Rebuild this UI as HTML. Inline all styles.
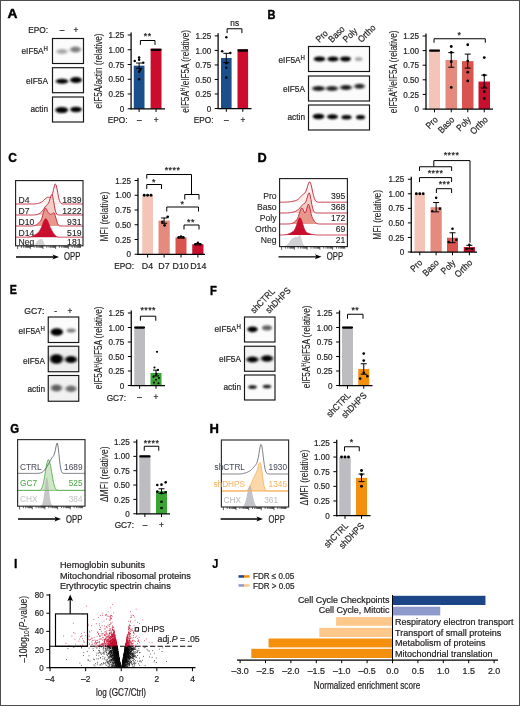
<!DOCTYPE html>
<html><head><meta charset="utf-8"><title>Figure</title>
<style>html,body{margin:0;padding:0;background:#fff;}body{width:520px;height:706px;overflow:hidden;}svg text{white-space:pre;}</style>
</head><body>
<svg width="520" height="706" viewBox="0 0 520 706" font-family='"Liberation Sans", sans-serif' style="display:block">
<defs><filter id="b1" x="-50%" y="-50%" width="200%" height="200%"><feGaussianBlur stdDeviation="1.1 0.8"/></filter><filter id="b2" x="-50%" y="-50%" width="200%" height="200%"><feGaussianBlur stdDeviation="1.6 1.3"/></filter><filter id="b0" x="-50%" y="-50%" width="200%" height="200%"><feGaussianBlur stdDeviation="0.35"/></filter><clipPath id="c3"><rect x="52.5" y="38.5" width="31.0" height="25.0"/></clipPath><clipPath id="c4"><rect x="52.5" y="67.7" width="31.0" height="25.0"/></clipPath><clipPath id="c5"><rect x="52.5" y="97" width="31.0" height="25"/></clipPath><clipPath id="c6"><rect x="308.5" y="46.5" width="61.0" height="25.0"/></clipPath><clipPath id="c7"><rect x="308.5" y="76" width="61.0" height="25"/></clipPath><clipPath id="c8"><rect x="308.5" y="105" width="61.0" height="25"/></clipPath><clipPath id="c9"><rect x="48.25" y="317" width="30.5" height="25.5"/></clipPath><clipPath id="c10"><rect x="48.25" y="346.25" width="30.5" height="25.5"/></clipPath><clipPath id="c11"><rect x="48.25" y="375.5" width="30.5" height="25.75"/></clipPath><clipPath id="c12"><rect x="244.5" y="317" width="30.5" height="25"/></clipPath><clipPath id="c13"><rect x="244.5" y="346.25" width="30.5" height="25.0"/></clipPath><clipPath id="c14"><rect x="244.5" y="375" width="30.5" height="25"/></clipPath></defs>
<rect x="0.00" y="0.00" width="520.00" height="706.00" fill="#fff"/>
<rect x="0.50" y="0.50" width="519.00" height="705.00" fill="none" stroke="#4d4d4d" stroke-width="1"/>
<text transform="translate(7.50 18.00) scale(1.06 1)" font-size="13" text-anchor="start" fill="#000" font-weight="bold" stroke="#000" stroke-width="0.5" stroke-linejoin="round">A</text>
<text transform="translate(48.00 33.00) scale(0.9 1)" font-size="9.2" text-anchor="end" fill="#231f20" stroke="#231f20" stroke-width="0.22">EPO:</text>
<text transform="translate(62.00 33.00) scale(0.9 1)" font-size="9.2" text-anchor="middle" fill="#231f20" stroke="#231f20" stroke-width="0.22">–</text>
<text transform="translate(76.00 33.00) scale(0.9 1)" font-size="9.2" text-anchor="middle" fill="#231f20" stroke="#231f20" stroke-width="0.22">+</text>
<rect x="52.50" y="38.50" width="31.00" height="25.00" fill="#fbfbfb"/>
<g clip-path="url(#c3)">
<ellipse cx="62" cy="51.5" rx="5.6" ry="2.5" fill="#000" opacity="0.33" filter="url(#b2)"/>
<ellipse cx="75.5" cy="49.5" rx="5.4" ry="3.0" fill="#000" opacity="0.5" filter="url(#b2)"/>
</g>
<rect x="52.50" y="38.50" width="31.00" height="25.00" fill="none" stroke="#151515" stroke-width="1.15"/>
<rect x="52.50" y="67.70" width="31.00" height="25.00" fill="#fbfbfb"/>
<g clip-path="url(#c4)">
<ellipse cx="62" cy="81.3" rx="6.2" ry="2.5" fill="#000" opacity="1" filter="url(#b1)"/>
<ellipse cx="76" cy="80" rx="6" ry="3.0" fill="#000" opacity="1" filter="url(#b1)"/>
</g>
<rect x="52.50" y="67.70" width="31.00" height="25.00" fill="none" stroke="#151515" stroke-width="1.15"/>
<rect x="52.50" y="97.00" width="31.00" height="25.00" fill="#fbfbfb"/>
<g clip-path="url(#c5)">
<ellipse cx="61.7" cy="110" rx="6.4" ry="3.1" fill="#000" opacity="1" filter="url(#b1)"/>
<ellipse cx="76" cy="109.5" rx="5.8" ry="2.7" fill="#000" opacity="1" filter="url(#b1)"/>
</g>
<rect x="52.50" y="97.00" width="31.00" height="25.00" fill="none" stroke="#151515" stroke-width="1.15"/>
<text transform="translate(48.00 54.00) scale(0.9 1)" font-size="9.2" text-anchor="end" fill="#231f20" stroke="#231f20" stroke-width="0.22">eIF5A<tspan font-size="6.8" dy="-3.4">H</tspan></text>
<text transform="translate(48.00 83.80) scale(0.9 1)" font-size="9.2" text-anchor="end" fill="#231f20" stroke="#231f20" stroke-width="0.22">eIF5A</text>
<text transform="translate(48.00 112.00) scale(0.9 1)" font-size="9.2" text-anchor="end" fill="#231f20" stroke="#231f20" stroke-width="0.22">actin</text>
<text transform="translate(101.50 71.00) rotate(-90) scale(0.79 1)" font-size="10.3" text-anchor="middle" fill="#231f20" stroke="#231f20" stroke-width="0.1">eIF5A/actin (relative)</text>
<rect x="133.75" y="65.68" width="10.75" height="43.07" fill="#1b4f8c"/>
<rect x="150.60" y="48.65" width="10.90" height="60.10" fill="#cb0c2c"/>
<line x1="131.10" y1="32.40" x2="131.10" y2="109.35" stroke="#000" stroke-width="1.25"/>
<line x1="130.40" y1="108.75" x2="165.00" y2="108.75" stroke="#000" stroke-width="1.25"/>
<line x1="127.70" y1="35.00" x2="131.10" y2="35.00" stroke="#000" stroke-width="1.0"/>
<text transform="translate(124.20 38.10) scale(0.89 1)" font-size="9.1" text-anchor="end" fill="#231f20" stroke="#231f20" stroke-width="0.22">1.25</text>
<line x1="127.70" y1="49.75" x2="131.10" y2="49.75" stroke="#000" stroke-width="1.0"/>
<text transform="translate(124.20 52.85) scale(0.89 1)" font-size="9.1" text-anchor="end" fill="#231f20" stroke="#231f20" stroke-width="0.22">1.00</text>
<line x1="127.70" y1="64.50" x2="131.10" y2="64.50" stroke="#000" stroke-width="1.0"/>
<text transform="translate(124.20 67.60) scale(0.89 1)" font-size="9.1" text-anchor="end" fill="#231f20" stroke="#231f20" stroke-width="0.22">0.75</text>
<line x1="127.70" y1="79.25" x2="131.10" y2="79.25" stroke="#000" stroke-width="1.0"/>
<text transform="translate(124.20 82.35) scale(0.89 1)" font-size="9.1" text-anchor="end" fill="#231f20" stroke="#231f20" stroke-width="0.22">0.50</text>
<line x1="127.70" y1="94.00" x2="131.10" y2="94.00" stroke="#000" stroke-width="1.0"/>
<text transform="translate(124.20 97.10) scale(0.89 1)" font-size="9.1" text-anchor="end" fill="#231f20" stroke="#231f20" stroke-width="0.22">0.25</text>
<line x1="127.70" y1="108.75" x2="131.10" y2="108.75" stroke="#000" stroke-width="1.0"/>
<text transform="translate(124.20 111.85) scale(0.89 1)" font-size="9.1" text-anchor="end" fill="#231f20" stroke="#231f20" stroke-width="0.22">0</text>
<line x1="139.12" y1="108.75" x2="139.12" y2="112.05" stroke="#000" stroke-width="1.0"/>
<line x1="139.12" y1="63.03" x2="139.12" y2="68.34" stroke="#000" stroke-width="1.0"/>
<line x1="136.12" y1="63.03" x2="142.12" y2="63.03" stroke="#000" stroke-width="1.0"/>
<line x1="136.12" y1="68.34" x2="142.12" y2="68.34" stroke="#000" stroke-width="1.0"/>
<circle cx="139.12" cy="57.60" r="1.25" fill="#000"/>
<circle cx="134.72" cy="60.96" r="1.25" fill="#000"/>
<circle cx="139.12" cy="59.78" r="1.25" fill="#000"/>
<circle cx="143.22" cy="62.73" r="1.25" fill="#000"/>
<circle cx="140.32" cy="69.81" r="1.25" fill="#000"/>
<circle cx="139.12" cy="71.76" r="1.25" fill="#000"/>
<circle cx="139.12" cy="79.25" r="1.25" fill="#000"/>
<line x1="156.05" y1="108.75" x2="156.05" y2="112.05" stroke="#000" stroke-width="1.0"/>
<line x1="151.70" y1="49.85" x2="160.40" y2="49.85" stroke="#000" stroke-width="2.3" stroke-linecap="round"/>
<path d="M140.40 44.90V40.50H155.00V44.90" fill="none" stroke="#000" stroke-width="1.0"/>
<text transform="translate(147.75 38.60)" font-size="8.9" text-anchor="middle" fill="#231f20" stroke="#231f20" stroke-width="0.22" letter-spacing="0.45">**</text>
<text transform="translate(127.50 123.20) scale(0.9 1)" font-size="9.2" text-anchor="end" fill="#231f20" stroke="#231f20" stroke-width="0.22">EPO:</text>
<text transform="translate(139.20 123.20) scale(0.9 1)" font-size="9.2" text-anchor="middle" fill="#231f20" stroke="#231f20" stroke-width="0.22">–</text>
<text transform="translate(156.20 123.20) scale(0.9 1)" font-size="9.2" text-anchor="middle" fill="#231f20" stroke="#231f20" stroke-width="0.22">+</text>
<text transform="translate(188.50 71.50) rotate(-90) scale(0.79 1)" font-size="10.3" text-anchor="middle" fill="#231f20" stroke="#231f20" stroke-width="0.1">eIF5A<tspan font-size="6.5" dy="-3.2">H</tspan><tspan dy="3.2">/eIF5A (relative)</tspan></text>
<rect x="221.00" y="57.97" width="10.60" height="50.53" fill="#1b4f8c"/>
<rect x="237.50" y="49.32" width="10.60" height="59.18" fill="#cb0c2c"/>
<line x1="218.10" y1="33.30" x2="218.10" y2="109.10" stroke="#000" stroke-width="1.25"/>
<line x1="217.40" y1="108.50" x2="251.50" y2="108.50" stroke="#000" stroke-width="1.25"/>
<line x1="214.70" y1="35.90" x2="218.10" y2="35.90" stroke="#000" stroke-width="1.0"/>
<text transform="translate(211.20 39.00) scale(0.89 1)" font-size="9.1" text-anchor="end" fill="#231f20" stroke="#231f20" stroke-width="0.22">1.25</text>
<line x1="214.70" y1="50.42" x2="218.10" y2="50.42" stroke="#000" stroke-width="1.0"/>
<text transform="translate(211.20 53.52) scale(0.89 1)" font-size="9.1" text-anchor="end" fill="#231f20" stroke="#231f20" stroke-width="0.22">1.00</text>
<line x1="214.70" y1="64.94" x2="218.10" y2="64.94" stroke="#000" stroke-width="1.0"/>
<text transform="translate(211.20 68.04) scale(0.89 1)" font-size="9.1" text-anchor="end" fill="#231f20" stroke="#231f20" stroke-width="0.22">0.75</text>
<line x1="214.70" y1="79.46" x2="218.10" y2="79.46" stroke="#000" stroke-width="1.0"/>
<text transform="translate(211.20 82.56) scale(0.89 1)" font-size="9.1" text-anchor="end" fill="#231f20" stroke="#231f20" stroke-width="0.22">0.50</text>
<line x1="214.70" y1="93.98" x2="218.10" y2="93.98" stroke="#000" stroke-width="1.0"/>
<text transform="translate(211.20 97.08) scale(0.89 1)" font-size="9.1" text-anchor="end" fill="#231f20" stroke="#231f20" stroke-width="0.22">0.25</text>
<line x1="214.70" y1="108.50" x2="218.10" y2="108.50" stroke="#000" stroke-width="1.0"/>
<text transform="translate(211.20 111.60) scale(0.89 1)" font-size="9.1" text-anchor="end" fill="#231f20" stroke="#231f20" stroke-width="0.22">0</text>
<line x1="226.30" y1="108.50" x2="226.30" y2="111.80" stroke="#000" stroke-width="1.0"/>
<line x1="226.30" y1="53.32" x2="226.30" y2="62.62" stroke="#000" stroke-width="1.0"/>
<line x1="223.30" y1="53.32" x2="229.30" y2="53.32" stroke="#000" stroke-width="1.0"/>
<line x1="223.30" y1="62.62" x2="229.30" y2="62.62" stroke="#000" stroke-width="1.0"/>
<circle cx="226.30" cy="37.35" r="1.25" fill="#000"/>
<circle cx="222.20" cy="51.29" r="1.25" fill="#000"/>
<circle cx="230.30" cy="53.03" r="1.25" fill="#000"/>
<circle cx="226.30" cy="63.20" r="1.25" fill="#000"/>
<circle cx="226.30" cy="67.84" r="1.25" fill="#000"/>
<circle cx="226.30" cy="77.43" r="1.25" fill="#000"/>
<line x1="242.80" y1="108.50" x2="242.80" y2="111.80" stroke="#000" stroke-width="1.0"/>
<line x1="238.60" y1="50.52" x2="247.00" y2="50.52" stroke="#000" stroke-width="2.3" stroke-linecap="round"/>
<path d="M227.10 33.15V28.75H241.90V33.15" fill="none" stroke="#000" stroke-width="1.0"/>
<text transform="translate(234.75 26.20) scale(0.9 1)" font-size="9.2" text-anchor="middle" fill="#231f20" stroke="#231f20" stroke-width="0.22">ns</text>
<text transform="translate(213.50 123.20) scale(0.9 1)" font-size="9.2" text-anchor="end" fill="#231f20" stroke="#231f20" stroke-width="0.22">EPO:</text>
<text transform="translate(226.30 123.20) scale(0.9 1)" font-size="9.2" text-anchor="middle" fill="#231f20" stroke="#231f20" stroke-width="0.22">–</text>
<text transform="translate(243.00 123.20) scale(0.9 1)" font-size="9.2" text-anchor="middle" fill="#231f20" stroke="#231f20" stroke-width="0.22">+</text>
<text transform="translate(267.60 18.50) scale(0.85 1)" font-size="13" text-anchor="start" fill="#000" font-weight="bold" stroke="#000" stroke-width="0.45" stroke-linejoin="round">B</text>
<text transform="translate(319.50 43.00) rotate(-45) scale(0.9 1)" font-size="9.2" text-anchor="start" fill="#231f20" stroke="#231f20" stroke-width="0.22">Pro</text>
<text transform="translate(332.00 43.00) rotate(-45) scale(0.9 1)" font-size="9.2" text-anchor="start" fill="#231f20" stroke="#231f20" stroke-width="0.22">Baso</text>
<text transform="translate(346.50 43.00) rotate(-45) scale(0.9 1)" font-size="9.2" text-anchor="start" fill="#231f20" stroke="#231f20" stroke-width="0.22">Poly</text>
<text transform="translate(361.50 43.00) rotate(-45) scale(0.9 1)" font-size="9.2" text-anchor="start" fill="#231f20" stroke="#231f20" stroke-width="0.22">Ortho</text>
<rect x="308.50" y="46.50" width="61.00" height="25.00" fill="#fbfbfb"/>
<g clip-path="url(#c6)">
<ellipse cx="319.5" cy="59" rx="5.8" ry="2.6" fill="#000" opacity="1" filter="url(#b1)"/>
<ellipse cx="333" cy="59" rx="5.6" ry="2.6" fill="#000" opacity="1" filter="url(#b1)"/>
<ellipse cx="345.5" cy="59" rx="5.3" ry="2.4" fill="#000" opacity="1" filter="url(#b1)"/>
<ellipse cx="358.7" cy="59" rx="3.8" ry="2.0" fill="#000" opacity="0.33" filter="url(#b1)"/>
</g>
<rect x="308.50" y="46.50" width="61.00" height="25.00" fill="none" stroke="#151515" stroke-width="1.15"/>
<rect x="308.50" y="76.00" width="61.00" height="25.00" fill="#fbfbfb"/>
<g clip-path="url(#c7)">
<ellipse cx="318.5" cy="88.5" rx="6.3" ry="2.6" fill="#000" opacity="0.9" filter="url(#b2)"/>
<ellipse cx="332" cy="88.5" rx="6.0" ry="2.6" fill="#000" opacity="0.85" filter="url(#b2)"/>
<ellipse cx="346" cy="87.5" rx="5.8" ry="2.6" fill="#000" opacity="0.9" filter="url(#b2)"/>
<ellipse cx="359.5" cy="86.3" rx="5" ry="2.5" fill="#000" opacity="0.85" filter="url(#b2)"/>
</g>
<rect x="308.50" y="76.00" width="61.00" height="25.00" fill="none" stroke="#151515" stroke-width="1.15"/>
<rect x="308.50" y="105.00" width="61.00" height="25.00" fill="#fbfbfb"/>
<g clip-path="url(#c8)">
<ellipse cx="318.5" cy="116.5" rx="5.8" ry="2.7" fill="#000" opacity="1" filter="url(#b1)"/>
<ellipse cx="332.5" cy="116.8" rx="5.5" ry="2.5" fill="#000" opacity="1" filter="url(#b1)"/>
<ellipse cx="346.5" cy="117.2" rx="5" ry="2.2" fill="#000" opacity="1" filter="url(#b1)"/>
<ellipse cx="360.5" cy="117.2" rx="4.5" ry="2.2" fill="#000" opacity="1" filter="url(#b1)"/>
</g>
<rect x="308.50" y="105.00" width="61.00" height="25.00" fill="none" stroke="#151515" stroke-width="1.15"/>
<text transform="translate(305.00 63.00) scale(0.9 1)" font-size="9.2" text-anchor="end" fill="#231f20" stroke="#231f20" stroke-width="0.22">eIF5A<tspan font-size="6.8" dy="-3.4">H</tspan></text>
<text transform="translate(305.00 91.50) scale(0.9 1)" font-size="9.2" text-anchor="end" fill="#231f20" stroke="#231f20" stroke-width="0.22">eIF5A</text>
<text transform="translate(305.00 120.00) scale(0.9 1)" font-size="9.2" text-anchor="end" fill="#231f20" stroke="#231f20" stroke-width="0.22">actin</text>
<text transform="translate(396.50 72.00) rotate(-90) scale(0.79 1)" font-size="10.3" text-anchor="middle" fill="#231f20" stroke="#231f20" stroke-width="0.1">eIF5A<tspan font-size="6.5" dy="-3.2">H</tspan><tspan dy="3.2">/eIF5A (relative)</tspan></text>
<rect x="429.00" y="49.50" width="11.00" height="59.50" fill="#f5c4b8"/>
<rect x="445.50" y="59.94" width="11.50" height="49.06" fill="#e58a7e"/>
<rect x="462.00" y="61.11" width="11.50" height="47.89" fill="#d9544f"/>
<rect x="478.50" y="81.55" width="11.50" height="27.45" fill="#c8102e"/>
<line x1="426.00" y1="33.40" x2="426.00" y2="109.60" stroke="#000" stroke-width="1.25"/>
<line x1="425.30" y1="109.00" x2="493.00" y2="109.00" stroke="#000" stroke-width="1.25"/>
<line x1="422.60" y1="36.00" x2="426.00" y2="36.00" stroke="#000" stroke-width="1.0"/>
<text transform="translate(419.10 39.10) scale(0.89 1)" font-size="9.1" text-anchor="end" fill="#231f20" stroke="#231f20" stroke-width="0.22">1.25</text>
<line x1="422.60" y1="50.60" x2="426.00" y2="50.60" stroke="#000" stroke-width="1.0"/>
<text transform="translate(419.10 53.70) scale(0.89 1)" font-size="9.1" text-anchor="end" fill="#231f20" stroke="#231f20" stroke-width="0.22">1.00</text>
<line x1="422.60" y1="65.20" x2="426.00" y2="65.20" stroke="#000" stroke-width="1.0"/>
<text transform="translate(419.10 68.30) scale(0.89 1)" font-size="9.1" text-anchor="end" fill="#231f20" stroke="#231f20" stroke-width="0.22">0.75</text>
<line x1="422.60" y1="79.80" x2="426.00" y2="79.80" stroke="#000" stroke-width="1.0"/>
<text transform="translate(419.10 82.90) scale(0.89 1)" font-size="9.1" text-anchor="end" fill="#231f20" stroke="#231f20" stroke-width="0.22">0.50</text>
<line x1="422.60" y1="94.40" x2="426.00" y2="94.40" stroke="#000" stroke-width="1.0"/>
<text transform="translate(419.10 97.50) scale(0.89 1)" font-size="9.1" text-anchor="end" fill="#231f20" stroke="#231f20" stroke-width="0.22">0.25</text>
<line x1="422.60" y1="109.00" x2="426.00" y2="109.00" stroke="#000" stroke-width="1.0"/>
<text transform="translate(419.10 112.10) scale(0.89 1)" font-size="9.1" text-anchor="end" fill="#231f20" stroke="#231f20" stroke-width="0.22">0</text>
<line x1="434.50" y1="109.00" x2="434.50" y2="112.30" stroke="#000" stroke-width="1.0"/>
<line x1="430.10" y1="50.70" x2="438.90" y2="50.70" stroke="#000" stroke-width="2.3" stroke-linecap="round"/>
<line x1="451.25" y1="109.00" x2="451.25" y2="112.30" stroke="#000" stroke-width="1.0"/>
<line x1="451.25" y1="52.64" x2="451.25" y2="67.24" stroke="#000" stroke-width="1.0"/>
<line x1="448.25" y1="52.64" x2="454.25" y2="52.64" stroke="#000" stroke-width="1.0"/>
<line x1="448.25" y1="67.24" x2="454.25" y2="67.24" stroke="#000" stroke-width="1.0"/>
<circle cx="451.25" cy="46.51" r="1.4" fill="#000"/>
<circle cx="451.25" cy="52.35" r="1.4" fill="#000"/>
<circle cx="451.25" cy="61.70" r="1.4" fill="#000"/>
<circle cx="451.25" cy="87.39" r="1.4" fill="#000"/>
<line x1="467.75" y1="109.00" x2="467.75" y2="112.30" stroke="#000" stroke-width="1.0"/>
<line x1="467.75" y1="54.10" x2="467.75" y2="68.12" stroke="#000" stroke-width="1.0"/>
<line x1="464.75" y1="54.10" x2="470.75" y2="54.10" stroke="#000" stroke-width="1.0"/>
<line x1="464.75" y1="68.12" x2="470.75" y2="68.12" stroke="#000" stroke-width="1.0"/>
<circle cx="467.75" cy="44.76" r="1.4" fill="#000"/>
<circle cx="467.75" cy="61.11" r="1.4" fill="#000"/>
<circle cx="467.75" cy="72.21" r="1.4" fill="#000"/>
<circle cx="467.75" cy="80.97" r="1.4" fill="#000"/>
<line x1="484.25" y1="109.00" x2="484.25" y2="112.30" stroke="#000" stroke-width="1.0"/>
<line x1="484.25" y1="75.13" x2="484.25" y2="87.98" stroke="#000" stroke-width="1.0"/>
<line x1="481.25" y1="75.13" x2="487.25" y2="75.13" stroke="#000" stroke-width="1.0"/>
<line x1="481.25" y1="87.98" x2="487.25" y2="87.98" stroke="#000" stroke-width="1.0"/>
<circle cx="484.25" cy="57.61" r="1.4" fill="#000"/>
<circle cx="484.25" cy="75.13" r="1.4" fill="#000"/>
<circle cx="484.25" cy="86.81" r="1.4" fill="#000"/>
<circle cx="484.25" cy="91.48" r="1.4" fill="#000"/>
<circle cx="484.25" cy="98.49" r="1.4" fill="#000"/>
<path d="M434.00 42.75V38.75H485.30V42.75" fill="none" stroke="#000" stroke-width="1.0"/>
<text transform="translate(459.50 38.20)" font-size="8.9" text-anchor="middle" fill="#231f20" stroke="#231f20" stroke-width="0.22" letter-spacing="0.45">*</text>
<text transform="translate(438.50 120.30) rotate(-45) scale(0.9 1)" font-size="9.2" text-anchor="end" fill="#231f20" stroke="#231f20" stroke-width="0.22">Pro</text>
<text transform="translate(455.00 120.30) rotate(-45) scale(0.9 1)" font-size="9.2" text-anchor="end" fill="#231f20" stroke="#231f20" stroke-width="0.22">Baso</text>
<text transform="translate(471.50 120.30) rotate(-45) scale(0.9 1)" font-size="9.2" text-anchor="end" fill="#231f20" stroke="#231f20" stroke-width="0.22">Poly</text>
<text transform="translate(488.50 120.30) rotate(-45) scale(0.9 1)" font-size="9.2" text-anchor="end" fill="#231f20" stroke="#231f20" stroke-width="0.22">Ortho</text>
<text transform="translate(8.20 161.50) scale(0.92 1)" font-size="13" text-anchor="start" fill="#000" font-weight="bold" stroke="#000" stroke-width="0.4" stroke-linejoin="round">C</text>
<rect x="15.60" y="180.60" width="67.40" height="65.20" fill="#fff"/>
<path d="M15.60 204.00 L16.44 204.00 L17.29 204.00 L18.13 204.00 L18.97 204.00 L19.81 204.00 L20.66 204.00 L21.50 204.00 L22.34 204.00 L23.18 204.00 L24.02 204.00 L24.87 204.00 L25.71 204.00 L26.55 204.00 L27.40 204.00 L28.24 204.00 L29.08 204.00 L29.92 204.00 L30.77 203.99 L31.61 203.99 L32.45 203.98 L33.29 203.96 L34.14 203.93 L34.98 203.88 L35.82 203.80 L36.66 203.70 L37.51 203.56 L38.35 203.37 L39.19 203.13 L40.03 202.83 L40.88 202.44 L41.72 201.97 L42.56 201.38 L43.40 200.68 L44.25 199.90 L45.09 199.07 L45.93 198.29 L46.77 197.67 L47.62 197.30 L48.46 197.24 L49.30 197.42 L50.14 197.60 L50.99 197.32 L51.83 196.03 L52.67 193.35 L53.51 189.60 L54.36 185.93 L55.20 183.92 L56.04 184.69 L56.88 188.06 L57.73 192.75 L58.57 197.23 L59.41 200.53 L60.25 202.48 L61.10 203.44 L61.94 203.82 L62.78 203.95 L63.62 203.99 L64.47 204.00 L65.31 204.00 L66.15 204.00 L66.99 204.00 L67.83 204.00 L68.68 204.00 L69.52 204.00 L70.36 204.00 L71.20 204.00 L72.05 204.00 L72.89 204.00 L73.73 204.00 L74.58 204.00 L75.42 204.00 L76.26 204.00 L77.10 204.00 L77.95 204.00 L78.79 204.00 L79.63 204.00 L80.47 204.00 L81.31 204.00 L82.16 204.00 L83.00 204.00 L83.00 204.00 L15.60 204.00Z" fill="#fdf0ec" fill-opacity="1.0"/>
<path d="M15.60 204.00 L16.44 204.00 L17.29 204.00 L18.13 204.00 L18.97 204.00 L19.81 204.00 L20.66 204.00 L21.50 204.00 L22.34 204.00 L23.18 204.00 L24.02 204.00 L24.87 204.00 L25.71 204.00 L26.55 204.00 L27.40 204.00 L28.24 204.00 L29.08 204.00 L29.92 204.00 L30.77 203.99 L31.61 203.99 L32.45 203.98 L33.29 203.96 L34.14 203.93 L34.98 203.88 L35.82 203.80 L36.66 203.70 L37.51 203.56 L38.35 203.37 L39.19 203.13 L40.03 202.83 L40.88 202.44 L41.72 201.97 L42.56 201.38 L43.40 200.68 L44.25 199.90 L45.09 199.07 L45.93 198.29 L46.77 197.67 L47.62 197.30 L48.46 197.24 L49.30 197.42 L50.14 197.60 L50.99 197.32 L51.83 196.03 L52.67 193.35 L53.51 189.60 L54.36 185.93 L55.20 183.92 L56.04 184.69 L56.88 188.06 L57.73 192.75 L58.57 197.23 L59.41 200.53 L60.25 202.48 L61.10 203.44 L61.94 203.82 L62.78 203.95 L63.62 203.99 L64.47 204.00 L65.31 204.00 L66.15 204.00 L66.99 204.00 L67.83 204.00 L68.68 204.00 L69.52 204.00 L70.36 204.00 L71.20 204.00 L72.05 204.00 L72.89 204.00 L73.73 204.00 L74.58 204.00 L75.42 204.00 L76.26 204.00 L77.10 204.00 L77.95 204.00 L78.79 204.00 L79.63 204.00 L80.47 204.00 L81.31 204.00 L82.16 204.00 L83.00 204.00" fill="none" stroke="#c42a40" stroke-width="0.95" stroke-linejoin="round"/>
<path d="M15.60 215.00 L16.44 215.00 L17.29 215.00 L18.13 215.00 L18.97 215.00 L19.81 215.00 L20.66 215.00 L21.50 215.00 L22.34 215.00 L23.18 215.00 L24.02 215.00 L24.87 215.00 L25.71 215.00 L26.55 215.00 L27.40 215.00 L28.24 215.00 L29.08 215.00 L29.92 215.00 L30.77 215.00 L31.61 214.99 L32.45 214.98 L33.29 214.96 L34.14 214.91 L34.98 214.85 L35.82 214.74 L36.66 214.58 L37.51 214.35 L38.35 214.05 L39.19 213.65 L40.03 213.14 L40.88 212.49 L41.72 211.67 L42.56 210.66 L43.40 209.47 L44.25 208.17 L45.09 206.89 L45.93 205.80 L46.77 204.99 L47.62 204.30 L48.46 203.28 L49.30 201.37 L50.14 198.51 L50.99 195.66 L51.83 194.50 L52.67 196.24 L53.51 200.53 L54.36 205.69 L55.20 210.04 L56.04 212.81 L56.88 214.20 L57.73 214.75 L58.57 214.94 L59.41 214.99 L60.25 215.00 L61.10 215.00 L61.94 215.00 L62.78 215.00 L63.62 215.00 L64.47 215.00 L65.31 215.00 L66.15 215.00 L66.99 215.00 L67.83 215.00 L68.68 215.00 L69.52 215.00 L70.36 215.00 L71.20 215.00 L72.05 215.00 L72.89 215.00 L73.73 215.00 L74.58 215.00 L75.42 215.00 L76.26 215.00 L77.10 215.00 L77.95 215.00 L78.79 215.00 L79.63 215.00 L80.47 215.00 L81.31 215.00 L82.16 215.00 L83.00 215.00 L83.00 215.00 L15.60 215.00Z" fill="#f5cdc4" fill-opacity="1.0"/>
<path d="M15.60 215.00 L16.44 215.00 L17.29 215.00 L18.13 215.00 L18.97 215.00 L19.81 215.00 L20.66 215.00 L21.50 215.00 L22.34 215.00 L23.18 215.00 L24.02 215.00 L24.87 215.00 L25.71 215.00 L26.55 215.00 L27.40 215.00 L28.24 215.00 L29.08 215.00 L29.92 215.00 L30.77 215.00 L31.61 214.99 L32.45 214.98 L33.29 214.96 L34.14 214.91 L34.98 214.85 L35.82 214.74 L36.66 214.58 L37.51 214.35 L38.35 214.05 L39.19 213.65 L40.03 213.14 L40.88 212.49 L41.72 211.67 L42.56 210.66 L43.40 209.47 L44.25 208.17 L45.09 206.89 L45.93 205.80 L46.77 204.99 L47.62 204.30 L48.46 203.28 L49.30 201.37 L50.14 198.51 L50.99 195.66 L51.83 194.50 L52.67 196.24 L53.51 200.53 L54.36 205.69 L55.20 210.04 L56.04 212.81 L56.88 214.20 L57.73 214.75 L58.57 214.94 L59.41 214.99 L60.25 215.00 L61.10 215.00 L61.94 215.00 L62.78 215.00 L63.62 215.00 L64.47 215.00 L65.31 215.00 L66.15 215.00 L66.99 215.00 L67.83 215.00 L68.68 215.00 L69.52 215.00 L70.36 215.00 L71.20 215.00 L72.05 215.00 L72.89 215.00 L73.73 215.00 L74.58 215.00 L75.42 215.00 L76.26 215.00 L77.10 215.00 L77.95 215.00 L78.79 215.00 L79.63 215.00 L80.47 215.00 L81.31 215.00 L82.16 215.00 L83.00 215.00" fill="none" stroke="#c42a40" stroke-width="0.95" stroke-linejoin="round"/>
<path d="M15.60 226.00 L16.44 226.00 L17.29 226.00 L18.13 226.00 L18.97 226.00 L19.81 226.00 L20.66 226.00 L21.50 226.00 L22.34 226.00 L23.18 226.00 L24.02 226.00 L24.87 226.00 L25.71 226.00 L26.55 226.00 L27.40 226.00 L28.24 226.00 L29.08 226.00 L29.92 226.00 L30.77 225.99 L31.61 225.97 L32.45 225.93 L33.29 225.85 L34.14 225.71 L34.98 225.47 L35.82 225.11 L36.66 224.61 L37.51 223.98 L38.35 223.27 L39.19 222.49 L40.03 221.60 L40.88 220.38 L41.72 218.50 L42.56 215.78 L43.40 212.55 L44.25 209.69 L45.09 208.20 L45.93 208.44 L46.77 209.89 L47.62 211.60 L48.46 212.91 L49.30 213.75 L50.14 214.25 L50.99 214.41 L51.83 214.06 L52.67 213.30 L53.51 212.77 L54.36 213.36 L55.20 215.46 L56.04 218.54 L56.88 221.59 L57.73 223.83 L58.57 225.12 L59.41 225.70 L60.25 225.92 L61.10 225.98 L61.94 226.00 L62.78 226.00 L63.62 226.00 L64.47 226.00 L65.31 226.00 L66.15 226.00 L66.99 226.00 L67.83 226.00 L68.68 226.00 L69.52 226.00 L70.36 226.00 L71.20 226.00 L72.05 226.00 L72.89 226.00 L73.73 226.00 L74.58 226.00 L75.42 226.00 L76.26 226.00 L77.10 226.00 L77.95 226.00 L78.79 226.00 L79.63 226.00 L80.47 226.00 L81.31 226.00 L82.16 226.00 L83.00 226.00 L83.00 226.00 L15.60 226.00Z" fill="#e8978c" fill-opacity="1.0"/>
<path d="M15.60 226.00 L16.44 226.00 L17.29 226.00 L18.13 226.00 L18.97 226.00 L19.81 226.00 L20.66 226.00 L21.50 226.00 L22.34 226.00 L23.18 226.00 L24.02 226.00 L24.87 226.00 L25.71 226.00 L26.55 226.00 L27.40 226.00 L28.24 226.00 L29.08 226.00 L29.92 226.00 L30.77 225.99 L31.61 225.97 L32.45 225.93 L33.29 225.85 L34.14 225.71 L34.98 225.47 L35.82 225.11 L36.66 224.61 L37.51 223.98 L38.35 223.27 L39.19 222.49 L40.03 221.60 L40.88 220.38 L41.72 218.50 L42.56 215.78 L43.40 212.55 L44.25 209.69 L45.09 208.20 L45.93 208.44 L46.77 209.89 L47.62 211.60 L48.46 212.91 L49.30 213.75 L50.14 214.25 L50.99 214.41 L51.83 214.06 L52.67 213.30 L53.51 212.77 L54.36 213.36 L55.20 215.46 L56.04 218.54 L56.88 221.59 L57.73 223.83 L58.57 225.12 L59.41 225.70 L60.25 225.92 L61.10 225.98 L61.94 226.00 L62.78 226.00 L63.62 226.00 L64.47 226.00 L65.31 226.00 L66.15 226.00 L66.99 226.00 L67.83 226.00 L68.68 226.00 L69.52 226.00 L70.36 226.00 L71.20 226.00 L72.05 226.00 L72.89 226.00 L73.73 226.00 L74.58 226.00 L75.42 226.00 L76.26 226.00 L77.10 226.00 L77.95 226.00 L78.79 226.00 L79.63 226.00 L80.47 226.00 L81.31 226.00 L82.16 226.00 L83.00 226.00" fill="none" stroke="#c42a40" stroke-width="0.95" stroke-linejoin="round"/>
<path d="M15.60 237.20 L16.44 237.20 L17.29 237.20 L18.13 237.20 L18.97 237.20 L19.81 237.20 L20.66 237.20 L21.50 237.20 L22.34 237.20 L23.18 237.20 L24.02 237.19 L24.87 237.19 L25.71 237.17 L26.55 237.15 L27.40 237.12 L28.24 237.06 L29.08 236.98 L29.92 236.86 L30.77 236.70 L31.61 236.47 L32.45 236.19 L33.29 235.84 L34.14 235.42 L34.98 234.94 L35.82 234.42 L36.66 233.83 L37.51 233.18 L38.35 232.40 L39.19 231.43 L40.03 230.18 L40.88 228.58 L41.72 226.63 L42.56 224.43 L43.40 222.22 L44.25 220.33 L45.09 219.11 L45.93 218.80 L46.77 219.47 L47.62 220.98 L48.46 223.00 L49.30 225.18 L50.14 227.23 L50.99 229.05 L51.83 230.63 L52.67 232.06 L53.51 233.36 L54.36 234.51 L55.20 235.46 L56.04 236.18 L56.88 236.66 L57.73 236.94 L58.57 237.09 L59.41 237.16 L60.25 237.18 L61.10 237.20 L61.94 237.20 L62.78 237.20 L63.62 237.20 L64.47 237.20 L65.31 237.20 L66.15 237.20 L66.99 237.20 L67.83 237.20 L68.68 237.20 L69.52 237.20 L70.36 237.20 L71.20 237.20 L72.05 237.20 L72.89 237.20 L73.73 237.20 L74.58 237.20 L75.42 237.20 L76.26 237.20 L77.10 237.20 L77.95 237.20 L78.79 237.20 L79.63 237.20 L80.47 237.20 L81.31 237.20 L82.16 237.20 L83.00 237.20 L83.00 237.20 L15.60 237.20Z" fill="#c8102e" fill-opacity="1.0"/>
<path d="M15.60 237.20 L16.44 237.20 L17.29 237.20 L18.13 237.20 L18.97 237.20 L19.81 237.20 L20.66 237.20 L21.50 237.20 L22.34 237.20 L23.18 237.20 L24.02 237.19 L24.87 237.19 L25.71 237.17 L26.55 237.15 L27.40 237.12 L28.24 237.06 L29.08 236.98 L29.92 236.86 L30.77 236.70 L31.61 236.47 L32.45 236.19 L33.29 235.84 L34.14 235.42 L34.98 234.94 L35.82 234.42 L36.66 233.83 L37.51 233.18 L38.35 232.40 L39.19 231.43 L40.03 230.18 L40.88 228.58 L41.72 226.63 L42.56 224.43 L43.40 222.22 L44.25 220.33 L45.09 219.11 L45.93 218.80 L46.77 219.47 L47.62 220.98 L48.46 223.00 L49.30 225.18 L50.14 227.23 L50.99 229.05 L51.83 230.63 L52.67 232.06 L53.51 233.36 L54.36 234.51 L55.20 235.46 L56.04 236.18 L56.88 236.66 L57.73 236.94 L58.57 237.09 L59.41 237.16 L60.25 237.18 L61.10 237.20 L61.94 237.20 L62.78 237.20 L63.62 237.20 L64.47 237.20 L65.31 237.20 L66.15 237.20 L66.99 237.20 L67.83 237.20 L68.68 237.20 L69.52 237.20 L70.36 237.20 L71.20 237.20 L72.05 237.20 L72.89 237.20 L73.73 237.20 L74.58 237.20 L75.42 237.20 L76.26 237.20 L77.10 237.20 L77.95 237.20 L78.79 237.20 L79.63 237.20 L80.47 237.20 L81.31 237.20 L82.16 237.20 L83.00 237.20" fill="none" stroke="#c8102e" stroke-width="0.8" stroke-linejoin="round"/>
<path d="M15.60 245.60 L16.44 245.60 L17.29 245.60 L18.13 245.60 L18.97 245.60 L19.81 245.60 L20.66 245.60 L21.50 245.60 L22.34 245.60 L23.18 245.60 L24.02 245.60 L24.87 245.60 L25.71 245.60 L26.55 245.60 L27.40 245.60 L28.24 245.60 L29.08 245.60 L29.92 245.60 L30.77 245.60 L31.61 245.59 L32.45 245.57 L33.29 245.47 L34.14 245.14 L34.98 244.41 L35.82 243.21 L36.66 241.82 L37.51 240.66 L38.35 239.95 L39.19 239.59 L40.03 239.30 L40.88 238.90 L41.72 238.75 L42.56 239.62 L43.40 241.55 L44.25 243.59 L45.09 244.88 L45.93 245.42 L46.77 245.57 L47.62 245.60 L48.46 245.60 L49.30 245.60 L50.14 245.60 L50.99 245.60 L51.83 245.60 L52.67 245.60 L53.51 245.60 L54.36 245.60 L55.20 245.60 L56.04 245.60 L56.88 245.60 L57.73 245.60 L58.57 245.60 L59.41 245.60 L60.25 245.60 L61.10 245.60 L61.94 245.60 L62.78 245.60 L63.62 245.60 L64.47 245.60 L65.31 245.60 L66.15 245.60 L66.99 245.60 L67.83 245.60 L68.68 245.60 L69.52 245.60 L70.36 245.60 L71.20 245.60 L72.05 245.60 L72.89 245.60 L73.73 245.60 L74.58 245.60 L75.42 245.60 L76.26 245.60 L77.10 245.60 L77.95 245.60 L78.79 245.60 L79.63 245.60 L80.47 245.60 L81.31 245.60 L82.16 245.60 L83.00 245.60 L83.00 245.60 L15.60 245.60Z" fill="#d2d2d5" fill-opacity="1.0"/>
<rect x="15.60" y="180.60" width="67.40" height="65.20" fill="none" stroke="#1a1a1a" stroke-width="1.1"/>
<line x1="17.60" y1="245.80" x2="17.60" y2="249.00" stroke="#222" stroke-width="0.7"/>
<line x1="21.42" y1="245.80" x2="21.42" y2="247.80" stroke="#222" stroke-width="0.7"/>
<line x1="23.65" y1="245.80" x2="23.65" y2="247.80" stroke="#222" stroke-width="0.7"/>
<line x1="25.23" y1="245.80" x2="25.23" y2="247.80" stroke="#222" stroke-width="0.7"/>
<line x1="26.46" y1="245.80" x2="26.46" y2="247.80" stroke="#222" stroke-width="0.7"/>
<line x1="27.47" y1="245.80" x2="27.47" y2="247.80" stroke="#222" stroke-width="0.7"/>
<line x1="28.32" y1="245.80" x2="28.32" y2="247.80" stroke="#222" stroke-width="0.7"/>
<line x1="29.05" y1="245.80" x2="29.05" y2="247.80" stroke="#222" stroke-width="0.7"/>
<line x1="29.70" y1="245.80" x2="29.70" y2="247.80" stroke="#222" stroke-width="0.7"/>
<line x1="30.28" y1="245.80" x2="30.28" y2="249.00" stroke="#222" stroke-width="0.7"/>
<line x1="34.10" y1="245.80" x2="34.10" y2="247.80" stroke="#222" stroke-width="0.7"/>
<line x1="36.33" y1="245.80" x2="36.33" y2="247.80" stroke="#222" stroke-width="0.7"/>
<line x1="37.91" y1="245.80" x2="37.91" y2="247.80" stroke="#222" stroke-width="0.7"/>
<line x1="39.14" y1="245.80" x2="39.14" y2="247.80" stroke="#222" stroke-width="0.7"/>
<line x1="40.15" y1="245.80" x2="40.15" y2="247.80" stroke="#222" stroke-width="0.7"/>
<line x1="41.00" y1="245.80" x2="41.00" y2="247.80" stroke="#222" stroke-width="0.7"/>
<line x1="41.73" y1="245.80" x2="41.73" y2="247.80" stroke="#222" stroke-width="0.7"/>
<line x1="42.38" y1="245.80" x2="42.38" y2="247.80" stroke="#222" stroke-width="0.7"/>
<line x1="42.96" y1="245.80" x2="42.96" y2="249.00" stroke="#222" stroke-width="0.7"/>
<line x1="46.78" y1="245.80" x2="46.78" y2="247.80" stroke="#222" stroke-width="0.7"/>
<line x1="49.01" y1="245.80" x2="49.01" y2="247.80" stroke="#222" stroke-width="0.7"/>
<line x1="50.59" y1="245.80" x2="50.59" y2="247.80" stroke="#222" stroke-width="0.7"/>
<line x1="51.82" y1="245.80" x2="51.82" y2="247.80" stroke="#222" stroke-width="0.7"/>
<line x1="52.83" y1="245.80" x2="52.83" y2="247.80" stroke="#222" stroke-width="0.7"/>
<line x1="53.68" y1="245.80" x2="53.68" y2="247.80" stroke="#222" stroke-width="0.7"/>
<line x1="54.41" y1="245.80" x2="54.41" y2="247.80" stroke="#222" stroke-width="0.7"/>
<line x1="55.06" y1="245.80" x2="55.06" y2="247.80" stroke="#222" stroke-width="0.7"/>
<line x1="55.64" y1="245.80" x2="55.64" y2="249.00" stroke="#222" stroke-width="0.7"/>
<line x1="59.46" y1="245.80" x2="59.46" y2="247.80" stroke="#222" stroke-width="0.7"/>
<line x1="61.69" y1="245.80" x2="61.69" y2="247.80" stroke="#222" stroke-width="0.7"/>
<line x1="63.27" y1="245.80" x2="63.27" y2="247.80" stroke="#222" stroke-width="0.7"/>
<line x1="64.50" y1="245.80" x2="64.50" y2="247.80" stroke="#222" stroke-width="0.7"/>
<line x1="65.51" y1="245.80" x2="65.51" y2="247.80" stroke="#222" stroke-width="0.7"/>
<line x1="66.36" y1="245.80" x2="66.36" y2="247.80" stroke="#222" stroke-width="0.7"/>
<line x1="67.09" y1="245.80" x2="67.09" y2="247.80" stroke="#222" stroke-width="0.7"/>
<line x1="67.74" y1="245.80" x2="67.74" y2="247.80" stroke="#222" stroke-width="0.7"/>
<line x1="68.32" y1="245.80" x2="68.32" y2="249.00" stroke="#222" stroke-width="0.7"/>
<line x1="72.14" y1="245.80" x2="72.14" y2="247.80" stroke="#222" stroke-width="0.7"/>
<line x1="74.37" y1="245.80" x2="74.37" y2="247.80" stroke="#222" stroke-width="0.7"/>
<line x1="75.95" y1="245.80" x2="75.95" y2="247.80" stroke="#222" stroke-width="0.7"/>
<line x1="77.18" y1="245.80" x2="77.18" y2="247.80" stroke="#222" stroke-width="0.7"/>
<line x1="78.19" y1="245.80" x2="78.19" y2="247.80" stroke="#222" stroke-width="0.7"/>
<line x1="79.04" y1="245.80" x2="79.04" y2="247.80" stroke="#222" stroke-width="0.7"/>
<line x1="79.77" y1="245.80" x2="79.77" y2="247.80" stroke="#222" stroke-width="0.7"/>
<line x1="80.42" y1="245.80" x2="80.42" y2="247.80" stroke="#222" stroke-width="0.7"/>
<text transform="translate(18.40 203.00) scale(0.89 1)" font-size="9.7" text-anchor="start" fill="#222" stroke="#222" stroke-width="0.12">D4</text>
<text transform="translate(81.50 203.00) scale(0.89 1)" font-size="9.7" text-anchor="end" fill="#222" stroke="#222" stroke-width="0.12">1839</text>
<text transform="translate(18.40 214.00) scale(0.89 1)" font-size="9.7" text-anchor="start" fill="#222" stroke="#222" stroke-width="0.12">D7</text>
<text transform="translate(81.50 214.00) scale(0.89 1)" font-size="9.7" text-anchor="end" fill="#222" stroke="#222" stroke-width="0.12">1222</text>
<text transform="translate(18.40 225.00) scale(0.89 1)" font-size="9.7" text-anchor="start" fill="#222" stroke="#222" stroke-width="0.12">D10</text>
<text transform="translate(81.50 225.00) scale(0.89 1)" font-size="9.7" text-anchor="end" fill="#222" stroke="#222" stroke-width="0.12">931</text>
<text transform="translate(18.40 236.20) scale(0.89 1)" font-size="9.7" text-anchor="start" fill="#222" stroke="#222" stroke-width="0.12">D14</text>
<text transform="translate(81.50 236.20) scale(0.89 1)" font-size="9.7" text-anchor="end" fill="#222" stroke="#222" stroke-width="0.12">519</text>
<text transform="translate(18.40 245.00) scale(0.89 1)" font-size="9.7" text-anchor="start" fill="#222" stroke="#222" stroke-width="0.12">Neg</text>
<text transform="translate(81.50 245.00) scale(0.89 1)" font-size="9.7" text-anchor="end" fill="#222" stroke="#222" stroke-width="0.12">181</text>
<line x1="16.00" y1="257.00" x2="56.00" y2="257.00" stroke="#000" stroke-width="1.35"/>
<path d="M59.00 257.00L52.40 254.50L54.00 257.00L52.40 259.50Z" fill="#000"/>
<text transform="translate(64.00 260.20) scale(0.75 1)" font-size="10.3" text-anchor="start" fill="#231f20" stroke="#231f20" stroke-width="0.22">OPP</text>
<text transform="translate(108.30 216.60) rotate(-90) scale(0.82 1)" font-size="10.3" text-anchor="middle" fill="#231f20" stroke="#231f20" stroke-width="0.1">MFI (relative)</text>
<rect x="142.25" y="195.25" width="10.75" height="59.00" fill="#f5c4b8"/>
<rect x="158.50" y="220.62" width="11.25" height="33.63" fill="#e58a7e"/>
<rect x="175.50" y="237.44" width="11.00" height="16.81" fill="#d9544f"/>
<rect x="192.25" y="244.22" width="11.25" height="10.03" fill="#c8102e"/>
<line x1="138.00" y1="177.90" x2="138.00" y2="254.85" stroke="#000" stroke-width="1.25"/>
<line x1="137.30" y1="254.25" x2="205.00" y2="254.25" stroke="#000" stroke-width="1.25"/>
<line x1="134.60" y1="180.50" x2="138.00" y2="180.50" stroke="#000" stroke-width="1.0"/>
<text transform="translate(131.10 183.60) scale(0.89 1)" font-size="9.1" text-anchor="end" fill="#231f20" stroke="#231f20" stroke-width="0.22">1.25</text>
<line x1="134.60" y1="195.25" x2="138.00" y2="195.25" stroke="#000" stroke-width="1.0"/>
<text transform="translate(131.10 198.35) scale(0.89 1)" font-size="9.1" text-anchor="end" fill="#231f20" stroke="#231f20" stroke-width="0.22">1.00</text>
<line x1="134.60" y1="210.00" x2="138.00" y2="210.00" stroke="#000" stroke-width="1.0"/>
<text transform="translate(131.10 213.10) scale(0.89 1)" font-size="9.1" text-anchor="end" fill="#231f20" stroke="#231f20" stroke-width="0.22">0.75</text>
<line x1="134.60" y1="224.75" x2="138.00" y2="224.75" stroke="#000" stroke-width="1.0"/>
<text transform="translate(131.10 227.85) scale(0.89 1)" font-size="9.1" text-anchor="end" fill="#231f20" stroke="#231f20" stroke-width="0.22">0.50</text>
<line x1="134.60" y1="239.50" x2="138.00" y2="239.50" stroke="#000" stroke-width="1.0"/>
<text transform="translate(131.10 242.60) scale(0.89 1)" font-size="9.1" text-anchor="end" fill="#231f20" stroke="#231f20" stroke-width="0.22">0.25</text>
<line x1="134.60" y1="254.25" x2="138.00" y2="254.25" stroke="#000" stroke-width="1.0"/>
<text transform="translate(131.10 257.35) scale(0.89 1)" font-size="9.1" text-anchor="end" fill="#231f20" stroke="#231f20" stroke-width="0.22">0</text>
<line x1="147.62" y1="254.25" x2="147.62" y2="257.55" stroke="#000" stroke-width="1.0"/>
<circle cx="144.22" cy="195.25" r="1.45" fill="#000"/>
<circle cx="147.62" cy="195.25" r="1.45" fill="#000"/>
<circle cx="151.03" cy="195.25" r="1.45" fill="#000"/>
<line x1="164.12" y1="254.25" x2="164.12" y2="257.55" stroke="#000" stroke-width="1.0"/>
<line x1="164.12" y1="217.97" x2="164.12" y2="223.28" stroke="#000" stroke-width="1.0"/>
<line x1="161.12" y1="217.97" x2="167.12" y2="217.97" stroke="#000" stroke-width="1.0"/>
<line x1="161.12" y1="223.28" x2="167.12" y2="223.28" stroke="#000" stroke-width="1.0"/>
<circle cx="167.72" cy="216.78" r="1.35" fill="#000"/>
<circle cx="162.32" cy="221.80" r="1.35" fill="#000"/>
<circle cx="164.62" cy="225.34" r="1.35" fill="#000"/>
<line x1="181.00" y1="254.25" x2="181.00" y2="257.55" stroke="#000" stroke-width="1.0"/>
<line x1="181.00" y1="236.73" x2="181.00" y2="238.14" stroke="#000" stroke-width="1.0"/>
<line x1="178.00" y1="236.73" x2="184.00" y2="236.73" stroke="#000" stroke-width="1.0"/>
<line x1="178.00" y1="238.14" x2="184.00" y2="238.14" stroke="#000" stroke-width="1.0"/>
<circle cx="178.40" cy="237.44" r="1.2" fill="#000"/>
<circle cx="181.00" cy="236.55" r="1.2" fill="#000"/>
<circle cx="183.60" cy="237.44" r="1.2" fill="#000"/>
<line x1="197.88" y1="254.25" x2="197.88" y2="257.55" stroke="#000" stroke-width="1.0"/>
<line x1="197.88" y1="243.51" x2="197.88" y2="244.93" stroke="#000" stroke-width="1.0"/>
<line x1="194.88" y1="243.51" x2="200.88" y2="243.51" stroke="#000" stroke-width="1.0"/>
<line x1="194.88" y1="244.93" x2="200.88" y2="244.93" stroke="#000" stroke-width="1.0"/>
<circle cx="195.28" cy="244.22" r="1.2" fill="#000"/>
<circle cx="197.88" cy="242.75" r="1.2" fill="#000"/>
<circle cx="200.47" cy="244.22" r="1.2" fill="#000"/>
<path d="M146.75 178.70V174.50H191.50V194.50" fill="none" stroke="#000" stroke-width="1.0"/>
<path d="M184.75 199.50V194.50H199.00V199.50" fill="none" stroke="#000" stroke-width="1.0"/>
<text transform="translate(172.50 173.00)" font-size="8.9" text-anchor="middle" fill="#231f20" stroke="#231f20" stroke-width="0.22" letter-spacing="0.45">****</text>
<path d="M146.75 189.00V184.50H161.50V189.00" fill="none" stroke="#000" stroke-width="1.0"/>
<text transform="translate(154.00 184.50)" font-size="8.9" text-anchor="middle" fill="#231f20" stroke="#231f20" stroke-width="0.22" letter-spacing="0.45">*</text>
<path d="M166.75 211.50V207.00H198.50V211.50" fill="none" stroke="#000" stroke-width="1.0"/>
<text transform="translate(182.50 206.50)" font-size="8.9" text-anchor="middle" fill="#231f20" stroke="#231f20" stroke-width="0.22" letter-spacing="0.45">*</text>
<path d="M184.00 229.50V225.00H199.00V229.50" fill="none" stroke="#000" stroke-width="1.0"/>
<text transform="translate(191.00 225.00)" font-size="8.9" text-anchor="middle" fill="#231f20" stroke="#231f20" stroke-width="0.22" letter-spacing="0.45">**</text>
<text transform="translate(134.00 268.50) scale(0.9 1)" font-size="9.2" text-anchor="end" fill="#231f20" stroke="#231f20" stroke-width="0.22">EPO:</text>
<text transform="translate(147.40 268.50) scale(0.96 1)" font-size="9.2" text-anchor="middle" fill="#231f20" stroke="#231f20" stroke-width="0.22">D4</text>
<text transform="translate(164.00 268.50) scale(0.96 1)" font-size="9.2" text-anchor="middle" fill="#231f20" stroke="#231f20" stroke-width="0.22">D7</text>
<text transform="translate(180.60 268.50) scale(0.96 1)" font-size="9.2" text-anchor="middle" fill="#231f20" stroke="#231f20" stroke-width="0.22">D10</text>
<text transform="translate(198.30 268.50) scale(0.96 1)" font-size="9.2" text-anchor="middle" fill="#231f20" stroke="#231f20" stroke-width="0.22">D14</text>
<text transform="translate(257.60 161.50) scale(0.98 1)" font-size="13" text-anchor="start" fill="#000" font-weight="bold" stroke="#000" stroke-width="0.4" stroke-linejoin="round">D</text>
<rect x="279.60" y="178.60" width="67.80" height="68.00" fill="#fff"/>
<path d="M279.60 202.20 L280.45 202.20 L281.30 202.19 L282.14 202.19 L282.99 202.18 L283.84 202.17 L284.69 202.16 L285.53 202.13 L286.38 202.10 L287.23 202.05 L288.08 201.98 L288.92 201.90 L289.77 201.80 L290.62 201.67 L291.47 201.53 L292.31 201.38 L293.16 201.21 L294.01 201.02 L294.86 200.82 L295.70 200.58 L296.55 200.26 L297.40 199.84 L298.25 199.25 L299.09 198.49 L299.94 197.56 L300.79 196.56 L301.63 195.60 L302.48 194.81 L303.33 194.21 L304.18 193.64 L305.02 192.82 L305.87 191.36 L306.72 189.11 L307.57 186.30 L308.42 183.61 L309.26 182.01 L310.11 182.20 L310.96 184.33 L311.81 187.89 L312.65 191.95 L313.50 195.64 L314.35 198.45 L315.19 200.29 L316.04 201.33 L316.89 201.85 L317.74 202.07 L318.58 202.16 L319.43 202.19 L320.28 202.20 L321.13 202.20 L321.98 202.20 L322.82 202.20 L323.67 202.20 L324.52 202.20 L325.37 202.20 L326.21 202.20 L327.06 202.20 L327.91 202.20 L328.75 202.20 L329.60 202.20 L330.45 202.20 L331.30 202.20 L332.14 202.20 L332.99 202.20 L333.84 202.20 L334.69 202.20 L335.53 202.20 L336.38 202.20 L337.23 202.20 L338.08 202.20 L338.92 202.20 L339.77 202.20 L340.62 202.20 L341.47 202.20 L342.31 202.20 L343.16 202.20 L344.01 202.20 L344.86 202.20 L345.70 202.20 L346.55 202.20 L347.40 202.20 L347.40 202.20 L279.60 202.20Z" fill="#fdf0ec" fill-opacity="1.0"/>
<path d="M279.60 202.20 L280.45 202.20 L281.30 202.19 L282.14 202.19 L282.99 202.18 L283.84 202.17 L284.69 202.16 L285.53 202.13 L286.38 202.10 L287.23 202.05 L288.08 201.98 L288.92 201.90 L289.77 201.80 L290.62 201.67 L291.47 201.53 L292.31 201.38 L293.16 201.21 L294.01 201.02 L294.86 200.82 L295.70 200.58 L296.55 200.26 L297.40 199.84 L298.25 199.25 L299.09 198.49 L299.94 197.56 L300.79 196.56 L301.63 195.60 L302.48 194.81 L303.33 194.21 L304.18 193.64 L305.02 192.82 L305.87 191.36 L306.72 189.11 L307.57 186.30 L308.42 183.61 L309.26 182.01 L310.11 182.20 L310.96 184.33 L311.81 187.89 L312.65 191.95 L313.50 195.64 L314.35 198.45 L315.19 200.29 L316.04 201.33 L316.89 201.85 L317.74 202.07 L318.58 202.16 L319.43 202.19 L320.28 202.20 L321.13 202.20 L321.98 202.20 L322.82 202.20 L323.67 202.20 L324.52 202.20 L325.37 202.20 L326.21 202.20 L327.06 202.20 L327.91 202.20 L328.75 202.20 L329.60 202.20 L330.45 202.20 L331.30 202.20 L332.14 202.20 L332.99 202.20 L333.84 202.20 L334.69 202.20 L335.53 202.20 L336.38 202.20 L337.23 202.20 L338.08 202.20 L338.92 202.20 L339.77 202.20 L340.62 202.20 L341.47 202.20 L342.31 202.20 L343.16 202.20 L344.01 202.20 L344.86 202.20 L345.70 202.20 L346.55 202.20 L347.40 202.20" fill="none" stroke="#c42a40" stroke-width="0.95" stroke-linejoin="round"/>
<path d="M279.60 213.00 L280.45 213.00 L281.30 213.00 L282.14 213.00 L282.99 213.00 L283.84 213.00 L284.69 212.99 L285.53 212.99 L286.38 212.97 L287.23 212.95 L288.08 212.92 L288.92 212.86 L289.77 212.78 L290.62 212.67 L291.47 212.52 L292.31 212.33 L293.16 212.11 L294.01 211.84 L294.86 211.54 L295.70 211.19 L296.55 210.78 L297.40 210.26 L298.25 209.60 L299.09 208.77 L299.94 207.78 L300.79 206.69 L301.63 205.63 L302.48 204.75 L303.33 204.13 L304.18 203.69 L305.02 203.09 L305.87 201.77 L306.72 199.36 L307.57 196.18 L308.42 193.49 L309.26 192.87 L310.11 195.09 L310.96 199.46 L311.81 204.37 L312.65 208.37 L313.50 210.92 L314.35 212.21 L315.19 212.75 L316.04 212.93 L316.89 212.98 L317.74 213.00 L318.58 213.00 L319.43 213.00 L320.28 213.00 L321.13 213.00 L321.98 213.00 L322.82 213.00 L323.67 213.00 L324.52 213.00 L325.37 213.00 L326.21 213.00 L327.06 213.00 L327.91 213.00 L328.75 213.00 L329.60 213.00 L330.45 213.00 L331.30 213.00 L332.14 213.00 L332.99 213.00 L333.84 213.00 L334.69 213.00 L335.53 213.00 L336.38 213.00 L337.23 213.00 L338.08 213.00 L338.92 213.00 L339.77 213.00 L340.62 213.00 L341.47 213.00 L342.31 213.00 L343.16 213.00 L344.01 213.00 L344.86 213.00 L345.70 213.00 L346.55 213.00 L347.40 213.00 L347.40 213.00 L279.60 213.00Z" fill="#f5cdc4" fill-opacity="1.0"/>
<path d="M279.60 213.00 L280.45 213.00 L281.30 213.00 L282.14 213.00 L282.99 213.00 L283.84 213.00 L284.69 212.99 L285.53 212.99 L286.38 212.97 L287.23 212.95 L288.08 212.92 L288.92 212.86 L289.77 212.78 L290.62 212.67 L291.47 212.52 L292.31 212.33 L293.16 212.11 L294.01 211.84 L294.86 211.54 L295.70 211.19 L296.55 210.78 L297.40 210.26 L298.25 209.60 L299.09 208.77 L299.94 207.78 L300.79 206.69 L301.63 205.63 L302.48 204.75 L303.33 204.13 L304.18 203.69 L305.02 203.09 L305.87 201.77 L306.72 199.36 L307.57 196.18 L308.42 193.49 L309.26 192.87 L310.11 195.09 L310.96 199.46 L311.81 204.37 L312.65 208.37 L313.50 210.92 L314.35 212.21 L315.19 212.75 L316.04 212.93 L316.89 212.98 L317.74 213.00 L318.58 213.00 L319.43 213.00 L320.28 213.00 L321.13 213.00 L321.98 213.00 L322.82 213.00 L323.67 213.00 L324.52 213.00 L325.37 213.00 L326.21 213.00 L327.06 213.00 L327.91 213.00 L328.75 213.00 L329.60 213.00 L330.45 213.00 L331.30 213.00 L332.14 213.00 L332.99 213.00 L333.84 213.00 L334.69 213.00 L335.53 213.00 L336.38 213.00 L337.23 213.00 L338.08 213.00 L338.92 213.00 L339.77 213.00 L340.62 213.00 L341.47 213.00 L342.31 213.00 L343.16 213.00 L344.01 213.00 L344.86 213.00 L345.70 213.00 L346.55 213.00 L347.40 213.00" fill="none" stroke="#c42a40" stroke-width="0.95" stroke-linejoin="round"/>
<path d="M279.60 224.00 L280.45 224.00 L281.30 224.00 L282.14 224.00 L282.99 224.00 L283.84 224.00 L284.69 224.00 L285.53 224.00 L286.38 224.00 L287.23 223.99 L288.08 223.97 L288.92 223.93 L289.77 223.86 L290.62 223.73 L291.47 223.53 L292.31 223.24 L293.16 222.85 L294.01 222.36 L294.86 221.77 L295.70 221.04 L296.55 220.06 L297.40 218.66 L298.25 216.71 L299.09 214.22 L299.94 211.53 L300.79 209.25 L301.63 208.07 L302.48 208.40 L303.33 210.04 L304.18 212.08 L305.02 213.14 L305.87 212.11 L306.72 209.03 L307.57 205.58 L308.42 204.08 L309.26 205.62 L310.11 209.30 L310.96 213.28 L311.81 216.38 L312.65 218.50 L313.50 220.03 L314.35 221.27 L315.19 222.28 L316.04 223.02 L316.89 223.50 L317.74 223.77 L318.58 223.91 L319.43 223.97 L320.28 223.99 L321.13 224.00 L321.98 224.00 L322.82 224.00 L323.67 224.00 L324.52 224.00 L325.37 224.00 L326.21 224.00 L327.06 224.00 L327.91 224.00 L328.75 224.00 L329.60 224.00 L330.45 224.00 L331.30 224.00 L332.14 224.00 L332.99 224.00 L333.84 224.00 L334.69 224.00 L335.53 224.00 L336.38 224.00 L337.23 224.00 L338.08 224.00 L338.92 224.00 L339.77 224.00 L340.62 224.00 L341.47 224.00 L342.31 224.00 L343.16 224.00 L344.01 224.00 L344.86 224.00 L345.70 224.00 L346.55 224.00 L347.40 224.00 L347.40 224.00 L279.60 224.00Z" fill="#e8978c" fill-opacity="1.0"/>
<path d="M279.60 224.00 L280.45 224.00 L281.30 224.00 L282.14 224.00 L282.99 224.00 L283.84 224.00 L284.69 224.00 L285.53 224.00 L286.38 224.00 L287.23 223.99 L288.08 223.97 L288.92 223.93 L289.77 223.86 L290.62 223.73 L291.47 223.53 L292.31 223.24 L293.16 222.85 L294.01 222.36 L294.86 221.77 L295.70 221.04 L296.55 220.06 L297.40 218.66 L298.25 216.71 L299.09 214.22 L299.94 211.53 L300.79 209.25 L301.63 208.07 L302.48 208.40 L303.33 210.04 L304.18 212.08 L305.02 213.14 L305.87 212.11 L306.72 209.03 L307.57 205.58 L308.42 204.08 L309.26 205.62 L310.11 209.30 L310.96 213.28 L311.81 216.38 L312.65 218.50 L313.50 220.03 L314.35 221.27 L315.19 222.28 L316.04 223.02 L316.89 223.50 L317.74 223.77 L318.58 223.91 L319.43 223.97 L320.28 223.99 L321.13 224.00 L321.98 224.00 L322.82 224.00 L323.67 224.00 L324.52 224.00 L325.37 224.00 L326.21 224.00 L327.06 224.00 L327.91 224.00 L328.75 224.00 L329.60 224.00 L330.45 224.00 L331.30 224.00 L332.14 224.00 L332.99 224.00 L333.84 224.00 L334.69 224.00 L335.53 224.00 L336.38 224.00 L337.23 224.00 L338.08 224.00 L338.92 224.00 L339.77 224.00 L340.62 224.00 L341.47 224.00 L342.31 224.00 L343.16 224.00 L344.01 224.00 L344.86 224.00 L345.70 224.00 L346.55 224.00 L347.40 224.00" fill="none" stroke="#c42a40" stroke-width="0.95" stroke-linejoin="round"/>
<path d="M279.60 235.00 L280.45 234.99 L281.30 234.99 L282.14 234.97 L282.99 234.95 L283.84 234.91 L284.69 234.85 L285.53 234.75 L286.38 234.61 L287.23 234.41 L288.08 234.15 L288.92 233.82 L289.77 233.45 L290.62 233.03 L291.47 232.57 L292.31 232.06 L293.16 231.43 L294.01 230.58 L294.86 229.35 L295.70 227.60 L296.55 225.32 L297.40 222.69 L298.25 220.17 L299.09 218.33 L299.94 217.68 L300.79 218.45 L301.63 220.44 L302.48 223.16 L303.33 226.00 L304.18 228.47 L305.02 230.35 L305.87 231.63 L306.72 232.44 L307.57 232.96 L308.42 233.32 L309.26 233.62 L310.11 233.89 L310.96 234.13 L311.81 234.35 L312.65 234.53 L313.50 234.68 L314.35 234.79 L315.19 234.87 L316.04 234.92 L316.89 234.95 L317.74 234.97 L318.58 234.99 L319.43 234.99 L320.28 235.00 L321.13 235.00 L321.98 235.00 L322.82 235.00 L323.67 235.00 L324.52 235.00 L325.37 235.00 L326.21 235.00 L327.06 235.00 L327.91 235.00 L328.75 235.00 L329.60 235.00 L330.45 235.00 L331.30 235.00 L332.14 235.00 L332.99 235.00 L333.84 235.00 L334.69 235.00 L335.53 235.00 L336.38 235.00 L337.23 235.00 L338.08 235.00 L338.92 235.00 L339.77 235.00 L340.62 235.00 L341.47 235.00 L342.31 235.00 L343.16 235.00 L344.01 235.00 L344.86 235.00 L345.70 235.00 L346.55 235.00 L347.40 235.00 L347.40 235.00 L279.60 235.00Z" fill="#c8102e" fill-opacity="1.0"/>
<path d="M279.60 235.00 L280.45 234.99 L281.30 234.99 L282.14 234.97 L282.99 234.95 L283.84 234.91 L284.69 234.85 L285.53 234.75 L286.38 234.61 L287.23 234.41 L288.08 234.15 L288.92 233.82 L289.77 233.45 L290.62 233.03 L291.47 232.57 L292.31 232.06 L293.16 231.43 L294.01 230.58 L294.86 229.35 L295.70 227.60 L296.55 225.32 L297.40 222.69 L298.25 220.17 L299.09 218.33 L299.94 217.68 L300.79 218.45 L301.63 220.44 L302.48 223.16 L303.33 226.00 L304.18 228.47 L305.02 230.35 L305.87 231.63 L306.72 232.44 L307.57 232.96 L308.42 233.32 L309.26 233.62 L310.11 233.89 L310.96 234.13 L311.81 234.35 L312.65 234.53 L313.50 234.68 L314.35 234.79 L315.19 234.87 L316.04 234.92 L316.89 234.95 L317.74 234.97 L318.58 234.99 L319.43 234.99 L320.28 235.00 L321.13 235.00 L321.98 235.00 L322.82 235.00 L323.67 235.00 L324.52 235.00 L325.37 235.00 L326.21 235.00 L327.06 235.00 L327.91 235.00 L328.75 235.00 L329.60 235.00 L330.45 235.00 L331.30 235.00 L332.14 235.00 L332.99 235.00 L333.84 235.00 L334.69 235.00 L335.53 235.00 L336.38 235.00 L337.23 235.00 L338.08 235.00 L338.92 235.00 L339.77 235.00 L340.62 235.00 L341.47 235.00 L342.31 235.00 L343.16 235.00 L344.01 235.00 L344.86 235.00 L345.70 235.00 L346.55 235.00 L347.40 235.00" fill="none" stroke="#c8102e" stroke-width="0.8" stroke-linejoin="round"/>
<path d="M279.60 246.40 L280.45 246.40 L281.30 246.39 L282.14 246.37 L282.99 246.33 L283.84 246.23 L284.69 246.05 L285.53 245.72 L286.38 245.21 L287.23 244.48 L288.08 243.54 L288.92 242.46 L289.77 241.34 L290.62 240.29 L291.47 239.37 L292.31 238.61 L293.16 238.00 L294.01 237.52 L294.86 237.19 L295.70 237.06 L296.55 237.12 L297.40 237.09 L298.25 236.48 L299.09 235.29 L299.94 234.70 L300.79 236.15 L301.63 239.36 L302.48 242.57 L303.33 244.62 L304.18 245.59 L305.02 246.01 L305.87 246.21 L306.72 246.31 L307.57 246.36 L308.42 246.38 L309.26 246.39 L310.11 246.40 L310.96 246.40 L311.81 246.40 L312.65 246.40 L313.50 246.40 L314.35 246.40 L315.19 246.40 L316.04 246.40 L316.89 246.40 L317.74 246.40 L318.58 246.40 L319.43 246.40 L320.28 246.40 L321.13 246.40 L321.98 246.40 L322.82 246.40 L323.67 246.40 L324.52 246.40 L325.37 246.40 L326.21 246.40 L327.06 246.40 L327.91 246.40 L328.75 246.40 L329.60 246.40 L330.45 246.40 L331.30 246.40 L332.14 246.40 L332.99 246.40 L333.84 246.40 L334.69 246.40 L335.53 246.40 L336.38 246.40 L337.23 246.40 L338.08 246.40 L338.92 246.40 L339.77 246.40 L340.62 246.40 L341.47 246.40 L342.31 246.40 L343.16 246.40 L344.01 246.40 L344.86 246.40 L345.70 246.40 L346.55 246.40 L347.40 246.40 L347.40 246.40 L279.60 246.40Z" fill="#d2d2d6" fill-opacity="1.0"/>
<rect x="279.60" y="178.60" width="67.80" height="68.00" fill="none" stroke="#1a1a1a" stroke-width="1.1"/>
<line x1="281.60" y1="246.60" x2="281.60" y2="249.80" stroke="#222" stroke-width="0.7"/>
<line x1="285.44" y1="246.60" x2="285.44" y2="248.60" stroke="#222" stroke-width="0.7"/>
<line x1="287.69" y1="246.60" x2="287.69" y2="248.60" stroke="#222" stroke-width="0.7"/>
<line x1="289.28" y1="246.60" x2="289.28" y2="248.60" stroke="#222" stroke-width="0.7"/>
<line x1="290.52" y1="246.60" x2="290.52" y2="248.60" stroke="#222" stroke-width="0.7"/>
<line x1="291.53" y1="246.60" x2="291.53" y2="248.60" stroke="#222" stroke-width="0.7"/>
<line x1="292.38" y1="246.60" x2="292.38" y2="248.60" stroke="#222" stroke-width="0.7"/>
<line x1="293.12" y1="246.60" x2="293.12" y2="248.60" stroke="#222" stroke-width="0.7"/>
<line x1="293.78" y1="246.60" x2="293.78" y2="248.60" stroke="#222" stroke-width="0.7"/>
<line x1="294.36" y1="246.60" x2="294.36" y2="249.80" stroke="#222" stroke-width="0.7"/>
<line x1="298.20" y1="246.60" x2="298.20" y2="248.60" stroke="#222" stroke-width="0.7"/>
<line x1="300.45" y1="246.60" x2="300.45" y2="248.60" stroke="#222" stroke-width="0.7"/>
<line x1="302.04" y1="246.60" x2="302.04" y2="248.60" stroke="#222" stroke-width="0.7"/>
<line x1="303.28" y1="246.60" x2="303.28" y2="248.60" stroke="#222" stroke-width="0.7"/>
<line x1="304.29" y1="246.60" x2="304.29" y2="248.60" stroke="#222" stroke-width="0.7"/>
<line x1="305.14" y1="246.60" x2="305.14" y2="248.60" stroke="#222" stroke-width="0.7"/>
<line x1="305.88" y1="246.60" x2="305.88" y2="248.60" stroke="#222" stroke-width="0.7"/>
<line x1="306.54" y1="246.60" x2="306.54" y2="248.60" stroke="#222" stroke-width="0.7"/>
<line x1="307.12" y1="246.60" x2="307.12" y2="249.80" stroke="#222" stroke-width="0.7"/>
<line x1="310.96" y1="246.60" x2="310.96" y2="248.60" stroke="#222" stroke-width="0.7"/>
<line x1="313.21" y1="246.60" x2="313.21" y2="248.60" stroke="#222" stroke-width="0.7"/>
<line x1="314.80" y1="246.60" x2="314.80" y2="248.60" stroke="#222" stroke-width="0.7"/>
<line x1="316.04" y1="246.60" x2="316.04" y2="248.60" stroke="#222" stroke-width="0.7"/>
<line x1="317.05" y1="246.60" x2="317.05" y2="248.60" stroke="#222" stroke-width="0.7"/>
<line x1="317.90" y1="246.60" x2="317.90" y2="248.60" stroke="#222" stroke-width="0.7"/>
<line x1="318.64" y1="246.60" x2="318.64" y2="248.60" stroke="#222" stroke-width="0.7"/>
<line x1="319.30" y1="246.60" x2="319.30" y2="248.60" stroke="#222" stroke-width="0.7"/>
<line x1="319.88" y1="246.60" x2="319.88" y2="249.80" stroke="#222" stroke-width="0.7"/>
<line x1="323.72" y1="246.60" x2="323.72" y2="248.60" stroke="#222" stroke-width="0.7"/>
<line x1="325.97" y1="246.60" x2="325.97" y2="248.60" stroke="#222" stroke-width="0.7"/>
<line x1="327.56" y1="246.60" x2="327.56" y2="248.60" stroke="#222" stroke-width="0.7"/>
<line x1="328.80" y1="246.60" x2="328.80" y2="248.60" stroke="#222" stroke-width="0.7"/>
<line x1="329.81" y1="246.60" x2="329.81" y2="248.60" stroke="#222" stroke-width="0.7"/>
<line x1="330.66" y1="246.60" x2="330.66" y2="248.60" stroke="#222" stroke-width="0.7"/>
<line x1="331.40" y1="246.60" x2="331.40" y2="248.60" stroke="#222" stroke-width="0.7"/>
<line x1="332.06" y1="246.60" x2="332.06" y2="248.60" stroke="#222" stroke-width="0.7"/>
<line x1="332.64" y1="246.60" x2="332.64" y2="249.80" stroke="#222" stroke-width="0.7"/>
<line x1="336.48" y1="246.60" x2="336.48" y2="248.60" stroke="#222" stroke-width="0.7"/>
<line x1="338.73" y1="246.60" x2="338.73" y2="248.60" stroke="#222" stroke-width="0.7"/>
<line x1="340.32" y1="246.60" x2="340.32" y2="248.60" stroke="#222" stroke-width="0.7"/>
<line x1="341.56" y1="246.60" x2="341.56" y2="248.60" stroke="#222" stroke-width="0.7"/>
<line x1="342.57" y1="246.60" x2="342.57" y2="248.60" stroke="#222" stroke-width="0.7"/>
<line x1="343.42" y1="246.60" x2="343.42" y2="248.60" stroke="#222" stroke-width="0.7"/>
<line x1="344.16" y1="246.60" x2="344.16" y2="248.60" stroke="#222" stroke-width="0.7"/>
<line x1="344.82" y1="246.60" x2="344.82" y2="248.60" stroke="#222" stroke-width="0.7"/>
<text transform="translate(276.60 198.70) scale(0.89 1)" font-size="9.7" text-anchor="end" fill="#222" stroke="#222" stroke-width="0.12">Pro</text>
<text transform="translate(345.30 199.00) scale(0.89 1)" font-size="9.7" text-anchor="end" fill="#222" stroke="#222" stroke-width="0.12">395</text>
<text transform="translate(276.60 209.70) scale(0.89 1)" font-size="9.7" text-anchor="end" fill="#222" stroke="#222" stroke-width="0.12">Baso</text>
<text transform="translate(345.30 210.00) scale(0.89 1)" font-size="9.7" text-anchor="end" fill="#222" stroke="#222" stroke-width="0.12">368</text>
<text transform="translate(276.60 220.70) scale(0.89 1)" font-size="9.7" text-anchor="end" fill="#222" stroke="#222" stroke-width="0.12">Poly</text>
<text transform="translate(345.30 221.00) scale(0.89 1)" font-size="9.7" text-anchor="end" fill="#222" stroke="#222" stroke-width="0.12">172</text>
<text transform="translate(276.60 231.70) scale(0.89 1)" font-size="9.7" text-anchor="end" fill="#222" stroke="#222" stroke-width="0.12">Ortho</text>
<text transform="translate(345.30 232.00) scale(0.89 1)" font-size="9.7" text-anchor="end" fill="#222" stroke="#222" stroke-width="0.12">69</text>
<text transform="translate(276.60 242.70) scale(0.89 1)" font-size="9.7" text-anchor="end" fill="#222" stroke="#222" stroke-width="0.12">Neg</text>
<text transform="translate(345.30 243.00) scale(0.89 1)" font-size="9.7" text-anchor="end" fill="#222" stroke="#222" stroke-width="0.12">21</text>
<line x1="278.50" y1="256.80" x2="318.50" y2="256.80" stroke="#000" stroke-width="1.35"/>
<path d="M321.50 256.80L314.90 254.30L316.50 256.80L314.90 259.30Z" fill="#000"/>
<text transform="translate(326.80 260.40) scale(0.75 1)" font-size="10.3" text-anchor="start" fill="#231f20" stroke="#231f20" stroke-width="0.22">OPP</text>
<text transform="translate(381.20 214.80) rotate(-90) scale(0.82 1)" font-size="10.3" text-anchor="middle" fill="#231f20" stroke="#231f20" stroke-width="0.1">MFI (relative)</text>
<rect x="414.50" y="193.80" width="10.50" height="58.20" fill="#f5c4b8"/>
<rect x="430.50" y="207.19" width="11.25" height="44.81" fill="#e58a7e"/>
<rect x="447.00" y="237.74" width="11.00" height="14.26" fill="#d9544f"/>
<rect x="463.75" y="247.05" width="11.25" height="4.95" fill="#c8102e"/>
<line x1="411.25" y1="176.65" x2="411.25" y2="252.60" stroke="#000" stroke-width="1.25"/>
<line x1="410.55" y1="252.00" x2="477.00" y2="252.00" stroke="#000" stroke-width="1.25"/>
<line x1="407.85" y1="179.25" x2="411.25" y2="179.25" stroke="#000" stroke-width="1.0"/>
<text transform="translate(404.35 182.35) scale(0.89 1)" font-size="9.1" text-anchor="end" fill="#231f20" stroke="#231f20" stroke-width="0.22">1.25</text>
<line x1="407.85" y1="193.80" x2="411.25" y2="193.80" stroke="#000" stroke-width="1.0"/>
<text transform="translate(404.35 196.90) scale(0.89 1)" font-size="9.1" text-anchor="end" fill="#231f20" stroke="#231f20" stroke-width="0.22">1.00</text>
<line x1="407.85" y1="208.35" x2="411.25" y2="208.35" stroke="#000" stroke-width="1.0"/>
<text transform="translate(404.35 211.45) scale(0.89 1)" font-size="9.1" text-anchor="end" fill="#231f20" stroke="#231f20" stroke-width="0.22">0.75</text>
<line x1="407.85" y1="222.90" x2="411.25" y2="222.90" stroke="#000" stroke-width="1.0"/>
<text transform="translate(404.35 226.00) scale(0.89 1)" font-size="9.1" text-anchor="end" fill="#231f20" stroke="#231f20" stroke-width="0.22">0.50</text>
<line x1="407.85" y1="237.45" x2="411.25" y2="237.45" stroke="#000" stroke-width="1.0"/>
<text transform="translate(404.35 240.55) scale(0.89 1)" font-size="9.1" text-anchor="end" fill="#231f20" stroke="#231f20" stroke-width="0.22">0.25</text>
<line x1="407.85" y1="252.00" x2="411.25" y2="252.00" stroke="#000" stroke-width="1.0"/>
<text transform="translate(404.35 255.10) scale(0.89 1)" font-size="9.1" text-anchor="end" fill="#231f20" stroke="#231f20" stroke-width="0.22">0</text>
<line x1="419.75" y1="252.00" x2="419.75" y2="255.30" stroke="#000" stroke-width="1.0"/>
<circle cx="416.35" cy="193.80" r="1.45" fill="#000"/>
<circle cx="419.75" cy="193.80" r="1.45" fill="#000"/>
<circle cx="423.15" cy="193.80" r="1.45" fill="#000"/>
<line x1="436.12" y1="252.00" x2="436.12" y2="255.30" stroke="#000" stroke-width="1.0"/>
<line x1="436.12" y1="202.53" x2="436.12" y2="211.84" stroke="#000" stroke-width="1.0"/>
<line x1="433.12" y1="202.53" x2="439.12" y2="202.53" stroke="#000" stroke-width="1.0"/>
<line x1="433.12" y1="211.84" x2="439.12" y2="211.84" stroke="#000" stroke-width="1.0"/>
<circle cx="436.12" cy="197.87" r="1.3" fill="#000"/>
<circle cx="439.93" cy="208.64" r="1.3" fill="#000"/>
<circle cx="432.32" cy="211.26" r="1.3" fill="#000"/>
<line x1="452.50" y1="252.00" x2="452.50" y2="255.30" stroke="#000" stroke-width="1.0"/>
<line x1="452.50" y1="232.79" x2="452.50" y2="242.69" stroke="#000" stroke-width="1.0"/>
<line x1="449.50" y1="232.79" x2="455.50" y2="232.79" stroke="#000" stroke-width="1.0"/>
<line x1="449.50" y1="242.69" x2="455.50" y2="242.69" stroke="#000" stroke-width="1.0"/>
<circle cx="452.50" cy="228.72" r="1.3" fill="#000"/>
<circle cx="456.30" cy="239.78" r="1.3" fill="#000"/>
<circle cx="448.70" cy="242.11" r="1.3" fill="#000"/>
<line x1="469.38" y1="252.00" x2="469.38" y2="255.30" stroke="#000" stroke-width="1.0"/>
<line x1="469.38" y1="245.31" x2="469.38" y2="248.80" stroke="#000" stroke-width="1.0"/>
<line x1="466.38" y1="245.31" x2="472.38" y2="245.31" stroke="#000" stroke-width="1.0"/>
<line x1="466.38" y1="248.80" x2="472.38" y2="248.80" stroke="#000" stroke-width="1.0"/>
<circle cx="469.38" cy="244.72" r="1.25" fill="#000"/>
<circle cx="466.38" cy="249.09" r="1.25" fill="#000"/>
<circle cx="472.38" cy="249.09" r="1.25" fill="#000"/>
<path d="M433.80 166.60V160.60H470.00V242.60" fill="none" stroke="#000" stroke-width="1.0"/>
<text transform="translate(451.50 158.10)" font-size="8.9" text-anchor="middle" fill="#231f20" stroke="#231f20" stroke-width="0.22" letter-spacing="0.45">****</text>
<path d="M419.50 170.95V166.75H451.60V170.95" fill="none" stroke="#000" stroke-width="1.0"/>
<path d="M419.50 182.10V177.60H451.60V182.10" fill="none" stroke="#000" stroke-width="1.0"/>
<text transform="translate(435.50 176.30)" font-size="8.9" text-anchor="middle" fill="#231f20" stroke="#231f20" stroke-width="0.22" letter-spacing="0.45">****</text>
<path d="M436.40 193.00V188.70H451.60V193.00" fill="none" stroke="#000" stroke-width="1.0"/>
<text transform="translate(444.50 187.20)" font-size="8.9" text-anchor="middle" fill="#231f20" stroke="#231f20" stroke-width="0.22" letter-spacing="0.45">***</text>
<text transform="translate(423.00 263.30) rotate(-45) scale(0.9 1)" font-size="9.2" text-anchor="end" fill="#231f20" stroke="#231f20" stroke-width="0.22">Pro</text>
<text transform="translate(439.50 263.30) rotate(-45) scale(0.9 1)" font-size="9.2" text-anchor="end" fill="#231f20" stroke="#231f20" stroke-width="0.22">Baso</text>
<text transform="translate(456.00 263.30) rotate(-45) scale(0.9 1)" font-size="9.2" text-anchor="end" fill="#231f20" stroke="#231f20" stroke-width="0.22">Poly</text>
<text transform="translate(473.00 263.30) rotate(-45) scale(0.9 1)" font-size="9.2" text-anchor="end" fill="#231f20" stroke="#231f20" stroke-width="0.22">Ortho</text>
<text transform="translate(9.80 294.00) scale(0.82 1)" font-size="13" text-anchor="start" fill="#000" font-weight="bold" stroke="#000" stroke-width="0.45" stroke-linejoin="round">E</text>
<text transform="translate(44.50 314.00) scale(0.94 1)" font-size="9.2" text-anchor="end" fill="#231f20" stroke="#231f20" stroke-width="0.22">GC7:</text>
<text transform="translate(55.50 313.50) scale(0.9 1)" font-size="9.2" text-anchor="middle" fill="#231f20" stroke="#231f20" stroke-width="0.22">-</text>
<text transform="translate(70.00 314.00) scale(0.9 1)" font-size="9.2" text-anchor="middle" fill="#231f20" stroke="#231f20" stroke-width="0.22">+</text>
<rect x="48.25" y="317.00" width="30.50" height="25.50" fill="#fbfbfb"/>
<g clip-path="url(#c9)">
<ellipse cx="56.8" cy="332" rx="6.2" ry="3.8" fill="#000" opacity="1" filter="url(#b1)"/>
<ellipse cx="71.2" cy="330.5" rx="4.5" ry="2" fill="#000" opacity="0.5" filter="url(#b1)"/>
</g>
<rect x="48.25" y="317.00" width="30.50" height="25.50" fill="none" stroke="#151515" stroke-width="1.15"/>
<rect x="48.25" y="346.25" width="30.50" height="25.50" fill="#eee"/>
<g clip-path="url(#c10)">
<ellipse cx="56.5" cy="359" rx="6.5" ry="4.8" fill="#000" opacity="1" filter="url(#b2)"/>
<ellipse cx="71" cy="359.5" rx="6" ry="3.6" fill="#000" opacity="1" filter="url(#b2)"/>
</g>
<rect x="48.25" y="346.25" width="30.50" height="25.50" fill="none" stroke="#151515" stroke-width="1.15"/>
<rect x="48.25" y="375.50" width="30.50" height="25.75" fill="#f1f1f1"/>
<g clip-path="url(#c11)">
<ellipse cx="56.5" cy="388" rx="5.5" ry="3.4" fill="#000" opacity="0.6" filter="url(#b2)"/>
<ellipse cx="71" cy="388.7" rx="5.5" ry="3.2" fill="#000" opacity="0.55" filter="url(#b2)"/>
</g>
<rect x="48.25" y="375.50" width="30.50" height="25.75" fill="none" stroke="#151515" stroke-width="1.15"/>
<text transform="translate(45.00 334.00) scale(0.9 1)" font-size="9.2" text-anchor="end" fill="#231f20" stroke="#231f20" stroke-width="0.22">eIF5A<tspan font-size="6.8" dy="-3.4">H</tspan></text>
<text transform="translate(45.00 363.50) scale(0.9 1)" font-size="9.2" text-anchor="end" fill="#231f20" stroke="#231f20" stroke-width="0.22">eIF5A</text>
<text transform="translate(45.00 391.50) scale(0.9 1)" font-size="9.2" text-anchor="end" fill="#231f20" stroke="#231f20" stroke-width="0.22">actin</text>
<text transform="translate(101.80 348.00) rotate(-90) scale(0.79 1)" font-size="10.3" text-anchor="middle" fill="#231f20" stroke="#231f20" stroke-width="0.1">eIF5A<tspan font-size="6.5" dy="-3.2">H</tspan><tspan dy="3.2">/eIF5A (relative)</tspan></text>
<rect x="134.25" y="326.40" width="10.75" height="59.10" fill="#bdbdc1"/>
<rect x="150.50" y="373.03" width="11.00" height="12.47" fill="#3aa535"/>
<line x1="131.25" y1="310.40" x2="131.25" y2="386.10" stroke="#000" stroke-width="1.25"/>
<line x1="130.55" y1="385.50" x2="165.00" y2="385.50" stroke="#000" stroke-width="1.25"/>
<line x1="127.85" y1="313.00" x2="131.25" y2="313.00" stroke="#000" stroke-width="1.0"/>
<text transform="translate(124.35 316.10) scale(0.89 1)" font-size="9.1" text-anchor="end" fill="#231f20" stroke="#231f20" stroke-width="0.22">1.25</text>
<line x1="127.85" y1="327.50" x2="131.25" y2="327.50" stroke="#000" stroke-width="1.0"/>
<text transform="translate(124.35 330.60) scale(0.89 1)" font-size="9.1" text-anchor="end" fill="#231f20" stroke="#231f20" stroke-width="0.22">1.00</text>
<line x1="127.85" y1="342.00" x2="131.25" y2="342.00" stroke="#000" stroke-width="1.0"/>
<text transform="translate(124.35 345.10) scale(0.89 1)" font-size="9.1" text-anchor="end" fill="#231f20" stroke="#231f20" stroke-width="0.22">0.75</text>
<line x1="127.85" y1="356.50" x2="131.25" y2="356.50" stroke="#000" stroke-width="1.0"/>
<text transform="translate(124.35 359.60) scale(0.89 1)" font-size="9.1" text-anchor="end" fill="#231f20" stroke="#231f20" stroke-width="0.22">0.50</text>
<line x1="127.85" y1="371.00" x2="131.25" y2="371.00" stroke="#000" stroke-width="1.0"/>
<text transform="translate(124.35 374.10) scale(0.89 1)" font-size="9.1" text-anchor="end" fill="#231f20" stroke="#231f20" stroke-width="0.22">0.25</text>
<line x1="127.85" y1="385.50" x2="131.25" y2="385.50" stroke="#000" stroke-width="1.0"/>
<text transform="translate(124.35 388.60) scale(0.89 1)" font-size="9.1" text-anchor="end" fill="#231f20" stroke="#231f20" stroke-width="0.22">0</text>
<line x1="139.62" y1="385.50" x2="139.62" y2="388.80" stroke="#000" stroke-width="1.0"/>
<line x1="135.35" y1="327.60" x2="143.90" y2="327.60" stroke="#000" stroke-width="2.3" stroke-linecap="round"/>
<line x1="156.00" y1="385.50" x2="156.00" y2="388.80" stroke="#000" stroke-width="1.0"/>
<line x1="156.00" y1="370.13" x2="156.00" y2="375.93" stroke="#000" stroke-width="1.0"/>
<line x1="153.00" y1="370.13" x2="159.00" y2="370.13" stroke="#000" stroke-width="1.0"/>
<line x1="153.00" y1="375.93" x2="159.00" y2="375.93" stroke="#000" stroke-width="1.0"/>
<circle cx="157.00" cy="351.86" r="1.05" fill="#000"/>
<circle cx="154.50" cy="367.52" r="1.05" fill="#000"/>
<circle cx="158.00" cy="369.84" r="1.05" fill="#000"/>
<circle cx="153.50" cy="376.80" r="1.05" fill="#000"/>
<circle cx="159.00" cy="377.96" r="1.05" fill="#000"/>
<circle cx="156.00" cy="379.70" r="1.05" fill="#000"/>
<circle cx="154.00" cy="382.60" r="1.05" fill="#000"/>
<circle cx="158.50" cy="383.18" r="1.05" fill="#000"/>
<circle cx="156.50" cy="373.90" r="1.05" fill="#000"/>
<path d="M140.40 320.70V316.20H155.75V320.70" fill="none" stroke="#000" stroke-width="1.0"/>
<text transform="translate(148.20 313.10)" font-size="8.9" text-anchor="middle" fill="#231f20" stroke="#231f20" stroke-width="0.22" letter-spacing="0.45">****</text>
<text transform="translate(126.00 400.50) scale(0.9 1)" font-size="9.2" text-anchor="end" fill="#231f20" stroke="#231f20" stroke-width="0.22">GC7:</text>
<text transform="translate(139.50 400.00) scale(0.9 1)" font-size="9.2" text-anchor="middle" fill="#231f20" stroke="#231f20" stroke-width="0.22">–</text>
<text transform="translate(156.00 400.00) scale(0.9 1)" font-size="9.2" text-anchor="middle" fill="#231f20" stroke="#231f20" stroke-width="0.22">+</text>
<text transform="translate(210.00 295.20) scale(0.86 1)" font-size="13" text-anchor="start" fill="#000" font-weight="bold" stroke="#000" stroke-width="0.45" stroke-linejoin="round">F</text>
<text transform="translate(254.30 313.80) rotate(-46) scale(0.9 1)" font-size="9.2" text-anchor="start" fill="#231f20" stroke="#231f20" stroke-width="0.22">shCTRL</text>
<text transform="translate(269.30 313.80) rotate(-46) scale(0.9 1)" font-size="9.2" text-anchor="start" fill="#231f20" stroke="#231f20" stroke-width="0.22">shDHPS</text>
<rect x="244.50" y="317.00" width="30.50" height="25.00" fill="#fbfbfb"/>
<g clip-path="url(#c12)">
<ellipse cx="252.5" cy="329.3" rx="5.2" ry="2.9" fill="#000" opacity="1" filter="url(#b1)"/>
<ellipse cx="267" cy="327.8" rx="5" ry="2.6" fill="#000" opacity="0.6" filter="url(#b1)"/>
</g>
<rect x="244.50" y="317.00" width="30.50" height="25.00" fill="none" stroke="#151515" stroke-width="1.15"/>
<rect x="244.50" y="346.25" width="30.50" height="25.00" fill="#f4f4f4"/>
<g clip-path="url(#c13)">
<ellipse cx="252.5" cy="359.5" rx="6" ry="3" fill="#000" opacity="1" filter="url(#b2)"/>
<ellipse cx="267" cy="358.5" rx="6" ry="3.3" fill="#000" opacity="1" filter="url(#b2)"/>
</g>
<rect x="244.50" y="346.25" width="30.50" height="25.00" fill="none" stroke="#151515" stroke-width="1.15"/>
<rect x="244.50" y="375.00" width="30.50" height="25.00" fill="#fbfbfb"/>
<g clip-path="url(#c14)">
<ellipse cx="252.5" cy="387" rx="4.3" ry="1.8" fill="#000" opacity="0.95" filter="url(#b1)"/>
<ellipse cx="267" cy="386.5" rx="4.3" ry="1.8" fill="#000" opacity="0.9" filter="url(#b1)"/>
</g>
<rect x="244.50" y="375.00" width="30.50" height="25.00" fill="none" stroke="#151515" stroke-width="1.15"/>
<text transform="translate(241.00 332.00) scale(0.9 1)" font-size="9.2" text-anchor="end" fill="#231f20" stroke="#231f20" stroke-width="0.22">eIF5A<tspan font-size="6.8" dy="-3.4">H</tspan></text>
<text transform="translate(241.00 362.00) scale(0.9 1)" font-size="9.2" text-anchor="end" fill="#231f20" stroke="#231f20" stroke-width="0.22">eIF5A</text>
<text transform="translate(241.00 390.00) scale(0.9 1)" font-size="9.2" text-anchor="end" fill="#231f20" stroke="#231f20" stroke-width="0.22">actin</text>
<text transform="translate(309.50 347.00) rotate(-90) scale(0.79 1)" font-size="10.3" text-anchor="middle" fill="#231f20" stroke="#231f20" stroke-width="0.1">eIF5A<tspan font-size="6.5" dy="-3.2">H</tspan><tspan dy="3.2">/eIF5A (relative)</tspan></text>
<rect x="342.00" y="326.40" width="11.00" height="59.10" fill="#bdbdc1"/>
<rect x="358.25" y="368.97" width="11.00" height="16.53" fill="#f5900f"/>
<line x1="339.50" y1="310.40" x2="339.50" y2="386.10" stroke="#000" stroke-width="1.25"/>
<line x1="338.80" y1="385.50" x2="372.50" y2="385.50" stroke="#000" stroke-width="1.25"/>
<line x1="336.10" y1="313.00" x2="339.50" y2="313.00" stroke="#000" stroke-width="1.0"/>
<text transform="translate(332.60 316.10) scale(0.89 1)" font-size="9.1" text-anchor="end" fill="#231f20" stroke="#231f20" stroke-width="0.22">1.25</text>
<line x1="336.10" y1="327.50" x2="339.50" y2="327.50" stroke="#000" stroke-width="1.0"/>
<text transform="translate(332.60 330.60) scale(0.89 1)" font-size="9.1" text-anchor="end" fill="#231f20" stroke="#231f20" stroke-width="0.22">1.00</text>
<line x1="336.10" y1="342.00" x2="339.50" y2="342.00" stroke="#000" stroke-width="1.0"/>
<text transform="translate(332.60 345.10) scale(0.89 1)" font-size="9.1" text-anchor="end" fill="#231f20" stroke="#231f20" stroke-width="0.22">0.75</text>
<line x1="336.10" y1="356.50" x2="339.50" y2="356.50" stroke="#000" stroke-width="1.0"/>
<text transform="translate(332.60 359.60) scale(0.89 1)" font-size="9.1" text-anchor="end" fill="#231f20" stroke="#231f20" stroke-width="0.22">0.50</text>
<line x1="336.10" y1="371.00" x2="339.50" y2="371.00" stroke="#000" stroke-width="1.0"/>
<text transform="translate(332.60 374.10) scale(0.89 1)" font-size="9.1" text-anchor="end" fill="#231f20" stroke="#231f20" stroke-width="0.22">0.25</text>
<line x1="336.10" y1="385.50" x2="339.50" y2="385.50" stroke="#000" stroke-width="1.0"/>
<text transform="translate(332.60 388.60) scale(0.89 1)" font-size="9.1" text-anchor="end" fill="#231f20" stroke="#231f20" stroke-width="0.22">0</text>
<line x1="347.50" y1="385.50" x2="347.50" y2="388.80" stroke="#000" stroke-width="1.0"/>
<line x1="343.10" y1="327.60" x2="351.90" y2="327.60" stroke="#000" stroke-width="2.3" stroke-linecap="round"/>
<line x1="363.75" y1="385.50" x2="363.75" y2="388.80" stroke="#000" stroke-width="1.0"/>
<line x1="363.75" y1="363.75" x2="363.75" y2="374.19" stroke="#000" stroke-width="1.0"/>
<line x1="360.75" y1="363.75" x2="366.75" y2="363.75" stroke="#000" stroke-width="1.0"/>
<line x1="360.75" y1="374.19" x2="366.75" y2="374.19" stroke="#000" stroke-width="1.0"/>
<circle cx="363.75" cy="353.60" r="1.35" fill="#000"/>
<circle cx="363.75" cy="360.56" r="1.35" fill="#000"/>
<circle cx="367.35" cy="376.22" r="1.35" fill="#000"/>
<circle cx="360.15" cy="378.54" r="1.35" fill="#000"/>
<circle cx="363.75" cy="372.74" r="1.35" fill="#000"/>
<path d="M347.50 318.75V314.25H363.00V318.75" fill="none" stroke="#000" stroke-width="1.0"/>
<text transform="translate(355.30 312.80)" font-size="8.9" text-anchor="middle" fill="#231f20" stroke="#231f20" stroke-width="0.22" letter-spacing="0.45">**</text>
<text transform="translate(351.30 396.00) rotate(-46) scale(0.9 1)" font-size="9.2" text-anchor="end" fill="#231f20" stroke="#231f20" stroke-width="0.22">shCTRL</text>
<text transform="translate(367.30 396.00) rotate(-46) scale(0.9 1)" font-size="9.2" text-anchor="end" fill="#231f20" stroke="#231f20" stroke-width="0.22">shDHPS</text>
<text transform="translate(10.30 433.20) scale(0.88 1)" font-size="13" text-anchor="start" fill="#000" font-weight="bold" stroke="#000" stroke-width="0.4" stroke-linejoin="round">G</text>
<rect x="17.60" y="439.60" width="67.40" height="67.00" fill="#fff"/>
<path d="M17.60 490.40 L18.44 490.40 L19.29 490.40 L20.13 490.40 L20.97 490.40 L21.81 490.40 L22.66 490.40 L23.50 490.40 L24.34 490.40 L25.18 490.40 L26.03 490.40 L26.87 490.40 L27.71 490.40 L28.55 490.40 L29.40 490.40 L30.24 490.40 L31.08 490.40 L31.92 490.40 L32.77 490.40 L33.61 490.40 L34.45 490.40 L35.29 490.40 L36.14 490.40 L36.98 490.40 L37.82 490.38 L38.66 490.34 L39.51 490.20 L40.35 489.85 L41.19 489.08 L42.03 487.59 L42.88 485.13 L43.72 481.53 L44.56 476.92 L45.40 471.72 L46.25 466.62 L47.09 462.45 L47.93 460.00 L48.77 459.76 L49.62 461.71 L50.46 465.37 L51.30 470.04 L52.14 475.05 L52.99 479.80 L53.83 483.80 L54.67 486.77 L55.51 488.65 L56.36 489.68 L57.20 490.14 L58.04 490.32 L58.88 490.38 L59.73 490.40 L60.57 490.40 L61.41 490.40 L62.25 490.40 L63.10 490.40 L63.94 490.40 L64.78 490.40 L65.62 490.40 L66.47 490.40 L67.31 490.40 L68.15 490.40 L68.99 490.40 L69.84 490.40 L70.68 490.40 L71.52 490.40 L72.36 490.40 L73.21 490.40 L74.05 490.40 L74.89 490.40 L75.73 490.40 L76.58 490.40 L77.42 490.40 L78.26 490.40 L79.10 490.40 L79.95 490.40 L80.79 490.40 L81.63 490.40 L82.47 490.40 L83.31 490.40 L84.16 490.40 L85.00 490.40 L85.00 490.40 L17.60 490.40Z" fill="#c6e3ba" fill-opacity="0.85"/>
<path d="M17.60 490.40 L18.44 490.40 L19.29 490.40 L20.13 490.40 L20.97 490.40 L21.81 490.40 L22.66 490.40 L23.50 490.40 L24.34 490.40 L25.18 490.40 L26.03 490.40 L26.87 490.40 L27.71 490.40 L28.55 490.40 L29.40 490.40 L30.24 490.40 L31.08 490.40 L31.92 490.40 L32.77 490.40 L33.61 490.40 L34.45 490.40 L35.29 490.40 L36.14 490.40 L36.98 490.40 L37.82 490.38 L38.66 490.34 L39.51 490.20 L40.35 489.85 L41.19 489.08 L42.03 487.59 L42.88 485.13 L43.72 481.53 L44.56 476.92 L45.40 471.72 L46.25 466.62 L47.09 462.45 L47.93 460.00 L48.77 459.76 L49.62 461.71 L50.46 465.37 L51.30 470.04 L52.14 475.05 L52.99 479.80 L53.83 483.80 L54.67 486.77 L55.51 488.65 L56.36 489.68 L57.20 490.14 L58.04 490.32 L58.88 490.38 L59.73 490.40 L60.57 490.40 L61.41 490.40 L62.25 490.40 L63.10 490.40 L63.94 490.40 L64.78 490.40 L65.62 490.40 L66.47 490.40 L67.31 490.40 L68.15 490.40 L68.99 490.40 L69.84 490.40 L70.68 490.40 L71.52 490.40 L72.36 490.40 L73.21 490.40 L74.05 490.40 L74.89 490.40 L75.73 490.40 L76.58 490.40 L77.42 490.40 L78.26 490.40 L79.10 490.40 L79.95 490.40 L80.79 490.40 L81.63 490.40 L82.47 490.40 L83.31 490.40 L84.16 490.40 L85.00 490.40" fill="none" stroke="#46a040" stroke-width="0.75" stroke-linejoin="round"/>
<path d="M17.60 506.20 L18.44 506.20 L19.29 506.20 L20.13 506.20 L20.97 506.20 L21.81 506.20 L22.66 506.20 L23.50 506.20 L24.34 506.20 L25.18 506.20 L26.03 506.20 L26.87 506.20 L27.71 506.20 L28.55 506.20 L29.40 506.20 L30.24 506.20 L31.08 506.20 L31.92 506.20 L32.77 506.20 L33.61 506.20 L34.45 506.20 L35.29 506.20 L36.14 506.20 L36.98 506.20 L37.82 506.20 L38.66 506.19 L39.51 506.16 L40.35 506.04 L41.19 505.62 L42.03 504.48 L42.88 501.90 L43.72 497.21 L44.56 490.44 L45.40 483.09 L46.25 477.81 L47.09 477.00 L47.93 481.05 L48.77 488.06 L49.62 495.24 L50.46 500.66 L51.30 503.85 L52.14 505.37 L52.99 505.95 L53.83 506.14 L54.67 506.19 L55.51 506.20 L56.36 506.20 L57.20 506.20 L58.04 506.20 L58.88 506.20 L59.73 506.20 L60.57 506.20 L61.41 506.20 L62.25 506.20 L63.10 506.20 L63.94 506.20 L64.78 506.20 L65.62 506.20 L66.47 506.20 L67.31 506.20 L68.15 506.20 L68.99 506.20 L69.84 506.20 L70.68 506.20 L71.52 506.20 L72.36 506.20 L73.21 506.20 L74.05 506.20 L74.89 506.20 L75.73 506.20 L76.58 506.20 L77.42 506.20 L78.26 506.20 L79.10 506.20 L79.95 506.20 L80.79 506.20 L81.63 506.20 L82.47 506.20 L83.31 506.20 L84.16 506.20 L85.00 506.20 L85.00 506.20 L17.60 506.20Z" fill="#b4b4b8" fill-opacity="0.75"/>
<path d="M17.60 473.40 L18.44 473.40 L19.29 473.40 L20.13 473.40 L20.97 473.40 L21.81 473.40 L22.66 473.40 L23.50 473.40 L24.34 473.40 L25.18 473.40 L26.03 473.40 L26.87 473.40 L27.71 473.40 L28.55 473.40 L29.40 473.40 L30.24 473.40 L31.08 473.40 L31.92 473.40 L32.77 473.40 L33.61 473.40 L34.45 473.40 L35.29 473.40 L36.14 473.39 L36.98 473.37 L37.82 473.34 L38.66 473.27 L39.51 473.16 L40.35 472.97 L41.19 472.67 L42.03 472.25 L42.88 471.69 L43.72 470.97 L44.56 470.09 L45.40 469.04 L46.25 467.82 L47.09 466.46 L47.93 464.98 L48.77 463.44 L49.62 461.86 L50.46 460.29 L51.30 458.82 L52.14 457.57 L52.99 456.55 L53.83 455.34 L54.67 453.08 L55.51 449.20 L56.36 444.85 L57.20 443.03 L58.04 446.18 L58.88 453.57 L59.73 461.85 L60.57 468.06 L61.41 471.44 L62.25 472.82 L63.10 473.26 L63.94 473.37 L64.78 473.40 L65.62 473.40 L66.47 473.40 L67.31 473.40 L68.15 473.40 L68.99 473.40 L69.84 473.40 L70.68 473.40 L71.52 473.40 L72.36 473.40 L73.21 473.40 L74.05 473.40 L74.89 473.40 L75.73 473.40 L76.58 473.40 L77.42 473.40 L78.26 473.40 L79.10 473.40 L79.95 473.40 L80.79 473.40 L81.63 473.40 L82.47 473.40 L83.31 473.40 L84.16 473.40 L85.00 473.40" fill="none" stroke="#55555f" stroke-width="0.8" stroke-linejoin="round"/>
<line x1="17.60" y1="490.40" x2="85.00" y2="490.40" stroke="#5aae52" stroke-width="0.7"/>
<rect x="17.60" y="439.60" width="67.40" height="66.60" fill="none" stroke="#333" stroke-width="1.2"/>
<line x1="19.60" y1="506.20" x2="19.60" y2="509.40" stroke="#222" stroke-width="0.7"/>
<line x1="23.42" y1="506.20" x2="23.42" y2="508.20" stroke="#222" stroke-width="0.7"/>
<line x1="25.65" y1="506.20" x2="25.65" y2="508.20" stroke="#222" stroke-width="0.7"/>
<line x1="27.23" y1="506.20" x2="27.23" y2="508.20" stroke="#222" stroke-width="0.7"/>
<line x1="28.46" y1="506.20" x2="28.46" y2="508.20" stroke="#222" stroke-width="0.7"/>
<line x1="29.47" y1="506.20" x2="29.47" y2="508.20" stroke="#222" stroke-width="0.7"/>
<line x1="30.32" y1="506.20" x2="30.32" y2="508.20" stroke="#222" stroke-width="0.7"/>
<line x1="31.05" y1="506.20" x2="31.05" y2="508.20" stroke="#222" stroke-width="0.7"/>
<line x1="31.70" y1="506.20" x2="31.70" y2="508.20" stroke="#222" stroke-width="0.7"/>
<line x1="32.28" y1="506.20" x2="32.28" y2="509.40" stroke="#222" stroke-width="0.7"/>
<line x1="36.10" y1="506.20" x2="36.10" y2="508.20" stroke="#222" stroke-width="0.7"/>
<line x1="38.33" y1="506.20" x2="38.33" y2="508.20" stroke="#222" stroke-width="0.7"/>
<line x1="39.91" y1="506.20" x2="39.91" y2="508.20" stroke="#222" stroke-width="0.7"/>
<line x1="41.14" y1="506.20" x2="41.14" y2="508.20" stroke="#222" stroke-width="0.7"/>
<line x1="42.15" y1="506.20" x2="42.15" y2="508.20" stroke="#222" stroke-width="0.7"/>
<line x1="43.00" y1="506.20" x2="43.00" y2="508.20" stroke="#222" stroke-width="0.7"/>
<line x1="43.73" y1="506.20" x2="43.73" y2="508.20" stroke="#222" stroke-width="0.7"/>
<line x1="44.38" y1="506.20" x2="44.38" y2="508.20" stroke="#222" stroke-width="0.7"/>
<line x1="44.96" y1="506.20" x2="44.96" y2="509.40" stroke="#222" stroke-width="0.7"/>
<line x1="48.78" y1="506.20" x2="48.78" y2="508.20" stroke="#222" stroke-width="0.7"/>
<line x1="51.01" y1="506.20" x2="51.01" y2="508.20" stroke="#222" stroke-width="0.7"/>
<line x1="52.59" y1="506.20" x2="52.59" y2="508.20" stroke="#222" stroke-width="0.7"/>
<line x1="53.82" y1="506.20" x2="53.82" y2="508.20" stroke="#222" stroke-width="0.7"/>
<line x1="54.83" y1="506.20" x2="54.83" y2="508.20" stroke="#222" stroke-width="0.7"/>
<line x1="55.68" y1="506.20" x2="55.68" y2="508.20" stroke="#222" stroke-width="0.7"/>
<line x1="56.41" y1="506.20" x2="56.41" y2="508.20" stroke="#222" stroke-width="0.7"/>
<line x1="57.06" y1="506.20" x2="57.06" y2="508.20" stroke="#222" stroke-width="0.7"/>
<line x1="57.64" y1="506.20" x2="57.64" y2="509.40" stroke="#222" stroke-width="0.7"/>
<line x1="61.46" y1="506.20" x2="61.46" y2="508.20" stroke="#222" stroke-width="0.7"/>
<line x1="63.69" y1="506.20" x2="63.69" y2="508.20" stroke="#222" stroke-width="0.7"/>
<line x1="65.27" y1="506.20" x2="65.27" y2="508.20" stroke="#222" stroke-width="0.7"/>
<line x1="66.50" y1="506.20" x2="66.50" y2="508.20" stroke="#222" stroke-width="0.7"/>
<line x1="67.51" y1="506.20" x2="67.51" y2="508.20" stroke="#222" stroke-width="0.7"/>
<line x1="68.36" y1="506.20" x2="68.36" y2="508.20" stroke="#222" stroke-width="0.7"/>
<line x1="69.09" y1="506.20" x2="69.09" y2="508.20" stroke="#222" stroke-width="0.7"/>
<line x1="69.74" y1="506.20" x2="69.74" y2="508.20" stroke="#222" stroke-width="0.7"/>
<line x1="70.32" y1="506.20" x2="70.32" y2="509.40" stroke="#222" stroke-width="0.7"/>
<line x1="74.14" y1="506.20" x2="74.14" y2="508.20" stroke="#222" stroke-width="0.7"/>
<line x1="76.37" y1="506.20" x2="76.37" y2="508.20" stroke="#222" stroke-width="0.7"/>
<line x1="77.95" y1="506.20" x2="77.95" y2="508.20" stroke="#222" stroke-width="0.7"/>
<line x1="79.18" y1="506.20" x2="79.18" y2="508.20" stroke="#222" stroke-width="0.7"/>
<line x1="80.19" y1="506.20" x2="80.19" y2="508.20" stroke="#222" stroke-width="0.7"/>
<line x1="81.04" y1="506.20" x2="81.04" y2="508.20" stroke="#222" stroke-width="0.7"/>
<line x1="81.77" y1="506.20" x2="81.77" y2="508.20" stroke="#222" stroke-width="0.7"/>
<line x1="82.42" y1="506.20" x2="82.42" y2="508.20" stroke="#222" stroke-width="0.7"/>
<text transform="translate(20.00 469.50) scale(0.9 1)" font-size="9.2" text-anchor="start" fill="#50505f" stroke="#50505f" stroke-width="0.05">CTRL</text>
<text transform="translate(82.50 469.50) scale(0.9 1)" font-size="9.2" text-anchor="end" fill="#50505f" stroke="#50505f" stroke-width="0.05">1689</text>
<text transform="translate(20.00 486.30) scale(0.9 1)" font-size="9.2" text-anchor="start" fill="#4ea546" stroke="#4ea546" stroke-width="0.05">GC7</text>
<text transform="translate(82.50 486.30) scale(0.9 1)" font-size="9.2" text-anchor="end" fill="#4ea546" stroke="#4ea546" stroke-width="0.05">525</text>
<text transform="translate(20.00 501.50) scale(0.9 1)" font-size="9.2" text-anchor="start" fill="#c6c6c6" stroke="#c6c6c6" stroke-width="0.05">CHX</text>
<text transform="translate(82.50 501.50) scale(0.9 1)" font-size="9.2" text-anchor="end" fill="#c6c6c6" stroke="#c6c6c6" stroke-width="0.05">384</text>
<line x1="18.00" y1="519.00" x2="58.00" y2="519.00" stroke="#000" stroke-width="1.35"/>
<path d="M61.00 519.00L54.40 516.50L56.00 519.00L54.40 521.50Z" fill="#000"/>
<text transform="translate(66.00 522.50) scale(0.75 1)" font-size="10.3" text-anchor="start" fill="#231f20" stroke="#231f20" stroke-width="0.22">OPP</text>
<text transform="translate(108.00 474.20) rotate(-90) scale(0.826 1)" font-size="10.3" text-anchor="middle" fill="#231f20" stroke="#231f20" stroke-width="0.1">ΔMFI (relative)</text>
<rect x="139.25" y="455.25" width="11.25" height="58.50" fill="#bdbdc1"/>
<rect x="156.00" y="491.08" width="11.00" height="22.67" fill="#3aa535"/>
<line x1="136.75" y1="439.40" x2="136.75" y2="514.35" stroke="#000" stroke-width="1.25"/>
<line x1="136.05" y1="513.75" x2="170.00" y2="513.75" stroke="#000" stroke-width="1.25"/>
<line x1="133.35" y1="442.00" x2="136.75" y2="442.00" stroke="#000" stroke-width="1.0"/>
<text transform="translate(129.85 445.10) scale(0.89 1)" font-size="9.1" text-anchor="end" fill="#231f20" stroke="#231f20" stroke-width="0.22">1.25</text>
<line x1="133.35" y1="456.35" x2="136.75" y2="456.35" stroke="#000" stroke-width="1.0"/>
<text transform="translate(129.85 459.45) scale(0.89 1)" font-size="9.1" text-anchor="end" fill="#231f20" stroke="#231f20" stroke-width="0.22">1.00</text>
<line x1="133.35" y1="470.70" x2="136.75" y2="470.70" stroke="#000" stroke-width="1.0"/>
<text transform="translate(129.85 473.80) scale(0.89 1)" font-size="9.1" text-anchor="end" fill="#231f20" stroke="#231f20" stroke-width="0.22">0.75</text>
<line x1="133.35" y1="485.05" x2="136.75" y2="485.05" stroke="#000" stroke-width="1.0"/>
<text transform="translate(129.85 488.15) scale(0.89 1)" font-size="9.1" text-anchor="end" fill="#231f20" stroke="#231f20" stroke-width="0.22">0.50</text>
<line x1="133.35" y1="499.40" x2="136.75" y2="499.40" stroke="#000" stroke-width="1.0"/>
<text transform="translate(129.85 502.50) scale(0.89 1)" font-size="9.1" text-anchor="end" fill="#231f20" stroke="#231f20" stroke-width="0.22">0.25</text>
<line x1="133.35" y1="513.75" x2="136.75" y2="513.75" stroke="#000" stroke-width="1.0"/>
<text transform="translate(129.85 516.85) scale(0.89 1)" font-size="9.1" text-anchor="end" fill="#231f20" stroke="#231f20" stroke-width="0.22">0</text>
<line x1="144.88" y1="513.75" x2="144.88" y2="517.05" stroke="#000" stroke-width="1.0"/>
<line x1="140.35" y1="456.45" x2="149.40" y2="456.45" stroke="#000" stroke-width="2.3" stroke-linecap="round"/>
<line x1="161.50" y1="513.75" x2="161.50" y2="517.05" stroke="#000" stroke-width="1.0"/>
<line x1="161.50" y1="488.78" x2="161.50" y2="493.37" stroke="#000" stroke-width="1.0"/>
<line x1="158.50" y1="488.78" x2="164.50" y2="488.78" stroke="#000" stroke-width="1.0"/>
<line x1="158.50" y1="493.37" x2="164.50" y2="493.37" stroke="#000" stroke-width="1.0"/>
<circle cx="165.70" cy="482.35" r="1.3" fill="#000"/>
<circle cx="157.30" cy="485.05" r="1.3" fill="#000"/>
<circle cx="161.50" cy="484.65" r="1.3" fill="#000"/>
<circle cx="165.70" cy="492.28" r="1.3" fill="#000"/>
<circle cx="157.30" cy="491.65" r="1.3" fill="#000"/>
<circle cx="161.50" cy="493.09" r="1.3" fill="#000"/>
<circle cx="161.50" cy="501.70" r="1.3" fill="#000"/>
<circle cx="161.50" cy="508.01" r="1.3" fill="#000"/>
<path d="M144.25 450.75V446.25H158.75V450.75" fill="none" stroke="#000" stroke-width="1.0"/>
<text transform="translate(151.50 445.50)" font-size="8.9" text-anchor="middle" fill="#231f20" stroke="#231f20" stroke-width="0.22" letter-spacing="0.45">****</text>
<text transform="translate(134.00 527.50) scale(0.9 1)" font-size="9.2" text-anchor="end" fill="#231f20" stroke="#231f20" stroke-width="0.22">GC7:</text>
<text transform="translate(145.00 527.50) scale(0.9 1)" font-size="9.2" text-anchor="middle" fill="#231f20" stroke="#231f20" stroke-width="0.22">–</text>
<text transform="translate(161.50 527.50) scale(0.9 1)" font-size="9.2" text-anchor="middle" fill="#231f20" stroke="#231f20" stroke-width="0.22">+</text>
<text transform="translate(209.40 433.20) scale(1.0 1)" font-size="13" text-anchor="start" fill="#000" font-weight="bold" stroke="#000" stroke-width="0.4" stroke-linejoin="round">H</text>
<rect x="221.40" y="440.00" width="67.20" height="67.00" fill="#fff"/>
<path d="M221.40 491.00 L222.24 491.00 L223.08 491.00 L223.92 491.00 L224.76 491.00 L225.60 491.00 L226.44 491.00 L227.28 491.00 L228.12 491.00 L228.96 491.00 L229.80 491.00 L230.64 491.00 L231.48 491.00 L232.32 491.00 L233.16 491.00 L234.00 491.00 L234.84 491.00 L235.68 491.00 L236.52 491.00 L237.36 491.00 L238.20 491.00 L239.04 491.00 L239.88 491.00 L240.72 491.00 L241.56 491.00 L242.40 491.00 L243.24 490.99 L244.08 490.97 L244.92 490.91 L245.76 490.78 L246.60 490.52 L247.44 490.03 L248.28 489.23 L249.12 488.06 L249.96 486.52 L250.80 484.69 L251.64 482.69 L252.48 480.64 L253.32 478.64 L254.16 476.80 L255.00 475.14 L255.84 473.56 L256.68 471.76 L257.52 469.33 L258.36 466.28 L259.20 463.49 L260.04 462.53 L260.88 464.69 L261.72 469.84 L262.56 476.39 L263.40 482.42 L264.24 486.72 L265.08 489.19 L265.92 490.34 L266.76 490.80 L267.60 490.94 L268.44 490.99 L269.28 491.00 L270.12 491.00 L270.96 491.00 L271.80 491.00 L272.64 491.00 L273.48 491.00 L274.32 491.00 L275.16 491.00 L276.00 491.00 L276.84 491.00 L277.68 491.00 L278.52 491.00 L279.36 491.00 L280.20 491.00 L281.04 491.00 L281.88 491.00 L282.72 491.00 L283.56 491.00 L284.40 491.00 L285.24 491.00 L286.08 491.00 L286.92 491.00 L287.76 491.00 L288.60 491.00 L288.60 491.00 L221.40 491.00Z" fill="#fcd6a4" fill-opacity="0.95"/>
<path d="M221.40 491.00 L222.24 491.00 L223.08 491.00 L223.92 491.00 L224.76 491.00 L225.60 491.00 L226.44 491.00 L227.28 491.00 L228.12 491.00 L228.96 491.00 L229.80 491.00 L230.64 491.00 L231.48 491.00 L232.32 491.00 L233.16 491.00 L234.00 491.00 L234.84 491.00 L235.68 491.00 L236.52 491.00 L237.36 491.00 L238.20 491.00 L239.04 491.00 L239.88 491.00 L240.72 491.00 L241.56 491.00 L242.40 491.00 L243.24 490.99 L244.08 490.97 L244.92 490.91 L245.76 490.78 L246.60 490.52 L247.44 490.03 L248.28 489.23 L249.12 488.06 L249.96 486.52 L250.80 484.69 L251.64 482.69 L252.48 480.64 L253.32 478.64 L254.16 476.80 L255.00 475.14 L255.84 473.56 L256.68 471.76 L257.52 469.33 L258.36 466.28 L259.20 463.49 L260.04 462.53 L260.88 464.69 L261.72 469.84 L262.56 476.39 L263.40 482.42 L264.24 486.72 L265.08 489.19 L265.92 490.34 L266.76 490.80 L267.60 490.94 L268.44 490.99 L269.28 491.00 L270.12 491.00 L270.96 491.00 L271.80 491.00 L272.64 491.00 L273.48 491.00 L274.32 491.00 L275.16 491.00 L276.00 491.00 L276.84 491.00 L277.68 491.00 L278.52 491.00 L279.36 491.00 L280.20 491.00 L281.04 491.00 L281.88 491.00 L282.72 491.00 L283.56 491.00 L284.40 491.00 L285.24 491.00 L286.08 491.00 L286.92 491.00 L287.76 491.00 L288.60 491.00" fill="none" stroke="#f7ad55" stroke-width="0.8" stroke-linejoin="round"/>
<path d="M221.40 506.80 L222.24 506.80 L223.08 506.80 L223.92 506.80 L224.76 506.80 L225.60 506.80 L226.44 506.80 L227.28 506.80 L228.12 506.80 L228.96 506.80 L229.80 506.80 L230.64 506.80 L231.48 506.80 L232.32 506.80 L233.16 506.80 L234.00 506.80 L234.84 506.80 L235.68 506.80 L236.52 506.80 L237.36 506.80 L238.20 506.80 L239.04 506.80 L239.88 506.79 L240.72 506.75 L241.56 506.66 L242.40 506.43 L243.24 505.91 L244.08 504.89 L244.92 503.11 L245.76 500.37 L246.60 496.72 L247.44 492.56 L248.28 488.68 L249.12 486.02 L249.96 485.34 L250.80 486.83 L251.64 490.06 L252.48 494.16 L253.32 498.20 L254.16 501.53 L255.00 503.89 L255.84 505.35 L256.68 506.15 L257.52 506.54 L258.36 506.70 L259.20 506.77 L260.04 506.79 L260.88 506.80 L261.72 506.80 L262.56 506.80 L263.40 506.80 L264.24 506.80 L265.08 506.80 L265.92 506.80 L266.76 506.80 L267.60 506.80 L268.44 506.80 L269.28 506.80 L270.12 506.80 L270.96 506.80 L271.80 506.80 L272.64 506.80 L273.48 506.80 L274.32 506.80 L275.16 506.80 L276.00 506.80 L276.84 506.80 L277.68 506.80 L278.52 506.80 L279.36 506.80 L280.20 506.80 L281.04 506.80 L281.88 506.80 L282.72 506.80 L283.56 506.80 L284.40 506.80 L285.24 506.80 L286.08 506.80 L286.92 506.80 L287.76 506.80 L288.60 506.80 L288.60 506.80 L221.40 506.80Z" fill="#aeb0b8" fill-opacity="0.75"/>
<path d="M221.40 474.00 L222.24 474.00 L223.08 474.00 L223.92 474.00 L224.76 474.00 L225.60 474.00 L226.44 474.00 L227.28 474.00 L228.12 474.00 L228.96 474.00 L229.80 474.00 L230.64 474.00 L231.48 474.00 L232.32 474.00 L233.16 474.00 L234.00 474.00 L234.84 474.00 L235.68 474.00 L236.52 473.99 L237.36 473.99 L238.20 473.97 L239.04 473.95 L239.88 473.92 L240.72 473.86 L241.56 473.78 L242.40 473.66 L243.24 473.51 L244.08 473.31 L244.92 473.07 L245.76 472.79 L246.60 472.48 L247.44 472.14 L248.28 471.76 L249.12 471.34 L249.96 470.85 L250.80 470.25 L251.64 469.52 L252.48 468.66 L253.32 467.70 L254.16 466.71 L255.00 465.74 L255.84 464.72 L256.68 463.34 L257.52 461.05 L258.36 457.31 L259.20 452.25 L260.04 447.23 L260.88 444.45 L261.72 445.64 L262.56 450.69 L263.40 457.72 L264.24 464.35 L265.08 469.14 L265.92 471.90 L266.76 473.21 L267.60 473.74 L268.44 473.92 L269.28 473.97 L270.12 473.99 L270.96 474.00 L271.80 474.00 L272.64 474.00 L273.48 474.00 L274.32 474.00 L275.16 474.00 L276.00 474.00 L276.84 474.00 L277.68 474.00 L278.52 474.00 L279.36 474.00 L280.20 474.00 L281.04 474.00 L281.88 474.00 L282.72 474.00 L283.56 474.00 L284.40 474.00 L285.24 474.00 L286.08 474.00 L286.92 474.00 L287.76 474.00 L288.60 474.00" fill="none" stroke="#60606a" stroke-width="0.8" stroke-linejoin="round"/>
<line x1="221.40" y1="491.00" x2="288.60" y2="491.00" stroke="#f7ad55" stroke-width="1.1"/>
<rect x="221.40" y="440.00" width="67.20" height="67.00" fill="none" stroke="#333" stroke-width="1.2"/>
<line x1="223.40" y1="507.00" x2="223.40" y2="510.20" stroke="#222" stroke-width="0.7"/>
<line x1="227.21" y1="507.00" x2="227.21" y2="509.00" stroke="#222" stroke-width="0.7"/>
<line x1="229.43" y1="507.00" x2="229.43" y2="509.00" stroke="#222" stroke-width="0.7"/>
<line x1="231.01" y1="507.00" x2="231.01" y2="509.00" stroke="#222" stroke-width="0.7"/>
<line x1="232.23" y1="507.00" x2="232.23" y2="509.00" stroke="#222" stroke-width="0.7"/>
<line x1="233.24" y1="507.00" x2="233.24" y2="509.00" stroke="#222" stroke-width="0.7"/>
<line x1="234.08" y1="507.00" x2="234.08" y2="509.00" stroke="#222" stroke-width="0.7"/>
<line x1="234.82" y1="507.00" x2="234.82" y2="509.00" stroke="#222" stroke-width="0.7"/>
<line x1="235.46" y1="507.00" x2="235.46" y2="509.00" stroke="#222" stroke-width="0.7"/>
<line x1="236.04" y1="507.00" x2="236.04" y2="510.20" stroke="#222" stroke-width="0.7"/>
<line x1="239.85" y1="507.00" x2="239.85" y2="509.00" stroke="#222" stroke-width="0.7"/>
<line x1="242.07" y1="507.00" x2="242.07" y2="509.00" stroke="#222" stroke-width="0.7"/>
<line x1="243.65" y1="507.00" x2="243.65" y2="509.00" stroke="#222" stroke-width="0.7"/>
<line x1="244.87" y1="507.00" x2="244.87" y2="509.00" stroke="#222" stroke-width="0.7"/>
<line x1="245.88" y1="507.00" x2="245.88" y2="509.00" stroke="#222" stroke-width="0.7"/>
<line x1="246.72" y1="507.00" x2="246.72" y2="509.00" stroke="#222" stroke-width="0.7"/>
<line x1="247.46" y1="507.00" x2="247.46" y2="509.00" stroke="#222" stroke-width="0.7"/>
<line x1="248.10" y1="507.00" x2="248.10" y2="509.00" stroke="#222" stroke-width="0.7"/>
<line x1="248.68" y1="507.00" x2="248.68" y2="510.20" stroke="#222" stroke-width="0.7"/>
<line x1="252.49" y1="507.00" x2="252.49" y2="509.00" stroke="#222" stroke-width="0.7"/>
<line x1="254.71" y1="507.00" x2="254.71" y2="509.00" stroke="#222" stroke-width="0.7"/>
<line x1="256.29" y1="507.00" x2="256.29" y2="509.00" stroke="#222" stroke-width="0.7"/>
<line x1="257.51" y1="507.00" x2="257.51" y2="509.00" stroke="#222" stroke-width="0.7"/>
<line x1="258.52" y1="507.00" x2="258.52" y2="509.00" stroke="#222" stroke-width="0.7"/>
<line x1="259.36" y1="507.00" x2="259.36" y2="509.00" stroke="#222" stroke-width="0.7"/>
<line x1="260.10" y1="507.00" x2="260.10" y2="509.00" stroke="#222" stroke-width="0.7"/>
<line x1="260.74" y1="507.00" x2="260.74" y2="509.00" stroke="#222" stroke-width="0.7"/>
<line x1="261.32" y1="507.00" x2="261.32" y2="510.20" stroke="#222" stroke-width="0.7"/>
<line x1="265.13" y1="507.00" x2="265.13" y2="509.00" stroke="#222" stroke-width="0.7"/>
<line x1="267.35" y1="507.00" x2="267.35" y2="509.00" stroke="#222" stroke-width="0.7"/>
<line x1="268.93" y1="507.00" x2="268.93" y2="509.00" stroke="#222" stroke-width="0.7"/>
<line x1="270.15" y1="507.00" x2="270.15" y2="509.00" stroke="#222" stroke-width="0.7"/>
<line x1="271.16" y1="507.00" x2="271.16" y2="509.00" stroke="#222" stroke-width="0.7"/>
<line x1="272.00" y1="507.00" x2="272.00" y2="509.00" stroke="#222" stroke-width="0.7"/>
<line x1="272.74" y1="507.00" x2="272.74" y2="509.00" stroke="#222" stroke-width="0.7"/>
<line x1="273.38" y1="507.00" x2="273.38" y2="509.00" stroke="#222" stroke-width="0.7"/>
<line x1="273.96" y1="507.00" x2="273.96" y2="510.20" stroke="#222" stroke-width="0.7"/>
<line x1="277.77" y1="507.00" x2="277.77" y2="509.00" stroke="#222" stroke-width="0.7"/>
<line x1="279.99" y1="507.00" x2="279.99" y2="509.00" stroke="#222" stroke-width="0.7"/>
<line x1="281.57" y1="507.00" x2="281.57" y2="509.00" stroke="#222" stroke-width="0.7"/>
<line x1="282.79" y1="507.00" x2="282.79" y2="509.00" stroke="#222" stroke-width="0.7"/>
<line x1="283.80" y1="507.00" x2="283.80" y2="509.00" stroke="#222" stroke-width="0.7"/>
<line x1="284.64" y1="507.00" x2="284.64" y2="509.00" stroke="#222" stroke-width="0.7"/>
<line x1="285.38" y1="507.00" x2="285.38" y2="509.00" stroke="#222" stroke-width="0.7"/>
<line x1="286.02" y1="507.00" x2="286.02" y2="509.00" stroke="#222" stroke-width="0.7"/>
<text transform="translate(214.60 469.50) scale(0.9 1)" font-size="9.2" text-anchor="start" fill="#4a5060" stroke="#4a5060" stroke-width="0.05">shCTRL</text>
<text transform="translate(287.00 469.50) scale(0.9 1)" font-size="9.2" text-anchor="end" fill="#4a5060" stroke="#4a5060" stroke-width="0.05">1930</text>
<text transform="translate(213.40 486.80) scale(0.9 1)" font-size="9.2" text-anchor="start" fill="#f9b465" stroke="#f9b465" stroke-width="0.05">shDHPS</text>
<text transform="translate(287.00 486.80) scale(0.9 1)" font-size="9.2" text-anchor="end" fill="#f9b465" stroke="#f9b465" stroke-width="0.05">1345</text>
<text transform="translate(223.60 503.00) scale(0.9 1)" font-size="9.2" text-anchor="start" fill="#bdbdbd" stroke="#bdbdbd" stroke-width="0.05">CHX</text>
<text transform="translate(278.00 503.00) scale(0.9 1)" font-size="9.2" text-anchor="end" fill="#bdbdbd" stroke="#bdbdbd" stroke-width="0.05">361</text>
<line x1="220.60" y1="519.00" x2="260.00" y2="519.00" stroke="#000" stroke-width="1.35"/>
<path d="M263.00 519.00L256.40 516.50L258.00 519.00L256.40 521.50Z" fill="#000"/>
<text transform="translate(268.60 522.50) scale(0.75 1)" font-size="10.3" text-anchor="start" fill="#231f20" stroke="#231f20" stroke-width="0.22">OPP</text>
<text transform="translate(308.00 477.60) rotate(-90) scale(0.826 1)" font-size="10.3" text-anchor="middle" fill="#231f20" stroke="#231f20" stroke-width="0.1">ΔMFI (relative)</text>
<rect x="339.25" y="457.04" width="11.50" height="58.56" fill="#bdbdc1"/>
<rect x="356.00" y="477.83" width="11.00" height="37.77" fill="#f5900f"/>
<line x1="336.75" y1="439.80" x2="336.75" y2="516.20" stroke="#000" stroke-width="1.25"/>
<line x1="336.05" y1="515.60" x2="370.50" y2="515.60" stroke="#000" stroke-width="1.25"/>
<line x1="333.35" y1="442.40" x2="336.75" y2="442.40" stroke="#000" stroke-width="1.0"/>
<text transform="translate(329.85 445.50) scale(0.89 1)" font-size="9.1" text-anchor="end" fill="#231f20" stroke="#231f20" stroke-width="0.22">1.25</text>
<line x1="333.35" y1="457.04" x2="336.75" y2="457.04" stroke="#000" stroke-width="1.0"/>
<text transform="translate(329.85 460.14) scale(0.89 1)" font-size="9.1" text-anchor="end" fill="#231f20" stroke="#231f20" stroke-width="0.22">1.00</text>
<line x1="333.35" y1="471.68" x2="336.75" y2="471.68" stroke="#000" stroke-width="1.0"/>
<text transform="translate(329.85 474.78) scale(0.89 1)" font-size="9.1" text-anchor="end" fill="#231f20" stroke="#231f20" stroke-width="0.22">0.75</text>
<line x1="333.35" y1="486.32" x2="336.75" y2="486.32" stroke="#000" stroke-width="1.0"/>
<text transform="translate(329.85 489.42) scale(0.89 1)" font-size="9.1" text-anchor="end" fill="#231f20" stroke="#231f20" stroke-width="0.22">0.50</text>
<line x1="333.35" y1="500.96" x2="336.75" y2="500.96" stroke="#000" stroke-width="1.0"/>
<text transform="translate(329.85 504.06) scale(0.89 1)" font-size="9.1" text-anchor="end" fill="#231f20" stroke="#231f20" stroke-width="0.22">0.25</text>
<line x1="333.35" y1="515.60" x2="336.75" y2="515.60" stroke="#000" stroke-width="1.0"/>
<text transform="translate(329.85 518.70) scale(0.89 1)" font-size="9.1" text-anchor="end" fill="#231f20" stroke="#231f20" stroke-width="0.22">0</text>
<line x1="345.00" y1="515.60" x2="345.00" y2="518.90" stroke="#000" stroke-width="1.0"/>
<circle cx="341.50" cy="457.04" r="1.45" fill="#000"/>
<circle cx="345.00" cy="457.04" r="1.45" fill="#000"/>
<circle cx="348.50" cy="457.04" r="1.45" fill="#000"/>
<line x1="361.50" y1="515.60" x2="361.50" y2="518.90" stroke="#000" stroke-width="1.0"/>
<line x1="361.50" y1="474.02" x2="361.50" y2="481.64" stroke="#000" stroke-width="1.0"/>
<line x1="358.50" y1="474.02" x2="364.50" y2="474.02" stroke="#000" stroke-width="1.0"/>
<line x1="358.50" y1="481.64" x2="364.50" y2="481.64" stroke="#000" stroke-width="1.0"/>
<circle cx="361.50" cy="470.51" r="1.45" fill="#000"/>
<circle cx="361.50" cy="474.61" r="1.45" fill="#000"/>
<circle cx="361.50" cy="486.32" r="1.45" fill="#000"/>
<path d="M344.50 451.25V446.75H359.25V451.25" fill="none" stroke="#000" stroke-width="1.0"/>
<text transform="translate(351.80 444.80)" font-size="8.9" text-anchor="middle" fill="#231f20" stroke="#231f20" stroke-width="0.22" letter-spacing="0.45">*</text>
<text transform="translate(348.80 526.30) rotate(-46) scale(0.9 1)" font-size="9.2" text-anchor="end" fill="#231f20" stroke="#231f20" stroke-width="0.22">shCTRL</text>
<text transform="translate(364.80 526.30) rotate(-46) scale(0.9 1)" font-size="9.2" text-anchor="end" fill="#231f20" stroke="#231f20" stroke-width="0.22">shDHPS</text>
<text transform="translate(14.00 567.50) scale(0.95 1)" font-size="13" text-anchor="start" fill="#000" font-weight="bold" stroke="#000" stroke-width="0.3" stroke-linejoin="round">I</text>
<text transform="translate(60.00 568.40) scale(0.99 1)" font-size="9.2" text-anchor="start" fill="#231f20" stroke="#231f20" stroke-width="0.22">Hemoglobin subunits</text>
<text transform="translate(60.00 578.80) scale(0.99 1)" font-size="9.2" text-anchor="start" fill="#231f20" stroke="#231f20" stroke-width="0.22">Mitochondrial ribosomal proteins</text>
<text transform="translate(60.00 589.20) scale(0.99 1)" font-size="9.2" text-anchor="start" fill="#231f20" stroke="#231f20" stroke-width="0.22">Erythrocytic spectrin chains</text>
<path d="M130.1 656.9h0M116.6 654.2h0M124.2 653.3h0M124.8 649.9h0M127.8 646.7h0M121.8 667.1h0M119.8 662.5h0M114.9 649.3h0M125.2 655.9h0M129.1 646.5h0M118.3 659.7h0M124.6 657.9h0M125.2 647.2h0M125.2 656.5h0M125.6 665.4h0M126.6 659.4h0M119.7 664.3h0M124.0 662.8h0M122.8 662.5h0M118.3 657.5h0M126.1 646.9h0M125.8 658.1h0M122.6 664.7h0M118.9 659.4h0M122.8 665.0h0M125.1 656.8h0M124.6 654.4h0M116.9 649.7h0M125.4 651.2h0M118.2 653.8h0M122.4 666.4h0M125.6 649.6h0M122.5 662.9h0M125.8 649.1h0M117.5 647.9h0M119.1 665.8h0M116.9 654.5h0M126.7 652.8h0M119.9 663.7h0M114.4 647.1h0M124.5 656.3h0M129.4 655.0h0M128.4 651.3h0M129.4 652.3h0M128.5 657.6h0M125.6 658.3h0M134.7 665.2h0M125.6 658.2h0M123.5 657.1h0M117.8 653.9h0M115.4 652.0h0M117.6 667.3h0M113.2 662.3h0M114.3 648.4h0M115.0 662.3h0M124.3 658.3h0M114.9 663.8h0M116.6 647.3h0M118.2 656.9h0M113.6 656.0h0M116.7 646.7h0M123.9 666.3h0M123.1 659.9h0M122.5 666.8h0M117.2 663.7h0M132.1 652.8h0M116.5 652.3h0M123.9 656.5h0M116.0 660.7h0M113.6 650.9h0M109.9 648.1h0M129.5 656.8h0M128.5 658.4h0M124.6 656.6h0M126.8 651.6h0M134.5 648.2h0M125.0 655.2h0M117.6 659.0h0M125.8 654.9h0M122.4 665.7h0M123.5 659.3h0M127.4 651.5h0M108.9 647.4h0M115.1 655.4h0M128.8 653.2h0M128.9 658.3h0M131.4 662.1h0M124.2 662.3h0M108.4 653.8h0M126.2 650.1h0M115.6 652.1h0M115.4 647.8h0M115.3 664.1h0M116.7 659.7h0M113.1 647.8h0M123.5 661.7h0M123.3 658.9h0M118.2 655.7h0M117.3 655.3h0M117.3 663.3h0M129.1 653.2h0M127.0 661.6h0M116.4 648.2h0M125.6 646.4h0M123.7 661.4h0M123.9 657.5h0M123.3 657.9h0M125.6 648.0h0M125.3 655.8h0M120.4 665.5h0M116.3 654.9h0M134.1 662.2h0M117.1 647.7h0M116.2 650.7h0M115.9 655.6h0M116.1 649.3h0M117.4 651.2h0M125.9 667.1h0M127.0 651.9h0M127.8 655.8h0M126.1 661.0h0M128.9 657.8h0M128.1 652.1h0M118.6 665.5h0M117.9 667.3h0M126.1 647.4h0M126.8 652.7h0M128.3 653.1h0M114.7 646.8h0M118.5 657.9h0M118.3 658.5h0M125.8 655.7h0M129.6 646.5h0M110.4 650.8h0M119.4 663.3h0M123.2 665.8h0M124.8 655.4h0M114.8 654.7h0M118.8 660.2h0M111.6 650.9h0M105.3 651.1h0M115.8 648.1h0M114.9 646.9h0M127.8 656.5h0M115.7 653.8h0M122.1 666.0h0M124.8 657.1h0M125.5 657.5h0M128.4 646.4h0M127.4 648.4h0M115.9 658.8h0M124.6 653.3h0M128.8 661.2h0M119.1 665.8h0M116.2 653.5h0M126.6 652.4h0M118.5 658.5h0M117.1 649.4h0M128.3 649.9h0M124.0 661.0h0M125.4 652.9h0M116.2 647.8h0M122.5 664.8h0M124.5 656.2h0M117.3 650.5h0M125.8 660.0h0M118.5 660.4h0M124.4 664.3h0M131.4 647.9h0M118.1 660.0h0M125.8 647.6h0M117.9 658.7h0M126.8 662.4h0M114.6 654.6h0M117.3 648.6h0M126.4 654.6h0M115.7 650.0h0M127.7 665.2h0M122.3 665.1h0M115.4 661.3h0M125.2 655.5h0M115.6 652.5h0M130.8 651.6h0M128.4 652.6h0M132.7 649.4h0M125.8 651.8h0M115.2 657.5h0M118.6 663.1h0M123.0 660.2h0M124.6 653.0h0M118.1 665.7h0M119.7 664.5h0M124.8 661.5h0M115.6 660.5h0M127.3 659.8h0M125.9 648.5h0M125.3 655.0h0M126.3 647.3h0M117.6 655.3h0M118.1 661.5h0M126.3 658.5h0M119.3 663.3h0M114.7 648.8h0M114.7 655.2h0M126.2 667.7h0M123.0 660.7h0M109.7 656.3h0M124.4 660.0h0M112.5 647.9h0M113.5 655.4h0M119.3 659.8h0M114.7 651.7h0M118.2 664.6h0M117.0 652.9h0M115.9 651.8h0M125.7 646.5h0M117.0 653.6h0M116.4 659.3h0M115.8 661.0h0M125.3 654.6h0M117.1 649.6h0M116.6 651.8h0M124.9 649.4h0M120.0 664.1h0M115.3 647.8h0M116.4 649.7h0M117.6 657.7h0M127.5 650.3h0M119.6 667.0h0M114.9 658.4h0M125.1 649.6h0M116.3 654.9h0M133.4 663.7h0M109.6 649.4h0M118.3 653.4h0M110.4 652.0h0M119.0 658.8h0M126.9 648.1h0M111.5 654.7h0M113.7 653.9h0M123.9 660.3h0M122.8 662.6h0M108.1 666.6h0M126.3 659.9h0M127.3 658.3h0M117.7 656.5h0M116.6 654.5h0M123.3 659.4h0M109.1 652.5h0M126.3 657.7h0M126.5 650.9h0M116.2 649.1h0M125.9 654.6h0M117.5 648.1h0M127.9 651.5h0M123.2 660.0h0M118.4 664.1h0M124.9 652.1h0M118.4 659.9h0M130.3 647.0h0M123.9 657.5h0M112.8 648.2h0M129.8 664.1h0M119.5 660.1h0M126.3 648.3h0M114.0 666.2h0M111.6 659.9h0M112.7 662.2h0M112.3 648.3h0M135.9 663.0h0M123.0 662.3h0M123.0 664.6h0M128.2 648.2h0M117.0 647.5h0M116.4 661.8h0M126.6 661.5h0M128.6 658.5h0M125.6 660.1h0M123.2 660.6h0M123.7 655.3h0M117.8 653.9h0M123.5 660.4h0M123.9 660.5h0M116.4 666.6h0M125.0 658.3h0M115.1 653.0h0M115.8 650.4h0M124.4 655.5h0M115.4 650.5h0M128.6 650.6h0M119.0 661.5h0M125.0 666.5h0M124.3 654.5h0M117.3 656.0h0M123.1 660.9h0M124.5 655.0h0M120.0 663.6h0M116.0 655.4h0M122.4 665.0h0M128.2 652.2h0M119.3 665.8h0M116.0 666.3h0M115.7 646.6h0M123.0 661.4h0M117.7 658.1h0M128.5 646.5h0M117.7 661.6h0M116.1 647.6h0M125.5 646.7h0M117.1 665.8h0M130.4 648.9h0M113.5 649.3h0M119.3 662.0h0M118.2 662.2h0M105.2 659.9h0M119.4 662.2h0M117.3 652.1h0M112.5 660.9h0M116.6 651.7h0M126.7 658.8h0M116.5 648.1h0M113.5 648.5h0M117.5 655.5h0M122.4 663.5h0M117.2 659.8h0M125.7 660.9h0M119.3 663.6h0M124.0 658.2h0M119.0 660.2h0M128.1 653.3h0M114.1 646.8h0M132.0 652.2h0M114.7 648.8h0M117.8 658.1h0M118.5 659.5h0M115.7 656.4h0M118.6 661.4h0M125.9 654.3h0M116.8 652.0h0M117.3 657.9h0M117.6 654.2h0M125.1 659.1h0M123.5 660.9h0M115.0 647.2h0M127.6 647.4h0M114.1 657.6h0M110.7 648.6h0M117.7 655.8h0M116.8 646.8h0M117.3 661.5h0M117.2 658.1h0M128.6 653.4h0M116.1 647.0h0M127.3 651.7h0M125.7 647.0h0M117.6 654.6h0M125.0 651.0h0M119.6 662.8h0M120.3 665.7h0M125.1 656.9h0M127.5 663.2h0M124.8 655.7h0M114.6 651.7h0M129.0 650.8h0M114.9 654.6h0M116.3 650.1h0M117.5 652.6h0M125.3 647.5h0M115.0 652.2h0M113.5 646.6h0M119.4 664.3h0M119.5 664.2h0M117.3 655.0h0M116.0 649.4h0M134.1 653.6h0M124.3 655.0h0M112.5 662.9h0M120.1 664.2h0M115.9 654.6h0M118.0 656.3h0M114.3 666.0h0M103.4 662.7h0M124.5 662.3h0M116.8 658.0h0M125.3 652.8h0M112.1 646.5h0M118.1 651.5h0M116.5 665.4h0M119.5 659.9h0M126.3 667.3h0M125.9 650.2h0M125.1 650.7h0M114.0 647.3h0M122.8 666.9h0M116.2 658.2h0M117.4 653.2h0M117.1 648.1h0M124.8 662.1h0M117.9 652.4h0M117.1 657.3h0M117.0 657.9h0M113.7 648.6h0M123.6 664.5h0M123.7 657.8h0M130.1 660.7h0M123.6 658.8h0M115.5 653.2h0M127.6 648.4h0M124.0 655.8h0M125.0 656.8h0M116.5 658.3h0M123.3 666.6h0M130.7 654.0h0M126.3 646.5h0M125.7 651.3h0M116.5 646.6h0M131.8 649.3h0M124.1 655.7h0M125.6 648.8h0M124.4 655.2h0M123.3 660.5h0M114.3 656.1h0M127.1 649.1h0M119.7 663.4h0M115.0 666.5h0M114.7 662.7h0M124.3 653.6h0M127.2 653.3h0M124.0 662.4h0M123.7 659.7h0M124.6 653.9h0M118.5 656.6h0M126.3 647.5h0M126.1 652.1h0M119.0 659.9h0M116.0 649.7h0M124.6 655.8h0M112.7 654.3h0M126.1 660.4h0M125.6 658.2h0M117.6 656.9h0M113.8 647.2h0M116.5 652.5h0M118.3 661.1h0M126.9 649.7h0M116.4 648.3h0M126.1 658.5h0M114.2 647.3h0M117.2 656.5h0M133.6 653.8h0M112.1 646.5h0M115.3 646.4h0M124.0 657.9h0M118.0 658.6h0M117.4 651.2h0M113.1 651.2h0M124.6 651.4h0M130.3 649.0h0M118.6 666.8h0M116.0 650.3h0M122.7 664.1h0M123.6 660.2h0M118.3 657.7h0M123.7 656.7h0M107.5 649.1h0M132.2 653.7h0M118.6 657.7h0M115.7 651.7h0M119.5 666.7h0M116.2 649.2h0M120.1 665.3h0M129.0 656.1h0M126.9 647.4h0M123.7 660.1h0M117.4 658.6h0M113.8 656.9h0M123.9 665.7h0M119.3 664.8h0M115.1 656.2h0M123.2 657.8h0M125.2 654.0h0M125.2 660.0h0M117.6 659.7h0M119.6 664.9h0M112.2 650.2h0M106.5 652.4h0M116.6 649.5h0M114.0 653.1h0M124.1 666.1h0M125.3 666.9h0M114.6 654.3h0M125.5 646.7h0M113.9 650.4h0M117.9 657.2h0M117.7 651.3h0M118.1 654.9h0M125.0 659.9h0M127.8 657.6h0M124.0 664.1h0M129.7 658.4h0M124.7 656.0h0M115.5 651.2h0M119.4 662.3h0M116.2 655.5h0M114.6 649.3h0M123.6 659.5h0M124.8 660.9h0M114.2 649.6h0M125.9 657.3h0M118.3 656.8h0M117.1 651.0h0M126.2 652.0h0M111.0 659.4h0M123.1 664.8h0M125.1 662.3h0M130.5 654.3h0M109.7 652.2h0M125.7 649.0h0M117.7 661.2h0M117.8 661.1h0M118.3 660.7h0M127.1 663.2h0M127.6 653.7h0M125.7 647.9h0M122.9 666.0h0M115.2 656.9h0M115.0 647.4h0M109.3 647.3h0M111.6 652.8h0M123.2 664.2h0M114.6 648.7h0M126.7 654.5h0M126.8 649.0h0M123.6 662.7h0M115.3 655.9h0M118.1 665.3h0M125.5 646.9h0M133.7 651.9h0M129.9 647.3h0M126.4 656.1h0M130.9 653.7h0M117.0 647.1h0M125.3 648.8h0M115.8 652.2h0M124.8 650.9h0M126.6 646.8h0M119.5 659.3h0M125.0 654.2h0M117.5 652.5h0M118.3 663.5h0M117.2 650.4h0M112.8 655.4h0M118.9 662.7h0M126.4 652.5h0M122.6 665.3h0M115.9 646.6h0M126.4 648.0h0M113.2 650.4h0M116.8 658.4h0M115.7 649.7h0M112.3 658.4h0M131.6 648.6h0M123.5 659.2h0M116.3 662.5h0M132.4 648.5h0M112.4 664.2h0M119.2 665.5h0M118.0 662.7h0M127.9 655.1h0M120.3 665.2h0M129.4 659.9h0M123.8 659.4h0M126.4 650.2h0M110.6 656.6h0M113.3 646.8h0M116.4 663.2h0M119.3 662.0h0M117.6 652.9h0M120.8 667.1h0M116.3 658.6h0M113.3 659.7h0M117.6 655.1h0M109.5 648.0h0M107.9 663.2h0M116.1 660.3h0M123.4 663.3h0M123.3 664.8h0M116.1 647.8h0M119.8 667.7h0M117.0 656.7h0M132.2 656.3h0M122.9 665.1h0M125.6 649.5h0M130.7 657.4h0M117.9 656.1h0M118.6 659.2h0M134.6 649.4h0M128.8 650.1h0M113.1 650.1h0M115.4 647.9h0M125.8 659.1h0M115.0 653.0h0M127.2 664.5h0M134.8 652.1h0M114.4 653.5h0M129.8 650.7h0M126.5 654.5h0M119.0 658.9h0M114.9 650.2h0M117.6 655.6h0M125.5 662.6h0M125.9 647.7h0M133.2 647.3h0M124.6 660.5h0M124.0 666.5h0M117.4 661.2h0M119.5 661.4h0M126.2 655.4h0M117.9 657.6h0M117.0 664.2h0M127.5 650.8h0M137.6 661.1h0M114.6 655.3h0M115.1 654.9h0M113.8 651.5h0M118.5 656.8h0M129.0 656.4h0M124.1 660.7h0M118.0 664.0h0M126.7 652.9h0M122.4 666.2h0M119.4 667.1h0M110.2 656.5h0M106.7 654.2h0M119.5 664.2h0M112.9 657.7h0M125.9 661.0h0M118.1 657.2h0M117.5 653.4h0M125.2 656.4h0M132.5 658.4h0M125.2 652.5h0M127.1 651.5h0M114.0 652.9h0M124.7 655.1h0M124.0 657.6h0M117.0 653.6h0M115.1 648.0h0M126.2 649.7h0M126.8 650.8h0M125.4 661.1h0M123.3 663.8h0M125.4 651.5h0M116.1 656.0h0M125.8 648.3h0M124.0 663.6h0M125.9 655.3h0M117.0 650.9h0M128.7 652.1h0M123.2 658.8h0M123.7 658.5h0M116.5 647.6h0M115.9 664.3h0M123.7 656.1h0M125.3 649.7h0M123.9 659.3h0M117.3 656.4h0M124.8 653.7h0M123.1 661.8h0M114.1 657.1h0M125.6 647.9h0M127.9 661.9h0M119.2 661.7h0M113.0 652.1h0M124.1 655.0h0M130.1 646.7h0M120.6 665.7h0M125.8 660.7h0M118.4 659.6h0M118.4 658.8h0M118.6 660.9h0M123.7 664.4h0M112.7 655.7h0M126.1 652.8h0M117.0 657.7h0M129.2 655.2h0M118.5 661.8h0M117.9 653.5h0M127.8 648.8h0M116.4 656.8h0M131.0 648.6h0M124.6 661.2h0M112.5 655.6h0M122.0 665.4h0M117.1 663.5h0M113.2 647.5h0M124.9 654.1h0M116.6 652.5h0M116.4 655.0h0M123.1 661.9h0M123.2 665.4h0M122.8 664.7h0M128.2 649.8h0M117.3 650.1h0M118.8 666.7h0M123.2 661.0h0M131.1 653.2h0M123.9 658.3h0M116.1 651.7h0M125.5 660.5h0M119.8 665.6h0M127.4 652.0h0M114.9 653.4h0M116.9 656.1h0M109.0 666.1h0M128.5 663.5h0M118.2 662.8h0M115.9 661.4h0M122.1 665.3h0M128.3 649.3h0M124.6 650.8h0M120.0 663.2h0M117.0 648.6h0M124.1 653.9h0M119.7 664.4h0M117.9 653.1h0M118.1 655.2h0M119.1 658.2h0M116.9 653.6h0M116.4 654.2h0M116.1 647.5h0M124.6 651.8h0M115.7 660.4h0M115.8 647.8h0M125.4 649.1h0M115.1 648.8h0M127.9 647.1h0M133.3 649.3h0M117.6 663.6h0M123.0 665.7h0M123.9 659.6h0M115.9 646.6h0M112.8 652.1h0M119.2 659.2h0M119.7 667.6h0M122.5 665.7h0M128.5 656.3h0M118.5 659.7h0M114.6 651.2h0M114.3 647.0h0M118.6 663.2h0M132.7 654.5h0M120.1 665.8h0M129.1 652.3h0M116.3 658.5h0M120.6 666.7h0M116.1 655.3h0M125.5 664.2h0M127.2 648.5h0M112.9 646.8h0M118.3 653.3h0M116.6 653.9h0M117.7 665.8h0M115.5 650.2h0M125.0 655.8h0M117.9 658.0h0M115.6 646.4h0M118.5 663.5h0M125.4 653.9h0M117.4 648.4h0M116.9 648.5h0M114.5 651.0h0M116.8 662.0h0M115.1 659.3h0M116.9 664.5h0M117.8 650.3h0M117.5 653.8h0M111.1 653.1h0M126.0 647.3h0M115.4 650.2h0M129.8 663.7h0M118.1 654.9h0M125.7 651.1h0M117.7 651.4h0M115.2 664.8h0M118.9 658.7h0M125.5 646.9h0M126.6 653.7h0M126.2 648.7h0M116.1 657.7h0M114.1 658.9h0M114.5 649.3h0M119.4 661.1h0M118.8 660.0h0M127.9 663.7h0M112.0 650.9h0M118.8 658.9h0M123.1 660.5h0M125.0 653.2h0M124.3 665.3h0M118.3 667.1h0M109.0 657.5h0M128.2 658.8h0M115.6 649.9h0M118.6 664.8h0M132.3 654.3h0M126.0 650.9h0M124.0 663.3h0M126.9 655.6h0M117.3 649.6h0M111.6 666.2h0M124.5 656.6h0M112.7 650.5h0M112.7 654.9h0M116.2 665.5h0M124.0 657.7h0M115.8 656.7h0M124.7 662.4h0M126.1 667.6h0M125.2 649.6h0M131.3 650.9h0M113.6 663.1h0M117.1 648.0h0M127.9 653.0h0M117.2 657.2h0M125.3 652.3h0M118.4 654.6h0M119.1 666.6h0M125.1 647.4h0M116.9 659.8h0M117.3 649.3h0M114.4 650.7h0M117.2 650.3h0M116.1 651.3h0M115.0 658.9h0M133.3 647.9h0M103.8 647.5h0M118.3 664.2h0M125.6 649.3h0M117.7 655.7h0M111.2 660.2h0M116.6 665.5h0M119.1 659.2h0M116.4 655.0h0M116.4 660.3h0M119.0 658.4h0M119.1 660.1h0M122.8 667.0h0M123.7 657.0h0M117.3 654.8h0M113.4 651.0h0M126.3 651.5h0M125.7 655.2h0M124.6 666.0h0M124.2 653.9h0M115.1 647.3h0M123.9 663.6h0M116.8 648.5h0M128.1 651.3h0M124.5 651.8h0M125.3 647.6h0M128.8 664.6h0M119.4 664.1h0M117.7 659.3h0M130.8 657.2h0M116.9 649.5h0M126.2 656.7h0M118.7 659.8h0M127.2 662.1h0M128.3 661.3h0M109.7 660.9h0M127.1 656.5h0M116.7 655.7h0M108.3 653.1h0M110.3 662.0h0M129.1 649.3h0M114.8 654.6h0M116.6 666.3h0M135.5 656.1h0M125.3 652.6h0M111.9 653.1h0M116.9 656.7h0M124.7 652.3h0M119.2 661.3h0M129.3 657.6h0M128.1 648.8h0M117.1 653.6h0M128.0 666.0h0M128.7 652.6h0M117.2 646.6h0M129.0 653.6h0M124.1 667.5h0M130.0 646.7h0M125.4 656.7h0M119.5 667.3h0M123.0 660.6h0M119.1 660.0h0M107.0 650.0h0M123.2 662.4h0M115.8 648.3h0M116.5 655.4h0M126.5 660.4h0M129.2 652.0h0M126.8 664.0h0M125.9 646.6h0M108.6 653.8h0M107.6 655.7h0M117.7 652.6h0M124.1 660.0h0M132.0 646.6h0M122.9 661.1h0M122.4 664.8h0M124.3 651.6h0M126.6 648.5h0M115.4 657.0h0M125.3 647.8h0M125.3 651.6h0M124.4 657.7h0M123.8 660.4h0M110.5 662.5h0M126.7 651.0h0M124.2 666.1h0M116.7 647.2h0M119.2 666.7h0M124.1 658.6h0M117.5 664.7h0M114.3 648.7h0M125.7 649.5h0M128.7 663.3h0M113.7 666.0h0M120.4 665.6h0M119.8 665.2h0M126.2 657.3h0M115.8 665.9h0M123.7 660.9h0M123.7 667.6h0M127.2 651.7h0M116.6 656.3h0M123.4 665.0h0M130.3 647.6h0M123.7 658.2h0M119.1 662.1h0M124.4 665.2h0M118.1 653.1h0M127.9 654.0h0M117.6 660.0h0M124.6 666.7h0M129.6 648.0h0M116.3 650.0h0M124.4 656.4h0M131.9 657.3h0M114.3 647.8h0M129.6 665.7h0M117.0 654.5h0M115.7 665.3h0M118.5 656.8h0M126.0 650.3h0M120.2 665.7h0M113.8 657.4h0M117.5 654.8h0M127.3 649.3h0M114.7 662.3h0M126.0 647.4h0M123.9 657.8h0M119.8 662.2h0M117.3 663.4h0M128.6 661.3h0M114.4 653.8h0M125.6 661.0h0M125.9 647.2h0M117.8 653.0h0M115.6 661.4h0M123.4 663.7h0M134.9 649.5h0M126.5 653.8h0M123.9 658.4h0M127.2 653.1h0M114.1 658.6h0M115.8 655.0h0M124.5 654.7h0M114.0 664.1h0M116.9 654.4h0M122.6 662.8h0M119.6 662.2h0M115.7 655.4h0M124.5 656.3h0M124.0 656.6h0M127.4 646.8h0M116.4 650.7h0M109.3 651.6h0M101.8 646.7h0M117.8 665.1h0M128.5 651.6h0M126.0 653.8h0M124.5 652.6h0M125.3 657.4h0M118.7 663.1h0M123.3 662.8h0M123.8 655.6h0M126.6 646.8h0M117.8 653.2h0M115.3 648.8h0M127.5 656.5h0M125.9 647.2h0M124.0 654.9h0M118.8 660.3h0M116.5 657.2h0M127.8 656.4h0M124.6 661.5h0M114.8 651.7h0M123.6 661.0h0M125.2 657.9h0M131.1 654.9h0M117.1 646.6h0M117.7 649.7h0M117.1 649.3h0M119.2 667.2h0M126.3 653.0h0M125.8 648.0h0M123.9 664.5h0M115.4 662.3h0M119.6 665.0h0M124.3 655.8h0M125.7 651.0h0M115.3 646.5h0M118.3 653.0h0M122.5 665.1h0M115.5 657.0h0M127.0 646.5h0M125.4 649.4h0M117.5 650.5h0M110.6 654.7h0M130.9 657.3h0M118.5 656.1h0M127.1 652.8h0M115.0 658.9h0M118.7 667.4h0M118.7 661.1h0M115.0 654.0h0M116.7 654.9h0M111.0 661.1h0M122.6 663.3h0M119.4 661.8h0M115.3 658.6h0M114.1 652.7h0M125.2 650.5h0M126.0 655.7h0M118.5 665.6h0M115.4 654.0h0M125.2 657.7h0M129.2 648.6h0M118.1 654.9h0M115.4 652.7h0M118.1 657.3h0M125.2 652.0h0M127.0 657.3h0M127.9 650.7h0M124.3 657.0h0M115.3 649.5h0M119.1 667.3h0M110.4 647.3h0M113.7 660.5h0M112.5 665.6h0M115.4 649.4h0M118.5 664.9h0M117.4 652.6h0M124.1 665.8h0M127.3 647.5h0M116.4 648.7h0M125.2 647.2h0M116.8 647.4h0M125.8 649.1h0M117.7 656.5h0M119.7 661.1h0M125.2 655.4h0M111.7 652.8h0M124.0 659.0h0M122.9 662.8h0M118.1 658.3h0M114.7 657.9h0M124.9 658.9h0M130.4 651.9h0M114.8 647.7h0M123.0 659.5h0M116.1 650.9h0M115.4 653.3h0M124.1 661.5h0M110.7 660.7h0M117.0 659.0h0M116.4 665.3h0M126.4 656.0h0M119.6 662.8h0M119.2 660.4h0M116.5 663.3h0M118.6 665.3h0M125.1 655.8h0M122.9 666.7h0M123.8 657.3h0M129.2 665.4h0M125.9 651.3h0M123.8 663.0h0M115.6 660.2h0M114.5 656.3h0M119.2 658.1h0M127.5 666.5h0M124.1 655.1h0M124.7 657.2h0M116.4 652.8h0M123.4 657.4h0M105.0 663.1h0M127.8 653.7h0M123.3 658.0h0M116.7 656.5h0M124.3 655.8h0M126.7 652.8h0M118.7 657.7h0M117.5 650.2h0M109.5 652.9h0M118.3 662.7h0M119.9 662.6h0M125.0 653.0h0M126.0 656.8h0M126.8 656.6h0M126.7 651.4h0M122.6 664.3h0M116.9 653.2h0M117.7 651.3h0M118.0 653.3h0M127.8 649.4h0M119.4 667.3h0M116.9 647.2h0M113.9 660.8h0M127.5 646.9h0M127.8 652.9h0M125.4 655.8h0M131.6 650.3h0M128.0 660.7h0M131.9 653.9h0M127.5 654.7h0M118.0 657.2h0M125.1 658.7h0M129.1 650.3h0M116.9 650.3h0M117.8 649.6h0M118.8 656.9h0M116.3 655.1h0M118.0 655.4h0M126.1 658.6h0M123.4 660.6h0M128.0 654.0h0M134.3 655.3h0M123.2 660.8h0M116.7 662.8h0M126.0 650.0h0M119.1 659.6h0M122.9 667.4h0M108.0 650.6h0M111.2 653.0h0M123.2 659.2h0M130.7 650.3h0M114.1 655.3h0M124.5 653.2h0M118.6 663.7h0M122.7 666.1h0M122.9 664.6h0M118.7 658.0h0M115.7 652.1h0M111.5 657.5h0M116.5 653.5h0M118.6 665.5h0M116.2 655.1h0M123.6 666.0h0M116.9 662.9h0M119.5 661.8h0M124.0 656.8h0M117.5 653.1h0M118.4 653.8h0M125.6 650.0h0M125.4 659.9h0M119.5 661.5h0M122.5 665.9h0M125.1 663.6h0M119.7 667.5h0M118.1 661.3h0M111.5 656.3h0M113.8 650.0h0M114.1 650.5h0M115.5 657.6h0M114.7 661.1h0M128.0 651.5h0M126.6 652.2h0M124.8 655.2h0M119.0 662.5h0M117.9 667.6h0M125.0 658.0h0M114.4 646.9h0M126.5 653.6h0M112.9 648.7h0M139.7 652.6h0M129.0 661.6h0M113.7 661.7h0M125.4 648.3h0M114.7 647.0h0M126.9 659.9h0M114.6 646.8h0M117.3 651.5h0M117.7 662.9h0M126.3 665.1h0M109.0 664.1h0M111.8 649.9h0M126.1 650.6h0M117.7 665.8h0M116.5 647.3h0M124.0 654.6h0M125.7 662.3h0M118.4 659.8h0M116.9 663.0h0M114.8 647.9h0M125.7 658.7h0M115.5 647.2h0M122.6 665.1h0M122.1 667.4h0M122.9 660.8h0M122.8 664.3h0M117.6 655.3h0M125.1 652.9h0M115.6 659.0h0M114.8 662.5h0M125.1 657.2h0M123.5 657.8h0M118.1 656.8h0M117.8 654.4h0M114.5 660.9h0M118.8 663.9h0M128.1 655.7h0M119.2 666.7h0M120.5 667.5h0M114.1 659.7h0M119.7 664.4h0M126.2 651.7h0M127.6 646.8h0M113.1 655.0h0M126.2 646.4h0M111.7 666.4h0M127.8 650.2h0M124.8 660.1h0M129.9 656.1h0M116.4 649.1h0M117.5 659.6h0M117.7 649.7h0M123.7 660.9h0M117.2 654.3h0M125.2 654.8h0M111.1 651.0h0M113.9 655.0h0M126.0 648.5h0M126.7 650.3h0M132.0 649.8h0M124.9 665.6h0M128.0 648.3h0M114.5 659.4h0M109.4 651.8h0M124.7 653.3h0M135.5 655.9h0M134.2 648.0h0M118.2 665.0h0M123.2 664.6h0M110.3 655.2h0M117.7 653.2h0M116.5 653.7h0M123.4 657.7h0M117.6 659.7h0M123.4 660.2h0M124.2 659.1h0M117.1 653.5h0M116.8 656.6h0M117.0 648.9h0M117.6 664.7h0M127.4 648.6h0M109.1 660.8h0M127.5 647.4h0M116.7 659.4h0M130.2 652.8h0M113.5 664.7h0M124.2 656.6h0M125.4 660.2h0M116.9 652.8h0M125.0 660.5h0M115.4 652.0h0M116.2 660.3h0M118.1 665.1h0M124.7 652.6h0M116.7 655.7h0M118.6 664.2h0M118.9 661.9h0M116.7 648.0h0M116.9 648.6h0M126.4 647.7h0M130.5 651.3h0M125.9 650.3h0M126.2 654.4h0M126.4 648.8h0M125.7 647.6h0M123.4 667.4h0M116.7 649.2h0M126.8 652.8h0M116.3 648.0h0M129.7 651.2h0M128.3 655.3h0M125.2 649.1h0M126.1 666.7h0M117.2 650.9h0M124.6 652.8h0M125.0 649.5h0M130.6 652.0h0M123.6 661.6h0M111.0 648.0h0M114.9 647.3h0M113.6 657.7h0M120.1 666.5h0M117.7 649.8h0M125.5 649.2h0M114.0 651.2h0M117.3 656.5h0M125.5 654.8h0M117.9 652.3h0M124.4 660.7h0M114.0 652.0h0M125.5 655.9h0M115.9 653.3h0M127.0 657.4h0M124.5 661.0h0M127.3 656.9h0M119.9 664.1h0M117.2 657.9h0M116.9 663.1h0M116.7 655.6h0M116.5 654.1h0M124.2 661.2h0M126.8 651.2h0M122.8 664.4h0M124.9 660.8h0M115.5 646.9h0M131.3 653.0h0M115.1 657.1h0M117.3 647.8h0M128.6 655.1h0M118.1 655.7h0M125.8 657.1h0M125.1 655.0h0M125.7 648.1h0M124.6 658.8h0M115.0 652.1h0M115.2 656.3h0M116.3 652.6h0M119.0 663.1h0M127.9 660.5h0M116.2 650.8h0M114.0 652.9h0M122.7 665.7h0M123.3 664.0h0M125.7 655.2h0M127.2 653.6h0M124.2 656.5h0M117.3 665.2h0M117.3 660.3h0M116.5 646.9h0M112.3 659.1h0M124.1 657.1h0M116.1 652.0h0M124.4 659.5h0M123.7 661.5h0M119.3 666.4h0M117.8 660.0h0M117.3 662.7h0M110.8 656.9h0M118.7 664.3h0M115.4 648.9h0M116.8 653.7h0M131.5 651.4h0M116.9 664.4h0M124.1 656.0h0M128.2 658.2h0M114.6 650.8h0M112.1 655.6h0M123.1 661.5h0M116.7 655.9h0M126.2 657.2h0M118.9 660.6h0M133.8 655.8h0M117.4 660.9h0M123.9 666.4h0M124.1 658.3h0M125.9 661.4h0M123.5 658.9h0M124.9 655.2h0M127.9 648.2h0M123.8 654.6h0M118.7 659.4h0M127.8 663.9h0M117.8 665.6h0M116.4 655.8h0M128.8 648.0h0M117.0 650.7h0M125.6 660.1h0M124.2 657.4h0M112.6 648.1h0M125.6 655.0h0M127.1 647.4h0M118.7 660.7h0M120.5 665.3h0M116.6 648.1h0M115.0 654.9h0M114.1 666.3h0M115.2 652.2h0M125.5 660.6h0M114.9 649.2h0M130.1 656.3h0M109.1 657.8h0M126.4 650.5h0M116.7 652.8h0M133.5 649.6h0M116.9 650.9h0M125.2 648.6h0M125.4 662.1h0M124.3 662.6h0M120.5 667.2h0M110.0 651.6h0M126.4 660.9h0M123.0 661.3h0M124.6 658.4h0M124.4 659.0h0M125.4 649.5h0M123.2 664.2h0M109.6 653.7h0M123.7 664.0h0M118.4 656.4h0M125.9 651.1h0M115.4 654.9h0M119.3 660.3h0M120.5 666.4h0M105.6 648.5h0M123.1 664.9h0M118.7 658.9h0M136.7 652.4h0M118.2 659.2h0M124.4 657.7h0M125.5 656.9h0M126.3 659.0h0M125.8 664.9h0M114.0 651.8h0M113.8 648.9h0M114.0 652.1h0M124.0 655.4h0M123.6 656.7h0M125.3 658.7h0M117.5 660.3h0M127.7 651.6h0M117.2 648.0h0M111.7 655.4h0M118.0 653.4h0M123.6 656.6h0M123.9 658.8h0M126.4 647.5h0M113.0 659.4h0M125.4 649.0h0M113.7 647.4h0M112.2 652.8h0M124.0 662.8h0M126.6 659.9h0M116.7 647.6h0M122.6 662.2h0M117.7 655.2h0M126.6 647.5h0M116.5 646.6h0M114.2 651.5h0M126.4 659.4h0M108.7 647.9h0M124.6 657.0h0M128.4 654.9h0M124.3 662.7h0M128.1 648.0h0M117.6 654.5h0M117.8 658.5h0M111.9 665.6h0M117.2 656.9h0M129.5 662.8h0M126.9 649.8h0M117.7 652.2h0M113.3 652.5h0M120.1 666.2h0M129.5 653.6h0M118.7 655.8h0M119.7 662.9h0M115.9 649.1h0M116.9 655.9h0M126.0 647.7h0M126.8 655.9h0M133.1 648.4h0M117.0 650.1h0M117.8 649.3h0M123.3 660.7h0M113.2 649.6h0M124.9 652.3h0M117.6 652.5h0M116.7 657.7h0M108.9 662.9h0M120.4 666.6h0M117.8 653.5h0M117.1 652.9h0M124.9 660.6h0M115.3 653.4h0M119.8 662.9h0M117.8 667.0h0M122.8 661.9h0M124.4 662.6h0M122.4 664.0h0M117.9 653.2h0M125.8 649.5h0M122.3 664.6h0M118.9 659.5h0M114.2 647.0h0M125.5 659.0h0M118.2 654.7h0M126.4 650.1h0M116.9 651.2h0M102.3 653.3h0M114.0 651.6h0M115.3 648.9h0M118.5 666.2h0M124.9 653.2h0M118.1 663.2h0M117.5 652.3h0M124.4 662.9h0M127.8 647.1h0M119.4 660.7h0M125.1 652.1h0M125.2 654.8h0M127.0 647.4h0M116.4 666.8h0M119.1 664.4h0M123.4 657.6h0M117.3 654.6h0M117.3 657.2h0M118.5 660.1h0M115.3 661.6h0M114.0 660.1h0M125.5 665.5h0M115.6 667.1h0M116.8 646.7h0M127.3 652.1h0M130.4 662.0h0M125.4 664.3h0M115.1 659.8h0M123.9 655.0h0M127.3 649.6h0M128.5 653.0h0M122.0 667.2h0M134.0 666.3h0M119.6 667.0h0M112.8 659.0h0M122.8 662.4h0M118.0 656.7h0M127.2 650.0h0M115.8 665.4h0M129.2 652.6h0M120.1 663.8h0M115.2 652.0h0M117.1 660.7h0M117.4 650.4h0M112.9 652.0h0M133.8 651.8h0M112.9 656.0h0M113.8 658.7h0M114.8 650.9h0M126.9 654.7h0M118.7 658.1h0M113.8 650.3h0M126.6 663.2h0M109.0 662.1h0M117.7 650.0h0M128.3 654.9h0M123.8 663.9h0M119.0 661.4h0M117.9 655.0h0M115.9 648.0h0M122.2 664.0h0M117.9 660.3h0M127.4 651.9h0M118.2 660.6h0M119.9 664.5h0M125.7 647.0h0M117.6 653.7h0M118.7 659.9h0M113.7 647.8h0M118.4 658.9h0M117.3 655.6h0M128.9 655.3h0M116.6 648.3h0M114.5 658.4h0M125.1 651.1h0M113.8 655.0h0M130.1 656.5h0M128.3 657.3h0M118.1 657.9h0M127.0 653.5h0M117.6 667.5h0M131.6 661.7h0M124.5 653.5h0M124.9 655.2h0M126.0 647.6h0M128.6 655.9h0M113.7 660.0h0M110.3 652.7h0M126.9 653.7h0M125.6 655.6h0M118.4 655.1h0M124.4 656.5h0M129.5 661.7h0M118.8 657.6h0M118.0 654.9h0M127.4 654.6h0M125.2 647.8h0M120.0 664.2h0M115.5 663.4h0M126.2 654.9h0M119.3 665.3h0M117.5 662.4h0M116.4 652.8h0M123.8 666.1h0M114.4 647.9h0M116.4 653.0h0M128.0 646.7h0M117.3 646.6h0M118.5 657.4h0M125.8 647.5h0M125.0 654.9h0M128.1 647.8h0M132.0 663.2h0M116.6 660.4h0M127.9 648.5h0M124.2 655.0h0M124.1 656.5h0M125.3 665.1h0M127.6 648.4h0M124.5 657.1h0M126.3 650.1h0M127.7 649.4h0M119.3 661.3h0M116.4 665.3h0M124.6 657.1h0M122.5 664.0h0M116.4 663.5h0M124.8 661.4h0M127.2 650.1h0M107.1 648.4h0M116.5 653.0h0M112.6 657.9h0M115.9 659.4h0M110.1 657.0h0M111.5 652.1h0M116.6 650.6h0M130.0 663.0h0M126.7 646.8h0M123.2 660.5h0M118.2 666.8h0M119.8 661.5h0M116.3 660.3h0M122.8 661.9h0M116.5 648.1h0M115.6 648.8h0M120.1 663.1h0M119.6 667.3h0M125.8 657.6h0M126.4 651.8h0M124.1 665.4h0M123.7 666.4h0M130.1 656.5h0M116.4 650.6h0M126.0 656.8h0M117.8 654.9h0M119.5 666.8h0M125.8 649.8h0M127.7 651.1h0M114.0 653.9h0M132.6 658.3h0M125.3 649.8h0M126.9 662.3h0M125.4 647.9h0M115.4 662.9h0M116.1 649.5h0M116.9 653.4h0M125.6 662.6h0M126.2 653.8h0M116.8 657.7h0M126.0 646.9h0M108.3 649.0h0M117.5 666.0h0M124.6 656.1h0M123.1 662.2h0M132.7 664.4h0M117.6 651.7h0M128.7 654.3h0M122.2 665.5h0M134.1 656.2h0M125.2 660.1h0M125.3 656.0h0M130.8 653.0h0M115.5 650.1h0M117.6 648.0h0M126.0 648.8h0M126.2 658.3h0M115.0 648.2h0M132.4 655.6h0M122.3 666.7h0M124.8 665.3h0M124.3 659.0h0M127.1 647.5h0M128.3 650.0h0M112.1 659.6h0M114.9 665.2h0M118.7 666.9h0M129.7 653.2h0M115.4 646.5h0M118.2 659.0h0M126.3 659.1h0M122.3 666.6h0M119.6 662.1h0M119.1 659.6h0M122.8 665.2h0M114.7 658.6h0M129.4 658.6h0M123.9 656.6h0M123.3 661.3h0M116.7 656.2h0M119.2 661.1h0M115.9 650.3h0M116.0 662.6h0M115.5 651.4h0M125.8 653.1h0M125.7 654.3h0M115.8 650.4h0M114.0 663.7h0M126.6 655.1h0M126.6 652.2h0M117.5 660.5h0M113.3 646.8h0M126.4 654.9h0M126.0 660.1h0M116.3 654.2h0M123.4 659.7h0M124.2 657.1h0M112.4 653.8h0M128.5 649.0h0M122.5 662.6h0M119.3 662.1h0M124.6 652.6h0M123.5 662.8h0M116.7 667.1h0M113.9 657.2h0M119.5 659.5h0M124.0 656.0h0M123.0 667.6h0M125.0 654.0h0M107.7 662.0h0M117.2 653.2h0M124.0 660.5h0M112.8 649.2h0M119.4 661.4h0M115.1 658.8h0M131.0 661.6h0M128.5 650.4h0M115.2 654.3h0M116.6 650.7h0M135.7 653.3h0M124.9 657.5h0M112.6 665.3h0M110.2 648.4h0M114.7 646.8h0M113.3 658.7h0M126.2 654.6h0M117.5 654.9h0M127.1 646.9h0M119.9 666.2h0M118.5 658.1h0M122.9 661.1h0M117.1 649.2h0M118.6 658.6h0M115.8 647.5h0M124.8 663.5h0M124.2 659.7h0M106.2 649.1h0M117.7 662.1h0M124.2 656.6h0M128.8 657.2h0M116.8 656.5h0M112.2 647.5h0M117.1 659.0h0M116.9 649.2h0M125.6 654.6h0M124.0 660.2h0M125.3 650.0h0M125.4 660.7h0M120.4 665.8h0M118.7 655.1h0M125.9 659.0h0M124.1 661.9h0M124.4 653.0h0M132.4 654.5h0M122.7 663.8h0M123.6 659.0h0M124.9 655.8h0M103.3 650.9h0M117.6 658.5h0M124.5 654.1h0M118.1 657.7h0M117.8 653.8h0M125.1 651.2h0M102.9 658.9h0M119.4 661.3h0M125.2 658.2h0M123.3 660.7h0M126.1 646.5h0M123.5 666.3h0M123.2 657.7h0M115.1 666.4h0M114.7 662.4h0M120.0 662.5h0M111.2 664.3h0M123.7 658.0h0M119.0 665.9h0M115.6 646.9h0M125.6 654.8h0M130.8 660.6h0M124.6 660.0h0M123.8 658.0h0M115.0 646.9h0M128.1 651.9h0M116.9 659.7h0M124.2 654.6h0M117.8 662.0h0M115.3 662.2h0M119.0 660.4h0M116.3 647.4h0M117.8 656.0h0M106.2 651.0h0M117.3 653.5h0M127.5 656.5h0M113.6 665.3h0M116.9 648.6h0M115.7 650.4h0M118.6 657.1h0M125.9 647.7h0M110.2 659.1h0M118.5 667.1h0M117.6 651.6h0M114.0 648.0h0M125.5 650.9h0M115.2 647.9h0M114.7 648.7h0M126.9 656.2h0M126.8 662.0h0M115.2 651.1h0M115.8 653.0h0M127.2 659.8h0M126.4 652.8h0M113.5 663.5h0M123.0 662.6h0M130.0 659.6h0M124.7 651.8h0M123.7 659.0h0M119.5 663.0h0M118.5 662.0h0M119.9 662.8h0M115.7 660.1h0M131.4 663.8h0M117.4 651.9h0M126.1 665.2h0M116.1 649.4h0M125.2 656.2h0M125.6 649.3h0M116.1 647.9h0M123.6 657.3h0M119.5 660.6h0M110.5 646.4h0M125.9 654.1h0M117.9 654.9h0M127.6 646.8h0M123.1 662.2h0M112.8 658.4h0M116.0 657.2h0M117.1 649.0h0M117.2 655.3h0M113.4 654.1h0M125.1 647.7h0M127.3 651.7h0M126.4 662.1h0M117.0 662.6h0M117.2 663.7h0M120.1 666.7h0M125.7 648.0h0M116.3 653.5h0M119.4 662.1h0M117.7 648.5h0M128.0 653.0h0M128.2 652.4h0M119.0 660.6h0M118.4 656.7h0M125.1 654.1h0M128.6 653.5h0M127.6 647.5h0M117.7 655.5h0M118.5 658.7h0M114.1 654.8h0M130.6 651.5h0M116.9 647.7h0M112.4 667.0h0M115.2 667.5h0M124.3 659.6h0M115.8 647.5h0M126.7 651.7h0M128.2 661.6h0M125.0 654.1h0M126.0 656.4h0M123.3 661.1h0M117.8 654.5h0M126.4 658.5h0M116.2 658.6h0M129.8 647.7h0M115.2 653.2h0M125.1 650.3h0M126.8 649.6h0M125.5 654.9h0M115.1 650.6h0M119.7 662.1h0M117.8 660.9h0M123.4 660.4h0M125.3 649.0h0M117.1 663.7h0M123.0 660.5h0M127.1 651.4h0M127.7 647.8h0M133.1 653.9h0M118.6 664.1h0M117.5 652.4h0M124.7 654.5h0M118.5 657.0h0M115.3 647.2h0M122.4 664.9h0M116.5 658.8h0M123.8 665.5h0M110.9 651.8h0M131.2 648.7h0M126.2 657.3h0M126.5 664.5h0M113.2 648.7h0M128.5 654.5h0M117.6 654.2h0M103.4 667.7h0M123.2 658.5h0M123.5 663.0h0M125.4 665.7h0M124.7 653.1h0M116.2 652.3h0M122.9 665.3h0M115.5 647.4h0M117.5 649.3h0M114.4 667.6h0M125.9 649.4h0M118.9 666.0h0M137.5 651.1h0M125.5 647.9h0M112.1 655.7h0M127.8 653.0h0M122.7 663.6h0M117.3 658.9h0M122.2 664.5h0M114.6 656.2h0M126.9 647.4h0M118.7 665.3h0M118.7 662.9h0M116.8 657.2h0M123.5 661.7h0M116.6 667.6h0M128.3 659.3h0M118.8 657.4h0M115.1 660.2h0M114.8 650.8h0M117.2 658.9h0M116.6 648.2h0M119.0 663.3h0M126.5 647.2h0M118.7 661.5h0M124.9 653.5h0M125.0 661.8h0M114.4 656.7h0M117.1 654.4h0M124.8 650.4h0M116.1 657.8h0M117.6 651.7h0M114.2 647.7h0M117.5 656.8h0M124.1 663.4h0M119.3 661.5h0M116.6 651.6h0M118.5 658.9h0M117.9 661.2h0M124.9 659.0h0M131.7 647.3h0M122.9 662.1h0M123.0 660.3h0M127.6 661.8h0M117.2 662.0h0M119.2 659.5h0M123.9 656.1h0M130.0 649.7h0M116.1 657.1h0M119.4 661.2h0M134.0 653.2h0M115.5 665.1h0M118.9 659.1h0M109.9 647.2h0M117.3 657.7h0M129.3 655.5h0M124.4 652.7h0M112.3 655.7h0M118.4 662.1h0M124.9 656.0h0M126.5 649.4h0M127.8 661.7h0M123.5 661.7h0M126.4 647.4h0M123.8 667.2h0M124.4 657.6h0M124.9 651.4h0M123.6 663.8h0M115.6 650.0h0M117.8 663.2h0M123.3 663.4h0M118.8 660.7h0M116.2 662.1h0M113.4 653.0h0M117.5 650.9h0M124.1 666.3h0M116.3 652.8h0M118.5 664.7h0M124.6 657.6h0M112.8 647.8h0M118.8 664.7h0M125.3 655.7h0M128.3 651.5h0M133.7 654.9h0M127.1 649.2h0M116.7 650.1h0M124.2 657.8h0M135.7 651.8h0M124.3 654.5h0M124.1 664.1h0M111.6 656.7h0M116.8 658.1h0M117.7 664.9h0M126.9 650.8h0M125.3 661.4h0M123.6 665.5h0M126.5 661.9h0M124.1 654.2h0M127.8 650.0h0M132.8 666.3h0M128.5 651.7h0M118.8 658.2h0M122.9 665.2h0M114.9 651.4h0M116.1 649.4h0M117.8 654.5h0M125.4 658.8h0M126.1 660.1h0M117.3 648.6h0M129.8 649.1h0M123.9 654.5h0M122.1 665.7h0M118.2 656.0h0M125.2 653.3h0M123.6 657.4h0M116.1 661.8h0M124.0 659.2h0M106.1 650.6h0M123.9 661.2h0M122.7 664.1h0M124.2 666.1h0M126.2 666.1h0M117.0 651.1h0M118.6 660.7h0M116.4 651.4h0M119.1 661.7h0M125.2 651.5h0M129.3 667.3h0M126.3 654.1h0M125.0 653.6h0M120.1 663.6h0M135.8 649.0h0M129.9 650.4h0M125.6 652.0h0M129.3 649.7h0M112.5 648.6h0M127.2 660.9h0M123.2 662.4h0M129.2 658.4h0M124.6 650.5h0M116.9 647.1h0M129.5 664.7h0M129.9 646.5h0M128.6 651.8h0M127.9 654.0h0M116.3 648.7h0M117.6 656.0h0M118.2 656.1h0M124.8 655.2h0M115.2 656.8h0M119.3 662.8h0M126.0 649.5h0M119.1 664.4h0M114.1 658.8h0M125.8 649.0h0M125.3 646.6h0M129.4 663.0h0M131.5 649.0h0M117.3 648.6h0M126.1 648.7h0M115.8 650.7h0M120.0 663.7h0M126.2 646.8h0M124.0 656.1h0M114.2 658.7h0M118.7 655.1h0M118.9 664.5h0M118.4 666.1h0M124.2 661.3h0M116.9 655.5h0M126.6 646.5h0M117.9 660.1h0M113.1 650.8h0M125.1 648.6h0M113.4 652.4h0M115.7 651.9h0M124.4 652.7h0M108.1 653.7h0M122.2 665.5h0M123.1 666.0h0M125.4 650.2h0M115.8 650.3h0M119.2 665.6h0M124.6 651.1h0M115.3 656.2h0M117.7 648.9h0M132.1 653.5h0M126.5 650.5h0M127.7 659.7h0M124.9 663.2h0M118.1 651.5h0M118.4 663.4h0M118.3 663.7h0M115.6 664.7h0M124.6 667.7h0M116.5 659.9h0M116.6 665.4h0M117.9 658.5h0M129.5 659.2h0M115.9 649.3h0M127.4 666.8h0M124.3 653.5h0M116.6 657.8h0M117.4 655.1h0M119.7 662.5h0M116.9 648.7h0M127.1 662.6h0M116.1 653.2h0M123.5 664.4h0M107.2 655.6h0M120.3 665.4h0M124.4 665.6h0M115.0 650.7h0M113.8 646.6h0M117.5 650.1h0M124.9 653.7h0M125.3 650.0h0M126.9 649.0h0M114.6 655.3h0M128.4 655.6h0M111.9 664.5h0M125.6 660.6h0M118.7 663.8h0M125.4 647.4h0M123.8 656.7h0M118.3 653.0h0M123.8 662.6h0M124.2 652.9h0M117.6 656.1h0M123.7 661.0h0M123.2 660.2h0M126.5 652.7h0M132.9 660.4h0M112.2 666.4h0M125.7 647.5h0M123.5 657.1h0M116.1 655.5h0M123.4 659.1h0M116.1 660.2h0M116.7 665.9h0M125.7 653.0h0M115.7 648.6h0M115.9 650.3h0M118.1 655.9h0M118.6 657.7h0M104.2 653.1h0M116.1 649.3h0M125.1 648.4h0M123.7 659.6h0M119.4 667.5h0M114.4 649.6h0M134.2 656.4h0M126.0 649.7h0M127.2 651.2h0M124.3 663.6h0M125.6 658.0h0M124.4 656.0h0M125.0 655.3h0M129.0 659.3h0M114.5 659.2h0M125.3 655.4h0M115.2 652.0h0M122.6 661.7h0M123.6 658.2h0M126.3 665.4h0M127.7 656.7h0M118.3 663.8h0M128.3 653.1h0M106.9 659.7h0M116.3 665.3h0M123.6 658.6h0M119.4 664.5h0M130.5 658.1h0M118.7 655.3h0M115.9 655.8h0M119.0 657.1h0M132.5 649.0h0M124.8 655.8h0M110.7 648.7h0M125.8 653.2h0M116.8 661.9h0M124.5 656.7h0M103.7 648.1h0M125.3 660.1h0M128.0 651.3h0M117.2 652.7h0M118.9 662.4h0M131.3 657.5h0M129.7 654.0h0M116.0 648.9h0M123.5 661.1h0M121.8 667.1h0M126.0 663.9h0M118.5 657.7h0M123.1 659.1h0M114.4 653.4h0M107.2 647.8h0M118.3 656.2h0M119.8 665.9h0M119.7 662.7h0M117.5 649.4h0M114.7 661.8h0M125.5 657.0h0M127.9 650.1h0M124.5 661.9h0M117.1 647.4h0M114.8 646.7h0M124.7 659.6h0M125.4 651.7h0M116.3 663.8h0M124.1 663.5h0M118.7 654.8h0M126.9 655.2h0M119.3 666.1h0M115.9 666.9h0M128.8 662.7h0M118.3 659.2h0M130.1 652.3h0M126.6 653.6h0M119.0 661.5h0M125.9 652.6h0M117.0 652.3h0M124.3 655.5h0M108.9 650.8h0M126.1 651.5h0M119.2 659.9h0M121.7 667.0h0M116.2 646.6h0M128.7 656.2h0M125.2 648.2h0M129.4 649.7h0M128.5 653.2h0M127.0 653.8h0M111.9 657.7h0M128.6 658.5h0M117.8 659.5h0M116.3 649.9h0M127.4 650.3h0M111.9 652.3h0M120.2 664.6h0M119.5 660.3h0M118.9 661.9h0M117.7 664.6h0M123.6 661.6h0M118.8 657.4h0M121.6 667.6h0M119.7 664.7h0M124.2 659.9h0M130.4 648.2h0M124.1 654.3h0M126.8 652.3h0M125.2 659.5h0M123.1 664.3h0M128.0 648.2h0M113.6 652.7h0M125.1 650.0h0M117.6 656.6h0M128.0 656.8h0M124.7 650.7h0M125.1 654.2h0M120.0 663.8h0M124.1 661.2h0M115.6 662.4h0M125.4 647.1h0M118.2 663.9h0M124.5 660.8h0M126.7 657.5h0M117.3 659.9h0M111.3 651.2h0M118.9 658.3h0M116.9 659.8h0M115.9 651.2h0M117.3 648.5h0M117.4 648.4h0M114.6 656.9h0M117.6 659.7h0M127.4 648.3h0M124.6 663.5h0M126.1 647.4h0M117.1 658.9h0M124.3 652.5h0M127.7 648.8h0M111.9 660.7h0M109.8 660.9h0M124.1 653.1h0M124.6 654.6h0M125.7 647.7h0M117.2 663.1h0M113.5 648.8h0M117.7 651.9h0M112.5 656.8h0M127.5 646.6h0M115.9 646.6h0M125.6 652.2h0M114.9 665.9h0M124.6 667.2h0M119.2 666.3h0M116.3 647.7h0M117.3 655.3h0M127.9 649.4h0M117.6 653.8h0M114.4 659.9h0M123.5 664.0h0M124.3 661.3h0M116.5 655.2h0M128.7 658.4h0M117.0 655.7h0M112.0 660.9h0M116.3 660.3h0M119.5 664.1h0M116.1 663.7h0M116.4 651.8h0M115.5 664.1h0M116.4 648.5h0M116.6 652.5h0M117.5 660.6h0M124.0 659.2h0M126.0 653.6h0M122.9 665.1h0M118.8 664.9h0M120.2 666.0h0M125.0 657.6h0M124.5 654.0h0M116.0 647.9h0M123.9 658.6h0M126.2 649.8h0M119.2 661.3h0M124.2 663.8h0M127.3 654.0h0M127.1 654.9h0M116.2 661.7h0M135.1 647.2h0M125.1 648.5h0M113.1 663.0h0M118.8 662.9h0M114.7 662.6h0M112.8 666.5h0M118.2 654.5h0M138.8 648.8h0M119.2 659.2h0M105.3 648.0h0M127.8 664.6h0M110.0 664.3h0M113.2 653.7h0M128.2 665.0h0M127.7 657.6h0M109.9 655.1h0M116.9 664.4h0M123.4 658.0h0M118.6 657.0h0M127.4 656.8h0M123.9 661.0h0M117.6 651.9h0M126.3 648.3h0M119.1 664.7h0M119.9 663.7h0M118.7 663.7h0M124.7 654.3h0M125.0 651.9h0M119.9 663.7h0M124.1 659.9h0M129.3 657.1h0M133.2 656.7h0M124.5 661.2h0M107.6 661.8h0M125.9 649.8h0M125.8 649.8h0M126.6 661.9h0M122.9 661.8h0M126.4 646.5h0M114.9 648.0h0M118.7 667.4h0M118.0 651.3h0M123.8 662.2h0M118.2 660.8h0M108.6 656.8h0M119.0 657.5h0M125.0 654.1h0M111.1 662.8h0M116.2 651.1h0M126.8 662.1h0M125.8 661.4h0M125.9 648.9h0M126.0 660.3h0M115.2 646.4h0M129.5 664.7h0M119.0 658.6h0M113.9 658.5h0M122.3 666.4h0M120.3 665.8h0M119.3 667.0h0M125.1 655.7h0M116.5 649.3h0M127.2 656.1h0M115.1 657.8h0M110.7 647.8h0M119.5 665.0h0M118.9 662.0h0M123.9 655.4h0M126.8 662.0h0M123.7 656.4h0M125.6 650.0h0M115.0 648.3h0M117.8 654.6h0M135.9 657.6h0M108.7 667.1h0M126.2 655.7h0M110.3 656.0h0M130.7 658.3h0M120.1 667.3h0M112.0 656.2h0M115.8 647.1h0M129.1 647.1h0M118.1 667.0h0M110.0 666.3h0M112.3 648.9h0M114.4 658.4h0M119.5 665.4h0M116.7 647.3h0M113.3 654.0h0M115.0 649.2h0M125.2 647.5h0M134.6 662.9h0M124.9 650.5h0M125.5 658.3h0M126.0 647.5h0M115.8 646.7h0M125.9 666.1h0M115.0 656.1h0M119.4 666.1h0M124.1 656.6h0M128.0 651.6h0M114.7 651.0h0M119.5 664.1h0M119.1 666.6h0M120.4 665.7h0M116.1 653.7h0M114.2 656.6h0M130.0 656.2h0M119.3 659.0h0M133.3 658.7h0M117.2 662.4h0M115.4 646.9h0M128.8 650.1h0M126.4 667.1h0M124.7 649.5h0M114.7 654.7h0M115.2 649.6h0M116.5 663.5h0M126.8 647.9h0M119.9 663.8h0M121.7 666.5h0M116.3 646.9h0M133.1 656.5h0M122.1 666.7h0M127.1 650.8h0M116.6 649.5h0M117.1 651.2h0M108.0 646.5h0M125.8 661.0h0M116.1 660.4h0M126.1 657.8h0M126.1 654.4h0M123.6 665.9h0M118.7 658.3h0M117.6 652.9h0M116.6 658.5h0M111.2 653.3h0M124.4 654.2h0M123.5 666.7h0M127.1 648.7h0M116.4 656.7h0M114.5 648.1h0M118.1 661.1h0M115.7 656.4h0M117.2 658.2h0M124.5 658.6h0M115.1 660.6h0M117.6 658.5h0M115.9 667.2h0M112.2 654.2h0M124.0 660.8h0M120.5 666.5h0M114.9 648.1h0M114.0 656.2h0M118.9 661.7h0M117.1 661.8h0M119.3 662.8h0M116.6 649.6h0M124.2 660.7h0M130.3 653.9h0M125.7 662.6h0M119.2 666.9h0M119.5 664.4h0M128.5 651.8h0M109.2 648.1h0M113.4 660.3h0M124.5 651.6h0M124.6 658.4h0M113.9 651.0h0M114.6 660.4h0M113.9 662.9h0M116.9 654.7h0M113.8 650.8h0M117.3 650.0h0M116.7 651.5h0M117.3 648.5h0M125.0 648.0h0M116.7 650.5h0M124.7 659.2h0M104.1 654.4h0M119.2 664.4h0M110.2 650.5h0M125.4 658.1h0M119.7 662.9h0M115.9 649.0h0M124.6 658.4h0M119.5 665.1h0M113.3 647.2h0M132.7 650.2h0M123.9 658.0h0M130.6 656.9h0M125.1 654.0h0M123.6 659.7h0M128.1 660.3h0M118.8 666.9h0M116.3 661.5h0M131.6 649.0h0M125.8 648.0h0M119.4 667.6h0M117.7 651.8h0M116.9 653.9h0M116.9 651.6h0M118.5 660.4h0M124.9 650.7h0M118.7 656.1h0M129.8 658.1h0M114.7 657.7h0M119.1 667.5h0M120.1 666.7h0M120.4 666.8h0M126.0 646.4h0M119.3 661.4h0M117.6 653.5h0M118.9 663.8h0M115.9 657.5h0M117.0 647.5h0M127.9 657.6h0M115.7 661.4h0M115.4 662.9h0M114.1 650.6h0M129.0 654.7h0M118.3 655.5h0M122.9 660.7h0M130.2 647.6h0M126.5 667.4h0M124.2 656.0h0M125.2 650.8h0M125.4 647.4h0M120.3 666.5h0M116.6 648.3h0M115.3 655.7h0M116.6 647.7h0M116.7 657.3h0M125.5 648.1h0M117.6 655.9h0M134.4 659.5h0M119.8 665.6h0M125.3 654.8h0M125.5 658.8h0M118.0 661.6h0M124.4 652.7h0M127.4 658.6h0M125.1 659.5h0M127.1 646.9h0M106.4 660.8h0M125.3 649.6h0M111.5 653.5h0M118.9 666.5h0M115.6 654.9h0M127.9 666.9h0M127.7 655.5h0M117.2 650.6h0M125.1 651.0h0M117.3 661.2h0M110.3 654.9h0M114.7 649.0h0M127.0 653.4h0M128.8 647.4h0M127.9 663.7h0M114.4 662.8h0M125.3 647.4h0M126.5 654.1h0M111.3 650.5h0M124.2 656.3h0M128.5 646.5h0M118.8 659.9h0M117.7 650.8h0M118.0 659.0h0M116.4 648.9h0M115.7 654.7h0M116.5 652.1h0M115.3 649.9h0M124.5 661.7h0M129.1 648.8h0M116.8 649.7h0M123.6 659.3h0M129.3 650.7h0M117.1 666.4h0M119.4 664.2h0M124.7 652.9h0M128.3 648.8h0M118.1 659.8h0M131.3 650.9h0M125.3 649.2h0M118.2 652.7h0M124.6 653.9h0M132.2 648.6h0M126.5 652.5h0M112.8 648.7h0M128.8 656.4h0M115.4 649.5h0M116.9 663.6h0M126.0 658.0h0M124.8 650.0h0M131.6 655.2h0M125.5 656.8h0M117.5 649.4h0M123.4 666.4h0M124.5 652.3h0M117.9 660.6h0M123.3 659.7h0M130.6 654.3h0M97.4 664.1h0M112.2 663.1h0M132.1 655.5h0M111.4 655.9h0M135.2 663.6h0M107.9 654.4h0M156.3 662.5h0M111.0 648.2h0M135.6 646.9h0M162.1 651.5h0M106.3 652.6h0M145.1 665.6h0M95.6 663.7h0M111.9 659.1h0M83.4 655.5h0M67.9 648.6h0M141.4 661.9h0M152.1 657.4h0M111.5 651.3h0M103.0 649.1h0M133.3 658.8h0M148.0 650.8h0M134.0 657.8h0M106.8 665.3h0M106.3 662.0h0M105.8 664.9h0M109.9 654.1h0M111.3 659.7h0M96.8 648.2h0M140.0 652.6h0M110.1 657.0h0M103.9 648.8h0M136.4 657.2h0M133.5 655.2h0M132.4 646.5h0M110.0 652.8h0M132.8 647.8h0M139.8 661.3h0M132.5 656.9h0M134.1 654.9h0M142.6 660.2h0M137.5 652.1h0M131.7 649.3h0M79.9 663.1h0M133.2 660.5h0M111.9 661.7h0M133.0 650.5h0M156.2 658.0h0M111.1 653.4h0M150.7 654.0h0M109.9 660.1h0M162.8 647.8h0M103.6 653.0h0M83.8 652.6h0M90.0 661.1h0M98.3 658.8h0M140.2 660.7h0M133.2 648.7h0M112.0 647.5h0M131.6 658.8h0M100.0 665.0h0M99.4 652.4h0M81.5 647.8h0M107.4 662.3h0M110.2 650.5h0M93.1 648.6h0M137.6 655.5h0M131.5 648.2h0M111.9 650.1h0M111.1 660.0h0M108.8 661.5h0M100.6 658.0h0M131.0 655.7h0M133.3 657.1h0M103.0 664.1h0M89.0 655.8h0M131.8 653.3h0M152.7 650.6h0M94.5 659.7h0M100.9 652.8h0M87.9 660.0h0M132.1 654.4h0M139.7 665.4h0M81.6 647.7h0M97.3 662.3h0M103.9 652.5h0M97.0 653.2h0M110.4 648.5h0M109.6 665.3h0M99.1 650.6h0M133.9 656.5h0M105.5 662.9h0M166.5 661.4h0M130.8 651.6h0M110.6 654.8h0M139.5 658.1h0M100.2 664.8h0M73.8 647.6h0M130.2 649.5h0M87.3 651.4h0M103.9 663.5h0M132.4 656.7h0M143.6 656.4h0M132.1 665.0h0M135.6 649.2h0M93.6 659.1h0M159.7 649.1h0M96.9 658.8h0M96.6 655.2h0M98.9 655.8h0M130.8 662.5h0M101.6 663.6h0M131.8 657.3h0M138.9 650.6h0M66.6 659.6h0M134.6 664.0h0M135.5 660.7h0M108.2 663.7h0M104.4 658.8h0M81.3 665.4h0M108.3 647.5h0M107.6 659.8h0M133.1 649.8h0M102.9 656.6h0M100.4 657.7h0M93.3 650.5h0M144.2 647.6h0M140.1 661.8h0M101.3 654.4h0M154.6 660.5h0M154.3 653.1h0M98.5 653.1h0M133.8 661.7h0M145.3 647.1h0M89.1 648.1h0M147.1 649.3h0M137.0 650.3h0M97.0 647.2h0M110.4 650.8h0M133.8 648.3h0M99.8 651.2h0M149.5 656.9h0M138.6 663.8h0M93.9 664.9h0M105.0 657.3h0M109.2 663.9h0M94.9 665.8h0M149.3 651.1h0M103.3 646.4h0M100.3 653.1h0M108.1 658.0h0M101.3 646.9h0M110.5 651.8h0M107.2 647.6h0M99.6 648.1h0M110.8 655.7h0M98.8 650.6h0M95.2 646.9h0M101.9 665.0h0M132.5 650.1h0M105.9 649.5h0M109.5 647.2h0M88.6 660.2h0M112.0 660.0h0M104.8 651.2h0M154.2 661.9h0M99.5 646.4h0M109.0 658.6h0" fill="none" stroke="#0d0d0d" stroke-width="0.8" stroke-linecap="round"/>
<path d="M126.1 645.7h0M113.1 644.5h0M113.2 644.6h0M113.6 644.0h0M110.5 641.0h0M114.0 642.7h0M113.3 642.2h0M109.4 638.5h0M112.1 637.6h0M128.0 637.7h0M112.5 646.0h0M113.7 639.5h0M133.6 637.6h0M111.2 641.0h0M127.7 639.4h0M111.3 642.2h0M110.5 643.2h0M128.4 633.2h0M126.9 639.8h0M129.4 635.8h0M104.3 642.6h0M109.9 633.7h0M129.7 644.1h0M108.6 641.5h0M114.4 642.6h0M128.9 628.4h0M113.6 635.2h0M113.2 645.5h0M113.3 632.7h0M113.1 641.6h0M127.1 641.5h0M114.3 642.7h0M95.5 642.1h0M127.0 637.1h0M116.4 641.7h0M129.0 634.5h0M111.0 640.5h0M128.9 643.2h0M127.1 643.3h0M113.3 645.4h0M91.6 638.1h0M115.2 642.5h0M132.1 628.9h0M116.4 645.5h0M128.9 640.7h0M112.9 646.2h0M115.4 645.5h0M116.2 642.6h0M115.0 645.7h0M115.5 644.9h0M130.4 625.7h0M129.1 640.6h0M115.2 642.5h0M127.1 637.6h0M110.5 643.2h0M126.6 645.5h0M108.4 641.1h0M126.3 645.9h0M99.1 645.1h0M126.6 646.0h0M132.4 643.5h0M128.7 643.8h0M131.4 644.8h0M107.4 646.1h0M110.9 643.3h0M102.6 643.4h0M114.3 645.5h0M114.0 637.1h0M125.8 644.7h0M103.1 644.8h0M99.1 639.2h0M114.8 641.3h0M116.4 643.4h0M112.4 645.4h0M113.2 638.1h0M128.8 645.3h0M114.7 644.6h0M110.4 645.9h0M107.9 645.9h0M103.3 646.1h0M126.2 645.0h0M127.7 642.1h0M114.0 633.2h0M116.6 643.6h0M126.7 646.1h0M114.5 646.2h0M116.4 644.2h0M129.6 638.8h0M116.4 645.7h0M78.2 646.1h0M125.6 643.9h0M115.3 638.4h0M129.1 632.2h0M127.5 638.9h0M105.9 638.7h0M106.8 640.1h0M133.8 640.2h0M125.5 646.4h0M112.7 642.6h0M111.9 643.7h0M125.7 644.9h0M128.5 629.5h0M128.0 641.9h0M116.8 646.1h0M132.0 630.7h0M114.4 642.3h0M126.1 643.8h0M112.4 643.1h0M127.7 643.2h0M127.6 641.0h0M112.7 644.2h0M111.6 645.1h0M129.1 630.4h0M107.1 644.7h0M114.9 643.1h0M116.6 645.6h0M107.7 643.6h0M114.9 645.5h0M115.2 646.3h0M116.7 643.8h0M115.1 641.4h0M112.6 642.5h0M111.8 645.0h0M113.7 639.0h0M112.0 646.3h0M113.8 646.1h0M115.2 643.0h0M115.7 646.2h0M128.1 642.3h0M130.0 639.0h0M115.9 645.4h0M111.3 645.4h0M130.6 638.3h0M115.1 639.8h0M126.4 644.4h0M115.2 636.2h0M110.4 640.9h0M97.4 645.7h0M114.2 634.1h0M111.3 646.3h0M128.4 632.4h0M126.8 642.9h0M115.5 640.6h0M115.9 644.2h0M112.0 644.8h0M110.7 619.0h0M112.6 643.8h0M110.5 639.9h0M112.2 644.3h0M135.3 641.5h0M126.0 644.2h0M115.3 643.8h0M114.6 645.4h0M112.9 634.4h0M115.9 644.6h0M130.8 617.5h0M111.8 636.5h0M126.7 645.8h0M111.6 646.2h0M127.8 645.8h0M116.7 646.3h0M115.1 639.3h0M114.0 632.9h0M109.5 641.8h0M115.8 643.6h0M116.5 646.0h0M112.8 641.9h0M113.4 646.3h0M114.6 645.7h0M97.5 632.4h0M109.5 645.8h0M127.0 639.6h0M116.2 645.3h0M107.9 645.4h0M114.9 645.4h0M129.2 638.5h0M114.5 644.2h0M129.3 642.9h0M131.0 640.8h0M133.3 632.5h0M127.6 646.1h0M102.0 633.4h0M107.9 639.6h0M115.2 641.7h0M115.1 645.2h0M113.7 636.8h0M105.4 634.0h0M129.0 636.2h0M102.6 637.6h0M127.3 638.1h0M115.1 640.9h0M127.7 645.0h0M112.3 642.7h0M130.1 631.0h0M128.0 641.3h0M131.7 645.4h0M126.7 638.8h0M116.3 644.1h0M130.2 642.3h0M114.2 641.2h0M114.7 636.1h0M115.2 641.9h0M128.7 645.6h0M111.6 646.0h0M129.7 640.5h0M110.0 628.5h0M111.9 641.9h0M128.0 638.5h0M129.1 634.6h0M114.1 643.6h0M113.1 645.5h0M114.7 643.9h0M114.1 631.5h0M105.3 640.8h0M104.9 645.2h0M129.8 641.4h0M133.6 643.2h0M114.5 632.8h0M126.1 644.2h0M116.4 643.0h0M114.0 641.3h0M99.3 642.9h0M130.7 642.0h0M116.6 645.4h0M111.8 646.0h0M116.6 645.1h0M110.8 642.3h0M108.4 644.6h0M130.1 633.4h0M116.0 639.3h0M110.8 644.8h0M110.2 624.6h0M111.2 636.1h0M127.4 646.2h0M116.0 643.0h0M114.1 643.9h0M114.8 644.2h0M114.7 646.3h0M111.0 644.2h0M113.5 632.0h0M109.4 645.7h0M128.4 643.4h0M114.4 635.3h0M100.2 638.9h0M114.8 642.6h0M132.4 645.8h0M114.8 644.1h0M112.5 640.3h0M126.8 643.7h0M84.2 642.2h0M116.0 643.8h0M115.6 642.4h0M107.9 643.3h0M114.8 635.6h0M82.4 638.7h0M115.9 642.9h0M116.6 643.1h0M129.3 639.5h0M115.3 643.4h0M115.4 645.8h0M107.5 636.8h0M115.4 641.3h0M115.6 641.1h0M112.7 634.3h0M115.2 642.7h0M98.2 642.1h0M112.8 643.6h0M114.3 640.3h0M127.6 644.5h0M114.9 638.1h0M115.4 645.2h0M113.0 641.4h0M129.7 627.6h0M112.7 644.2h0M111.2 645.0h0M111.9 643.2h0M111.3 646.0h0M115.6 646.0h0M108.0 639.5h0M110.1 643.7h0M115.9 646.0h0M116.5 646.1h0M129.6 645.6h0M106.1 638.4h0M130.2 644.9h0M112.4 629.4h0M109.4 645.2h0M127.8 646.4h0M128.4 645.6h0M105.0 632.2h0M111.6 644.6h0M111.9 643.4h0M110.2 630.0h0M110.9 645.8h0M114.6 636.6h0M138.6 639.9h0M126.1 645.1h0M117.0 645.7h0M127.1 640.8h0M127.7 642.7h0M112.1 643.8h0M113.8 627.2h0M113.2 644.9h0M106.5 632.2h0M115.6 638.3h0M104.4 639.5h0M129.1 635.0h0M112.9 635.7h0M110.1 643.7h0M114.5 639.1h0M127.7 645.9h0M105.5 643.5h0M114.5 637.8h0M128.0 636.2h0M110.4 645.8h0M111.3 643.9h0M104.8 639.2h0M127.9 641.7h0M111.0 623.4h0M125.6 644.7h0M127.1 645.6h0M109.3 644.0h0M110.9 637.2h0M125.6 646.1h0M138.6 641.1h0M128.6 646.3h0M106.9 633.8h0M116.6 644.8h0M135.9 645.0h0M111.4 635.4h0M103.1 644.1h0M113.6 627.5h0M113.8 640.2h0M96.3 646.4h0M115.9 645.7h0M81.4 633.6h0M114.6 638.2h0M113.0 635.7h0M132.5 640.3h0M128.6 638.0h0M128.9 645.4h0M129.1 636.8h0M114.8 643.4h0M110.2 642.2h0M114.1 644.6h0M132.6 640.9h0M116.3 641.9h0M106.8 643.3h0M112.2 636.5h0M114.8 639.1h0M128.1 644.8h0M113.6 645.6h0M98.7 633.3h0M100.0 644.6h0M109.8 642.1h0M130.0 645.3h0M116.1 640.6h0M115.7 642.0h0M113.9 644.1h0M114.7 644.5h0M106.9 637.7h0M111.0 646.2h0M128.8 634.6h0M94.6 643.2h0M110.5 641.9h0M129.5 628.7h0M114.1 642.5h0M112.9 646.3h0M115.7 643.3h0M115.2 644.0h0M111.1 643.2h0M126.4 640.3h0M112.5 640.3h0M105.5 638.8h0M114.8 642.0h0M104.9 646.0h0M113.8 645.4h0M116.5 644.6h0M111.4 646.1h0M113.6 633.7h0M131.0 629.6h0M127.4 645.8h0M114.5 643.3h0M113.0 636.5h0M115.5 645.2h0M110.0 640.0h0M128.1 643.1h0M114.6 638.8h0M111.4 634.9h0M130.2 641.4h0M110.9 637.1h0M114.4 644.6h0M114.5 634.1h0M126.4 642.2h0M111.2 631.3h0M112.2 639.8h0M128.4 644.6h0M114.0 638.3h0M131.7 643.6h0M115.6 643.8h0M138.1 628.5h0M126.0 642.2h0M116.2 644.9h0M113.9 646.4h0M114.0 644.7h0M127.0 636.4h0M112.8 629.4h0M125.8 643.9h0M114.6 643.8h0M113.4 642.6h0M115.0 645.9h0M114.1 640.3h0M115.2 645.1h0M116.1 640.6h0M126.4 640.5h0M112.2 642.3h0M126.9 644.3h0M113.6 634.4h0M109.9 633.4h0M116.7 645.8h0M112.1 636.0h0M104.9 644.3h0M113.8 643.7h0M116.1 644.5h0M116.8 646.2h0M114.9 646.2h0M114.7 635.1h0M127.3 637.6h0M107.9 625.0h0M127.8 646.0h0M127.3 640.4h0M109.6 645.1h0M113.2 643.4h0M114.0 629.7h0M113.4 639.3h0M105.7 645.6h0M110.7 638.9h0M112.8 639.5h0M112.3 645.4h0M108.4 636.6h0M125.9 644.7h0M115.2 635.1h0M109.3 640.0h0M126.5 644.7h0M126.0 644.9h0M113.4 642.4h0M112.8 641.9h0M113.8 645.3h0M100.1 645.1h0M111.5 632.7h0M82.5 644.9h0M112.8 635.6h0M129.6 624.8h0M115.6 644.1h0M109.0 644.7h0M113.0 641.0h0M107.6 641.3h0M125.6 645.8h0M113.4 639.9h0M115.7 643.7h0M106.1 645.7h0M105.2 628.7h0M109.4 637.5h0M112.2 634.2h0M126.4 642.0h0M116.2 644.6h0M110.2 628.9h0M109.0 630.4h0M114.5 644.8h0M113.4 646.0h0M99.2 646.1h0M110.6 641.6h0M116.6 642.3h0M126.5 645.1h0M111.3 618.2h0M116.4 642.1h0M109.8 633.2h0M126.6 643.2h0M108.2 645.0h0M111.3 644.3h0M115.1 643.3h0M111.3 642.9h0M126.6 639.3h0M115.9 640.1h0M111.1 640.9h0M131.3 642.1h0M106.9 630.9h0M105.7 639.6h0M125.8 646.1h0M107.5 641.8h0M126.3 645.1h0M114.3 646.2h0M136.7 636.2h0M111.1 636.4h0M112.1 645.7h0M111.0 639.6h0M114.5 638.5h0M126.0 644.8h0M106.6 640.3h0M126.4 643.7h0M113.8 643.8h0M127.7 643.3h0M109.1 643.8h0M111.6 641.2h0M116.8 646.3h0M115.0 645.9h0M112.2 642.1h0M115.3 642.7h0M96.4 643.3h0M116.4 643.1h0M115.1 640.6h0M126.3 642.5h0M112.5 642.2h0M129.7 625.5h0M115.1 644.7h0M125.8 643.6h0M109.2 642.8h0M110.2 636.5h0M112.2 622.1h0M132.1 638.2h0M113.3 643.8h0M108.1 640.3h0M115.1 635.1h0M115.2 643.0h0M111.6 637.7h0M111.3 644.0h0M126.9 638.4h0M112.4 636.5h0M126.9 642.7h0M128.6 642.8h0M114.8 637.2h0M117.0 646.0h0M114.2 636.6h0M105.7 645.9h0M99.7 635.9h0M112.8 641.0h0M109.9 633.1h0M125.7 643.8h0M110.6 638.7h0M127.3 635.0h0M115.9 644.9h0M114.2 630.6h0M107.1 642.8h0M112.7 644.4h0M128.6 643.0h0M129.3 633.6h0M113.6 638.2h0M115.1 643.4h0M108.4 636.8h0M111.7 640.4h0M115.6 643.4h0M127.9 635.1h0M109.5 626.7h0M112.6 639.8h0M110.7 645.5h0M130.6 646.2h0M114.7 642.0h0M115.5 637.5h0M114.3 640.2h0M114.6 645.5h0M116.6 645.3h0M115.4 645.5h0M116.6 645.6h0M110.7 622.9h0M111.2 645.7h0M114.2 639.3h0M112.1 634.0h0M110.6 640.8h0M129.7 632.7h0M115.1 643.1h0M112.1 636.0h0M130.0 642.0h0M125.6 645.9h0M129.6 646.1h0M115.3 644.7h0M126.6 644.7h0M104.2 641.7h0M107.5 641.3h0M129.1 642.0h0M133.5 632.5h0M110.1 645.0h0M128.6 627.8h0M107.9 634.7h0M114.4 641.5h0M133.6 633.1h0M135.0 620.2h0M94.0 645.1h0M127.5 638.0h0M111.9 643.5h0M97.1 636.4h0M114.1 640.3h0M112.3 645.9h0M106.2 637.2h0M126.3 642.0h0M110.6 616.9h0M110.5 642.5h0M109.9 620.4h0M130.8 629.2h0M116.7 645.7h0M134.2 630.8h0M134.6 646.0h0M115.5 642.6h0M126.9 645.4h0M114.1 640.8h0M83.2 646.2h0M128.2 646.0h0M104.6 635.0h0M126.4 646.2h0M110.0 641.4h0M126.5 644.7h0M106.8 634.4h0M107.4 640.0h0M127.6 635.1h0M112.4 644.3h0M112.4 641.4h0M114.9 637.5h0M111.9 643.2h0M114.6 641.0h0M109.1 634.0h0M115.8 643.3h0M115.7 645.8h0M113.7 633.3h0M111.1 637.0h0M100.9 639.2h0M115.7 646.1h0M126.7 640.3h0M127.4 642.7h0M115.5 645.5h0M108.1 645.5h0M110.4 641.3h0M113.6 643.5h0M110.7 636.7h0M115.6 646.0h0M104.6 640.5h0M115.1 640.2h0M114.3 632.4h0M110.9 642.4h0M114.3 639.8h0M127.5 634.4h0M129.2 640.7h0M131.0 636.0h0M113.7 634.4h0M133.6 646.3h0M129.8 633.8h0M111.8 632.0h0M106.6 626.7h0M129.1 626.1h0M106.4 642.0h0M115.0 645.5h0M105.6 644.0h0M111.6 646.0h0M110.2 630.3h0M126.6 645.5h0M116.5 644.8h0M128.9 645.1h0M109.4 640.7h0M112.3 636.5h0M126.5 643.8h0M128.8 632.2h0M114.9 640.3h0M114.0 645.6h0M111.7 642.7h0M115.5 640.0h0M129.6 628.1h0M100.4 636.0h0M115.2 641.5h0M129.2 641.8h0M115.6 644.8h0M108.9 644.3h0M115.0 640.4h0M115.5 641.5h0M115.4 642.6h0M114.5 631.7h0M126.5 641.1h0M129.6 644.1h0M130.2 622.0h0M126.7 642.4h0M115.9 639.9h0M127.9 640.4h0M109.4 641.3h0M114.1 640.4h0M114.0 639.9h0M113.6 645.2h0M112.9 634.4h0M116.2 645.8h0M114.5 642.5h0M129.9 644.8h0M128.4 639.0h0M128.2 644.9h0M96.9 645.3h0M108.4 643.0h0M115.2 642.5h0M115.3 640.7h0M116.6 642.6h0M126.5 641.0h0M108.9 641.7h0M116.6 645.5h0M114.9 640.4h0M134.1 625.4h0M110.6 643.5h0M128.1 641.6h0M129.4 640.4h0M115.6 642.8h0M103.0 643.3h0M116.4 645.2h0M102.1 633.9h0M111.2 646.3h0M116.1 645.9h0M115.1 644.7h0M127.3 636.5h0M110.7 644.2h0M111.5 640.5h0M115.4 643.4h0M129.6 628.7h0M126.3 645.5h0M130.3 643.6h0M126.0 645.6h0M113.8 633.0h0M105.5 645.7h0M127.2 643.3h0M111.2 634.1h0M111.8 645.5h0M111.3 646.1h0M126.5 644.8h0M126.9 637.7h0M112.6 629.4h0M129.1 626.3h0M114.7 642.0h0M116.8 644.5h0M116.4 645.5h0M115.7 643.1h0M115.4 644.6h0M115.7 643.1h0M108.3 637.9h0M115.0 645.0h0M111.1 644.1h0M106.1 644.3h0M108.1 639.7h0M103.7 637.4h0M114.4 631.9h0M126.1 645.9h0M115.9 645.1h0M126.6 640.6h0M113.0 642.8h0M113.3 639.7h0M126.1 646.0h0M112.5 625.9h0M78.9 641.2h0M112.1 634.0h0M111.2 645.6h0M126.1 645.1h0M111.5 642.9h0M115.7 642.7h0M109.4 645.3h0M115.2 644.7h0M112.5 638.8h0M115.3 641.6h0M114.4 639.8h0M111.4 618.4h0M112.5 645.4h0M115.8 643.7h0M110.3 638.4h0M127.3 636.0h0M127.2 641.9h0M116.6 644.6h0M108.5 643.9h0M104.8 642.4h0M116.1 643.2h0M110.9 615.4h0M134.3 617.1h0M127.2 643.7h0M131.1 642.9h0M108.2 616.3h0M113.3 646.0h0M113.4 644.1h0M128.3 629.3h0M116.8 645.7h0M133.6 631.8h0M114.1 643.8h0M115.1 646.0h0M112.2 644.5h0M109.4 641.6h0M112.3 644.6h0M108.1 640.7h0M115.9 643.2h0M127.3 646.0h0M115.9 643.7h0M115.7 639.5h0M111.8 637.6h0M132.2 630.2h0M115.7 642.6h0M128.0 641.1h0M102.1 625.8h0M108.9 638.9h0M114.4 645.3h0M112.4 629.9h0M109.4 644.0h0M114.8 645.5h0M114.3 645.3h0M108.8 646.1h0M109.5 630.7h0M127.6 646.2h0M99.5 629.5h0M125.9 645.2h0M108.4 645.8h0M128.4 632.1h0M112.9 643.4h0M113.1 640.6h0M115.0 636.4h0M129.5 643.1h0M114.5 645.3h0M129.6 640.8h0M116.9 645.7h0M115.3 641.4h0M113.1 636.2h0M127.3 641.0h0M125.6 646.1h0M110.1 632.8h0M110.9 643.7h0M115.6 646.0h0M112.7 646.0h0M113.2 643.0h0M114.8 642.5h0M112.4 637.1h0M111.9 644.4h0M106.4 614.6h0M108.7 639.9h0M131.1 637.8h0M116.5 645.7h0M116.0 641.8h0M99.0 645.4h0M128.4 632.2h0M109.3 633.9h0M126.9 640.6h0M105.0 645.9h0M111.4 644.9h0M114.9 644.7h0M125.8 645.1h0M115.2 637.5h0M107.2 627.7h0M108.5 643.9h0M112.2 626.8h0M130.2 637.0h0M112.9 635.8h0M127.0 642.5h0M126.8 639.6h0M115.7 645.1h0M104.6 626.0h0M101.3 631.4h0M105.7 615.5h0M138.0 641.5h0M112.0 639.6h0M109.8 644.6h0M99.6 641.4h0M109.0 626.0h0M132.4 643.8h0M88.9 636.8h0M134.8 633.9h0M128.5 633.4h0M105.2 631.5h0M108.7 635.5h0M104.2 635.5h0M112.9 639.3h0M104.5 642.1h0M130.6 621.1h0M83.3 640.7h0M88.4 625.0h0M101.3 644.7h0M80.2 645.4h0M131.4 643.0h0M105.4 635.8h0M145.0 632.3h0M93.8 619.5h0M89.5 640.0h0M112.4 646.4h0M137.4 638.6h0M99.6 625.8h0M103.0 643.7h0M111.7 643.3h0M107.1 641.1h0M109.3 645.1h0M130.6 611.7h0M108.5 645.8h0M103.8 639.2h0M79.7 639.1h0M107.7 645.0h0M139.7 623.5h0M96.9 640.4h0M110.1 618.8h0M102.7 615.4h0M113.9 646.3h0M86.9 645.6h0M142.8 619.8h0M111.4 639.0h0M106.1 636.9h0M87.5 625.6h0M112.7 604.4h0M97.5 640.4h0M112.5 627.3h0M112.2 642.3h0M99.6 623.9h0M86.5 606.0h0M104.7 634.5h0M114.0 641.1h0M137.3 629.6h0M133.5 615.6h0M104.4 643.5h0M112.1 630.5h0M130.8 631.4h0M110.3 644.9h0M82.1 635.6h0M66.0 643.4h0M90.4 639.5h0M136.2 609.2h0M103.1 633.5h0M113.8 630.4h0M94.2 637.7h0M106.0 639.6h0M110.7 607.9h0M130.4 633.6h0M91.9 642.1h0M108.2 643.8h0M92.3 638.2h0M137.4 622.4h0M108.9 641.4h0M104.9 646.3h0M101.3 644.1h0M135.4 637.3h0M113.3 641.7h0M98.6 634.1h0M89.9 632.1h0M133.4 645.5h0M104.8 629.0h0M112.9 641.8h0M99.5 642.1h0M103.5 645.1h0M107.1 615.9h0M152.1 642.5h0M107.5 636.9h0M96.1 646.4h0M113.8 641.1h0M112.9 635.7h0M82.9 614.5h0M109.6 624.6h0M69.0 645.6h0M106.4 641.9h0M101.6 644.2h0M111.8 639.7h0M109.8 638.6h0M138.1 640.9h0M91.7 625.7h0M87.5 642.4h0M110.3 641.7h0M89.7 636.0h0M88.8 639.4h0M113.0 644.3h0M105.1 635.3h0M128.7 626.9h0M112.2 616.2h0M84.2 632.3h0M96.6 642.8h0M113.0 645.1h0M109.3 637.6h0M92.6 644.1h0M113.4 636.2h0M140.3 646.1h0M81.3 636.4h0M108.1 611.8h0M112.6 636.6h0M112.4 638.8h0M131.2 615.7h0M89.5 631.1h0M129.8 637.1h0M111.9 644.2h0M95.2 643.2h0M114.0 643.5h0M111.6 645.9h0M100.4 645.8h0M107.8 646.4h0M109.6 645.0h0M113.0 636.2h0M110.7 615.9h0M95.5 641.7h0M134.2 640.9h0M112.5 638.4h0M132.8 641.4h0M106.2 626.7h0M113.5 636.7h0M92.3 640.5h0M96.3 623.7h0M112.0 642.1h0M109.6 635.7h0M133.7 646.0h0M98.5 634.0h0M132.1 644.8h0M97.5 642.5h0M111.3 634.0h0M112.5 642.9h0M89.7 643.3h0M110.0 636.1h0M102.0 644.9h0M104.0 621.1h0M114.1 640.1h0M102.0 635.3h0M108.7 642.5h0M102.9 645.0h0M105.9 614.5h0M74.9 639.2h0M106.8 633.2h0M71.9 636.2h0M144.5 640.7h0M102.5 645.0h0M109.8 633.0h0M108.1 638.8h0M106.4 619.1h0M104.4 639.9h0M73.6 632.4h0M112.2 643.1h0M88.1 634.8h0M113.7 612.8h0M75.7 644.1h0M131.3 617.1h0M113.2 630.8h0M106.9 640.3h0M111.6 615.5h0M113.3 642.0h0M137.5 643.6h0M95.3 640.2h0M96.7 643.9h0M100.4 627.6h0M91.8 644.7h0M111.6 643.3h0M63.4 636.1h0M111.6 644.1h0M100.4 615.4h0M128.7 621.2h0M111.4 644.3h0M112.2 628.3h0M104.1 641.2h0M112.0 638.9h0M111.7 637.4h0M87.4 614.3h0M113.9 644.7h0M110.4 617.2h0M112.1 646.1h0M109.4 641.7h0M112.5 645.3h0M130.2 634.3h0M109.3 616.9h0M146.3 638.9h0M101.7 639.0h0M93.9 640.3h0M80.7 636.8h0M99.6 636.1h0M113.9 638.3h0M97.8 631.8h0M149.2 642.2h0M103.2 643.8h0M133.4 635.6h0M110.2 644.7h0M139.2 637.3h0M95.5 644.9h0M109.7 637.5h0M111.6 634.4h0M114.0 641.6h0M85.4 635.6h0M102.8 613.3h0M107.4 646.4h0M128.9 645.1h0M105.9 644.2h0M139.7 642.5h0M75.0 633.3h0M104.6 641.2h0M107.0 636.2h0M110.1 619.6h0M89.7 644.6h0M109.9 637.6h0M103.1 645.6h0M100.3 629.5h0M84.1 641.9h0M98.4 617.4h0M91.8 630.8h0M102.4 640.1h0M73.3 623.3h0M111.6 643.8h0M132.8 615.1h0M113.4 630.6h0" fill="none" stroke="#c4102f" stroke-width="0.85" stroke-linecap="round" stroke-opacity="0.9"/>
<line x1="49.70" y1="594.00" x2="49.70" y2="668.30" stroke="#000" stroke-width="1.2"/>
<line x1="49.10" y1="667.60" x2="195.50" y2="667.60" stroke="#000" stroke-width="1.2"/>
<line x1="46.30" y1="595.03" x2="49.70" y2="595.03" stroke="#000" stroke-width="1.0"/>
<text transform="translate(43.80 598.13) scale(0.89 1)" font-size="9.1" text-anchor="end" fill="#231f20" stroke="#231f20" stroke-width="0.22">80</text>
<line x1="46.30" y1="613.21" x2="49.70" y2="613.21" stroke="#000" stroke-width="1.0"/>
<text transform="translate(43.80 616.31) scale(0.89 1)" font-size="9.1" text-anchor="end" fill="#231f20" stroke="#231f20" stroke-width="0.22">60</text>
<line x1="46.30" y1="631.39" x2="49.70" y2="631.39" stroke="#000" stroke-width="1.0"/>
<text transform="translate(43.80 634.49) scale(0.89 1)" font-size="9.1" text-anchor="end" fill="#231f20" stroke="#231f20" stroke-width="0.22">40</text>
<line x1="46.30" y1="649.57" x2="49.70" y2="649.57" stroke="#000" stroke-width="1.0"/>
<text transform="translate(43.80 652.67) scale(0.89 1)" font-size="9.1" text-anchor="end" fill="#231f20" stroke="#231f20" stroke-width="0.22">20</text>
<line x1="46.30" y1="667.75" x2="49.70" y2="667.75" stroke="#000" stroke-width="1.0"/>
<text transform="translate(43.80 670.85) scale(0.89 1)" font-size="9.1" text-anchor="end" fill="#231f20" stroke="#231f20" stroke-width="0.22">0</text>
<line x1="50.05" y1="667.75" x2="50.05" y2="671.20" stroke="#000" stroke-width="1.0"/>
<text transform="translate(50.05 681.50) scale(0.92 1)" font-size="9.1" text-anchor="middle" fill="#231f20" stroke="#231f20" stroke-width="0.22">–4</text>
<line x1="85.65" y1="667.75" x2="85.65" y2="671.20" stroke="#000" stroke-width="1.0"/>
<text transform="translate(85.65 681.50) scale(0.92 1)" font-size="9.1" text-anchor="middle" fill="#231f20" stroke="#231f20" stroke-width="0.22">–2</text>
<line x1="121.25" y1="667.75" x2="121.25" y2="671.20" stroke="#000" stroke-width="1.0"/>
<text transform="translate(121.25 681.50) scale(0.92 1)" font-size="9.1" text-anchor="middle" fill="#231f20" stroke="#231f20" stroke-width="0.22">0</text>
<line x1="156.85" y1="667.75" x2="156.85" y2="671.20" stroke="#000" stroke-width="1.0"/>
<text transform="translate(156.85 681.50) scale(0.92 1)" font-size="9.1" text-anchor="middle" fill="#231f20" stroke="#231f20" stroke-width="0.22">2</text>
<line x1="192.45" y1="667.75" x2="192.45" y2="671.20" stroke="#000" stroke-width="1.0"/>
<text transform="translate(192.45 681.50) scale(0.92 1)" font-size="9.1" text-anchor="middle" fill="#231f20" stroke="#231f20" stroke-width="0.22">4</text>
<rect x="55.50" y="613.90" width="32.00" height="32.40" fill="none" stroke="#000" stroke-width="1.15"/>
<line x1="50.00" y1="646.25" x2="88.00" y2="646.25" stroke="#000" stroke-width="1.0"/>
<line x1="90.00" y1="646.25" x2="192.00" y2="646.25" stroke="#000" stroke-width="1.0" stroke-dasharray="5.3 2.2"/>
<line x1="70.20" y1="613.75" x2="70.20" y2="599.00" stroke="#000" stroke-width="1.2"/>
<path d="M70.2 594.6L67.4 601L70.2 599.8L73 601Z" fill="#000"/>
<rect x="135.20" y="627.70" width="3.40" height="3.40" fill="#fff" stroke="#000" stroke-width="0.9"/>
<text transform="translate(141.50 632.20) scale(0.9 1)" font-size="9.2" text-anchor="start" fill="#231f20" stroke="#231f20" stroke-width="0.22">DHPS</text>
<text transform="translate(157.50 641.50) scale(0.955 1)" font-size="9.2" text-anchor="start" fill="#231f20" stroke="#231f20" stroke-width="0.22">adj.<tspan font-style="italic">P</tspan> = .05</text>
<text transform="translate(121.00 695.50) scale(0.79 1)" font-size="10.3" text-anchor="middle" fill="#231f20" stroke="#231f20" stroke-width="0.22">log (GC7/Ctrl)</text>
<text transform="translate(26.80 629.30) rotate(-90) scale(0.825 1)" font-size="10.3" text-anchor="middle" fill="#231f20" stroke="#231f20" stroke-width="0.1">–10log<tspan font-size="7.5" dy="2">10</tspan><tspan dy="-2">(</tspan><tspan font-style="italic">P</tspan>-value)</text>
<text transform="translate(212.30 568.00) scale(0.85 1)" font-size="13" text-anchor="start" fill="#000" font-weight="bold" stroke="#000" stroke-width="0.25" stroke-linejoin="round">J</text>
<rect x="238.50" y="575.20" width="5.50" height="2.50" fill="#1c4587"/>
<rect x="244.00" y="575.20" width="5.50" height="2.50" fill="#f5900f"/>
<rect x="238.50" y="584.20" width="5.50" height="2.50" fill="#8e9acb"/>
<rect x="244.00" y="584.20" width="5.50" height="2.50" fill="#fdc88a"/>
<text transform="translate(253.00 579.40) scale(0.92 1)" font-size="8.8" text-anchor="start" fill="#231f20" stroke="#231f20" stroke-width="0.22">FDR ≤ 0.05</text>
<text transform="translate(253.00 588.60) scale(0.92 1)" font-size="8.8" text-anchor="start" fill="#231f20" stroke="#231f20" stroke-width="0.22">FDR &gt; 0.05</text>
<rect x="392.50" y="595.80" width="92.96" height="9.20" fill="#1c4587"/>
<text transform="translate(389.50 602.70) scale(0.97 1)" font-size="9.2" text-anchor="end" fill="#231f20" stroke="#231f20" stroke-width="0.22">Cell Cycle Checkpoints</text>
<rect x="392.50" y="606.70" width="47.75" height="8.70" fill="#8e9acb"/>
<text transform="translate(389.50 613.10) scale(0.97 1)" font-size="9.2" text-anchor="end" fill="#231f20" stroke="#231f20" stroke-width="0.22">Cell Cycle, Mitotic</text>
<rect x="336.11" y="617.10" width="56.39" height="8.70" fill="#fdc88a"/>
<text transform="translate(395.00 624.80) scale(0.98 1)" font-size="9.2" text-anchor="start" fill="#231f20" stroke="#231f20" stroke-width="0.22">Respiratory electron transport</text>
<rect x="319.35" y="627.80" width="73.15" height="9.20" fill="#fdc88a"/>
<text transform="translate(395.00 636.00) scale(0.98 1)" font-size="9.2" text-anchor="start" fill="#231f20" stroke="#231f20" stroke-width="0.22">Transport of small proteins</text>
<rect x="268.55" y="638.50" width="123.95" height="8.90" fill="#f5900f"/>
<text transform="translate(395.00 646.40) scale(0.98 1)" font-size="9.2" text-anchor="start" fill="#231f20" stroke="#231f20" stroke-width="0.22">Metabolism of proteins</text>
<rect x="251.28" y="648.80" width="141.22" height="9.20" fill="#f5900f"/>
<text transform="translate(395.00 657.00) scale(0.98 1)" font-size="9.2" text-anchor="start" fill="#231f20" stroke="#231f20" stroke-width="0.22">Mitochondrial translation</text>
<line x1="392.50" y1="595.00" x2="392.50" y2="660.00" stroke="#000" stroke-width="1.0"/>
<line x1="237.00" y1="660.00" x2="498.00" y2="660.00" stroke="#000" stroke-width="1.25"/>
<line x1="240.10" y1="660.00" x2="240.10" y2="663.20" stroke="#000" stroke-width="1.0"/>
<text transform="translate(240.10 673.60) scale(0.96 1)" font-size="9.3" text-anchor="middle" fill="#231f20" stroke="#231f20" stroke-width="0.22">–3.0</text>
<line x1="265.50" y1="660.00" x2="265.50" y2="663.20" stroke="#000" stroke-width="1.0"/>
<text transform="translate(265.50 673.60) scale(0.96 1)" font-size="9.3" text-anchor="middle" fill="#231f20" stroke="#231f20" stroke-width="0.22">–2.5</text>
<line x1="290.90" y1="660.00" x2="290.90" y2="663.20" stroke="#000" stroke-width="1.0"/>
<text transform="translate(290.90 673.60) scale(0.96 1)" font-size="9.3" text-anchor="middle" fill="#231f20" stroke="#231f20" stroke-width="0.22">–2.0</text>
<line x1="316.30" y1="660.00" x2="316.30" y2="663.20" stroke="#000" stroke-width="1.0"/>
<text transform="translate(316.30 673.60) scale(0.96 1)" font-size="9.3" text-anchor="middle" fill="#231f20" stroke="#231f20" stroke-width="0.22">–1.5</text>
<line x1="341.70" y1="660.00" x2="341.70" y2="663.20" stroke="#000" stroke-width="1.0"/>
<text transform="translate(341.70 673.60) scale(0.96 1)" font-size="9.3" text-anchor="middle" fill="#231f20" stroke="#231f20" stroke-width="0.22">–1.0</text>
<line x1="367.10" y1="660.00" x2="367.10" y2="663.20" stroke="#000" stroke-width="1.0"/>
<text transform="translate(367.10 673.60) scale(0.96 1)" font-size="9.3" text-anchor="middle" fill="#231f20" stroke="#231f20" stroke-width="0.22">–0.5</text>
<line x1="392.50" y1="660.00" x2="392.50" y2="663.20" stroke="#000" stroke-width="1.0"/>
<text transform="translate(392.50 673.60) scale(0.96 1)" font-size="9.3" text-anchor="middle" fill="#231f20" stroke="#231f20" stroke-width="0.22">0.0</text>
<line x1="417.90" y1="660.00" x2="417.90" y2="663.20" stroke="#000" stroke-width="1.0"/>
<text transform="translate(417.90 673.60) scale(0.96 1)" font-size="9.3" text-anchor="middle" fill="#231f20" stroke="#231f20" stroke-width="0.22">0.5</text>
<line x1="443.30" y1="660.00" x2="443.30" y2="663.20" stroke="#000" stroke-width="1.0"/>
<text transform="translate(443.30 673.60) scale(0.96 1)" font-size="9.3" text-anchor="middle" fill="#231f20" stroke="#231f20" stroke-width="0.22">1.0</text>
<line x1="468.70" y1="660.00" x2="468.70" y2="663.20" stroke="#000" stroke-width="1.0"/>
<text transform="translate(468.70 673.60) scale(0.96 1)" font-size="9.3" text-anchor="middle" fill="#231f20" stroke="#231f20" stroke-width="0.22">1.5</text>
<line x1="494.10" y1="660.00" x2="494.10" y2="663.20" stroke="#000" stroke-width="1.0"/>
<text transform="translate(494.10 673.60) scale(0.96 1)" font-size="9.3" text-anchor="middle" fill="#231f20" stroke="#231f20" stroke-width="0.22">2.0</text>
<text transform="translate(367.00 688.60) scale(0.795 1)" font-size="10.3" text-anchor="middle" fill="#231f20" stroke="#231f20" stroke-width="0.22">Normalized enrichment score</text>
</svg>
</body></html>
